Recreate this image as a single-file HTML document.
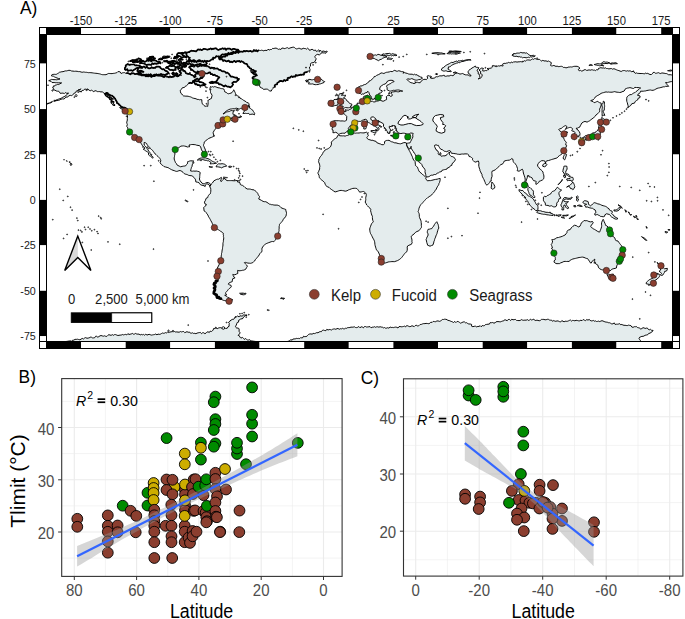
<!DOCTYPE html>
<html><head><meta charset="utf-8"><style>
html,body{margin:0;padding:0;background:#fff;}
body{width:685px;height:619px;overflow:hidden;}
svg{display:block;font-family:"Liberation Sans",sans-serif;}
</style></head><body>
<svg width="685" height="619" viewBox="0 0 685 619">
<rect width="685" height="619" fill="#fff"/>
<defs><clipPath id="mc"><rect x="46.5" y="34.5" width="626.0" height="307.0"/></clipPath>
<clipPath id="pb"><rect x="61.7" y="378.6" width="280.4" height="197.8"/></clipPath>
<clipPath id="pc"><rect x="403.5" y="378.8" width="279.4" height="197.3"/></clipPath></defs>
<text transform="translate(20.0,13.8) scale(1,1.09)" font-size="17.4" fill="#000">A)</text>
<g clip-path="url(#mc)">
<path d="M338.3,134.9L339.9,135.8L341.1,135.8L342.3,135.9L343.4,135.8L345.2,136.1L346.4,135.6L347.7,135.4L348.8,134.9L350.1,134.2L351.5,133.6L352.8,133.4L354.2,133.0L355.3,133.2L356.5,133.0L357.7,133.0L359.1,133.0L360.4,132.7L361.6,132.8L362.8,132.9L364.0,132.9L365.2,132.6L366.3,132.1L367.5,133.0L368.4,132.7L367.5,133.9L368.4,135.4L367.6,136.5L366.8,137.6L367.5,138.8L368.8,139.6L370.0,139.8L371.1,140.3L372.9,140.3L373.9,140.8L375.0,141.1L376.1,141.4L376.8,142.7L378.0,143.1L379.1,143.6L380.5,144.0L381.8,144.7L383.6,144.7L384.5,143.6L384.5,141.6L386.3,140.5L387.6,140.4L389.0,140.3L390.3,141.1L391.6,141.8L392.8,142.0L393.8,142.5L394.8,142.9L396.0,142.8L397.0,143.2L398.2,143.5L399.4,143.7L400.6,143.8L401.9,143.4L403.2,142.8L405.0,142.5L406.5,143.2L406.6,144.4L406.8,145.6L407.3,147.2L408.0,148.2L408.4,149.3L409.1,150.3L409.8,151.5L410.4,152.7L411.0,153.8L411.5,155.1L412.2,156.3L412.6,157.6L413.1,159.0L413.7,160.0L414.4,160.9L415.2,161.7L415.2,163.0L415.4,164.2L415.4,165.4L416.4,166.3L417.5,167.2L417.9,168.4L418.4,169.6L418.8,170.8L419.8,172.1L421.1,173.1L422.3,174.1L423.3,175.1L424.3,175.9L425.3,176.7L426.1,177.6L425.7,178.8L426.6,179.8L427.3,180.8L429.1,180.6L430.5,180.6L431.8,180.3L433.0,180.0L434.1,179.7L435.6,179.4L437.2,179.2L438.6,178.7L440.2,178.5L440.2,179.6L440.0,180.8L439.5,182.6L438.9,183.6L438.7,184.8L438.1,185.7L437.3,186.8L436.8,187.9L436.3,189.0L435.7,190.0L435.0,190.7L434.5,191.7L433.6,192.8L432.6,193.7L431.8,194.8L430.9,195.5L430.1,196.1L429.1,196.6L428.2,197.3L427.4,198.1L426.4,198.6L425.5,199.5L424.7,200.5L423.8,201.4L422.9,202.5L422.0,203.5L421.1,204.5L420.2,205.4L419.6,206.8L419.0,208.3L418.8,209.4L418.5,210.5L418.1,211.5L418.6,212.5L419.1,213.5L419.3,214.9L419.3,216.3L419.6,217.7L420.2,219.0L420.7,220.1L421.1,221.3L421.2,222.7L421.4,224.0L421.3,225.3L421.5,226.4L421.4,227.5L420.7,228.4L420.0,229.4L419.3,230.4L418.1,231.1L416.9,231.5L415.7,232.2L414.8,233.1L414.0,234.1L413.0,234.7L412.1,235.4L411.3,236.2L411.4,237.6L411.8,239.0L412.0,240.2L411.9,241.4L412.2,242.6L411.3,244.4L410.1,244.8L408.9,245.3L407.7,245.9L407.2,247.1L407.3,249.0L407.2,250.3L406.8,251.7L405.6,252.5L404.7,253.5L404.0,254.4L403.4,255.3L402.7,256.2L401.7,257.5L400.6,258.6L399.7,259.3L398.8,259.9L397.5,260.6L396.1,261.1L394.3,261.7L393.1,261.6L391.9,261.6L390.7,261.7L389.4,261.8L388.1,262.0L386.9,262.5L385.7,262.9L384.5,263.1L382.7,262.6L381.6,261.9L381.5,259.9L380.8,258.0L380.3,256.6L379.7,255.3L379.3,254.1L378.8,253.0L378.3,251.9L377.4,250.8L376.5,249.9L376.0,248.5L375.6,247.1L375.2,245.8L374.9,244.4L374.8,242.9L374.5,241.3L374.1,240.2L373.5,239.1L372.9,238.1L372.3,236.8L371.7,235.6L371.1,234.4L370.5,233.5L370.2,232.4L369.9,231.3L369.8,230.2L369.7,229.0L370.1,227.6L370.6,226.2L371.1,224.9L371.6,223.5L372.6,222.7L373.3,221.7L372.8,220.4L372.5,219.0L372.4,217.6L372.4,216.3L371.8,215.1L371.4,213.9L371.1,212.6L370.6,210.8L370.8,209.5L369.9,208.1L368.4,206.8L367.6,205.9L366.7,205.0L366.0,203.5L365.2,202.1L365.6,200.8L365.8,199.5L365.7,198.4L365.8,197.2L366.2,195.8L366.3,194.4L365.6,193.0L364.5,192.1L363.6,191.5L362.4,191.6L361.3,191.9L359.5,192.1L359.0,191.1L358.3,190.3L357.6,189.3L356.8,188.5L355.5,188.3L354.2,188.3L352.8,188.4L351.5,188.8L349.7,189.5L348.3,190.0L347.0,190.8L345.2,191.2L343.9,190.8L342.6,190.6L341.2,190.4L339.9,190.5L338.5,190.9L337.2,191.4L335.2,191.9L333.6,191.2L332.6,190.1L331.3,189.4L330.2,188.6L329.2,187.5L327.8,186.9L326.5,186.3L326.0,185.3L325.2,184.5L324.7,182.6L323.9,181.8L322.9,181.2L321.7,179.9L320.5,178.8L319.3,177.7L319.2,176.5L319.0,175.4L318.1,173.6L317.6,173.0L318.3,172.2L318.8,171.2L319.1,170.1L319.7,169.0L319.6,167.6L319.9,166.3L319.7,165.2L319.5,164.1L319.0,162.9L318.5,161.7L318.8,160.6L318.8,159.4L319.5,158.4L319.9,157.2L320.7,156.3L321.5,155.4L322.6,153.6L323.3,152.1L324.3,151.1L325.2,149.9L326.3,149.4L327.4,149.0L328.5,148.4L329.5,147.6L330.4,146.9L330.9,145.9L331.5,144.1L331.3,142.1L332.7,140.7L333.5,139.7L334.5,139.0L335.6,138.4L336.7,137.8L337.6,135.9ZM54.5,101.1L55.7,100.7L55.2,100.1L53.9,100.5ZM52.8,101.6L53.4,101.2L52.5,101.4ZM52.1,102.0L50.7,102.9L49.3,103.1L50.3,102.5L51.4,101.8ZM49.1,103.2L48.0,103.8L47.0,104.0L47.8,103.2ZM46.1,104.0L44.5,104.3L45.4,103.8ZM43.2,104.7L42.0,104.8L40.9,105.2L41.8,104.7ZM111.4,100.0L112.8,98.9L111.6,98.3L110.5,97.6L109.3,98.1L110.0,99.2ZM108.7,97.2L109.6,96.0L108.0,94.7L106.9,95.6L107.5,96.8ZM106.9,96.0L106.4,94.9L105.1,94.2L106.0,95.6ZM112.3,103.2L113.7,102.0L112.8,101.6L111.2,101.8L111.6,102.9ZM114.4,105.1L113.5,104.3L112.6,103.6L113.4,104.9ZM18.6,342.5L19.7,342.5L20.8,342.4L21.9,342.3L23.0,342.3L24.2,342.2L25.3,342.1L26.4,342.1L27.5,342.0L28.6,342.0L29.7,342.0L30.8,342.0L32.0,342.0L33.1,342.0L34.2,342.1L35.3,342.1L36.4,342.1L37.5,342.1L38.7,342.1L39.8,342.1L40.9,342.1L42.0,342.1L43.1,342.1L44.2,342.2L45.4,342.2L46.5,342.2L47.6,342.1L48.8,342.1L49.9,342.1L51.0,342.1L52.2,342.1L53.3,342.1L54.4,342.0L55.6,342.0L56.7,342.0L57.8,342.0L59.0,341.9L60.1,341.9L61.2,341.8L62.3,341.7L63.4,341.6L64.5,341.6L65.7,341.5L66.8,341.4L68.0,341.2L69.2,341.0L70.3,340.8L71.6,341.3L72.7,340.1L73.9,340.2L75.0,339.3L76.2,339.4L77.4,339.2L78.7,339.5L79.9,339.8L81.1,339.1L82.2,338.4L83.5,339.0L84.5,338.1L85.7,337.6L87.0,338.3L88.2,338.0L89.3,338.0L90.2,337.0L91.4,337.2L92.5,337.9L93.6,337.9L94.7,337.7L95.6,336.3L96.7,336.3L97.9,337.3L98.9,336.5L100.0,335.9L101.0,335.5L102.2,335.9L103.4,336.2L104.5,335.8L105.7,336.3L106.8,336.4L107.8,335.4L108.9,334.6L110.0,335.1L111.2,335.3L112.3,334.6L113.4,335.3L114.5,334.6L115.6,334.6L116.8,335.1L117.9,335.5L119.0,335.3L120.1,335.1L121.2,335.1L122.3,334.5L123.5,334.9L124.6,334.6L125.7,334.4L126.8,334.9L127.9,333.6L129.0,334.5L130.1,334.2L131.2,334.0L132.3,333.4L133.5,334.2L134.6,334.0L135.7,333.4L136.8,334.1L137.9,334.1L139.1,334.1L140.1,335.0L141.3,334.4L142.4,334.8L143.5,334.4L144.6,335.2L145.8,334.0L146.8,335.1L148.0,334.7L149.1,334.3L150.2,334.7L151.3,335.1L152.5,334.9L153.6,334.7L154.7,334.5L155.7,334.0L157.0,334.9L158.0,334.0L159.2,334.4L160.3,334.2L161.4,333.6L162.4,333.0L163.5,333.3L164.6,333.1L165.6,332.6L166.7,332.9L167.7,332.0L168.9,332.5L169.9,332.0L171.0,331.9L172.1,331.6L173.3,331.7L174.5,331.5L175.6,332.0L176.8,331.9L178.0,332.1L179.2,332.2L180.4,331.5L181.5,331.9L182.6,331.6L183.7,331.5L184.8,332.7L185.9,332.2L187.0,331.6L188.2,332.4L189.3,331.9L190.3,333.1L191.4,333.2L192.6,332.8L193.7,333.5L194.8,333.3L195.9,333.7L197.1,333.1L198.2,332.8L199.3,332.6L200.4,332.4L201.5,333.7L202.7,332.7L203.8,332.8L204.9,333.7L206.0,333.1L206.9,332.2L207.9,331.7L209.3,332.5L210.1,331.1L211.4,331.5L212.3,330.9L213.2,330.0L213.5,328.6L214.9,328.5L215.9,327.8L217.2,328.7L218.2,328.1L219.2,327.8L220.3,327.6L221.3,328.0L222.4,328.4L223.5,328.4L224.6,327.9L225.6,328.4L227.2,328.3L228.0,326.8L229.2,326.2L229.0,324.9L229.4,323.6L228.3,322.5L229.4,322.0L230.0,320.8L231.0,320.2L232.2,319.4L233.7,319.3L234.6,318.0L235.3,316.8L236.5,316.7L237.5,316.0L239.1,316.9L239.9,315.8L241.2,316.0L242.5,316.1L243.6,314.7L245.0,315.3L246.2,314.7L247.1,315.5L245.6,315.5L244.6,316.4L243.5,317.1L243.0,318.3L242.0,318.9L240.6,318.8L239.9,319.8L238.6,320.3L238.6,322.1L237.2,322.5L236.7,323.8L236.3,325.1L235.5,326.2L235.9,327.4L236.8,328.1L238.3,328.0L239.0,328.9L239.2,330.0L239.0,331.3L239.9,332.2L239.9,333.6L238.9,334.3L238.1,335.3L239.4,335.8L239.9,337.1L240.9,338.1L242.5,337.4L243.5,338.4L244.3,339.4L245.7,338.5L246.5,339.4L247.5,340.0L248.6,340.0L249.8,339.7L250.6,340.7L251.7,340.9L252.9,341.1L254.0,341.3L255.1,341.4L256.2,341.6L257.3,341.8L258.4,342.0L259.6,342.2L260.7,342.2L261.8,342.3L262.9,342.3L264.0,342.4L265.1,342.4L266.2,342.4L267.4,342.5L268.5,342.5L269.6,342.6L270.7,342.7L271.9,342.8L273.0,342.9L274.2,342.9L275.3,343.0L276.4,343.1L277.6,343.2L278.7,343.3L279.8,343.4L281.0,343.4L282.1,343.1L283.2,342.8L284.3,342.4L285.4,342.1L286.5,341.7L287.7,341.4L288.8,341.1L289.9,340.7L290.7,339.6L292.1,340.2L292.9,339.1L294.1,338.9L295.2,338.9L296.3,338.4L297.4,338.5L298.5,338.4L299.7,338.6L300.6,337.6L301.8,337.9L302.9,337.6L303.5,336.2L304.8,336.7L305.9,336.5L306.9,336.3L307.7,335.3L308.6,334.4L309.7,334.0L310.9,333.9L312.1,334.2L313.1,333.4L314.4,333.6L315.6,333.2L316.7,332.6L318.0,332.8L319.1,332.0L320.2,331.6L321.4,331.7L322.3,330.4L323.4,330.1L324.7,330.5L325.9,330.7L326.8,329.3L328.1,330.0L329.2,329.5L330.3,329.6L331.5,330.0L332.5,329.3L333.6,329.0L334.7,328.9L335.9,329.3L337.0,328.6L338.1,328.5L339.2,329.3L340.3,328.7L341.4,328.9L342.4,328.3L343.5,328.8L344.6,328.8L345.6,328.2L346.7,328.3L347.7,327.6L348.8,327.6L349.9,327.5L351.0,327.1L352.1,327.2L353.2,327.1L354.4,326.8L355.5,327.5L356.6,327.6L357.7,327.3L358.8,326.5L360.0,327.8L361.1,326.8L362.2,326.9L363.3,327.9L364.4,326.6L365.5,326.5L366.7,327.1L367.8,326.9L368.9,326.8L370.0,326.6L371.1,327.8L372.2,327.2L373.3,327.2L374.5,326.7L375.6,327.3L376.7,326.8L377.8,326.8L378.9,327.2L380.1,326.7L381.2,327.1L382.3,327.1L383.4,327.9L384.5,327.5L385.6,328.2L386.7,328.1L387.8,327.7L388.9,328.2L390.1,327.0L391.2,327.5L392.3,327.4L393.4,327.6L394.5,327.3L395.6,327.1L396.8,327.3L398.0,328.0L399.0,326.6L400.1,326.5L401.2,326.8L402.4,326.7L403.4,326.5L404.4,326.1L405.7,326.9L406.6,325.6L407.7,325.8L408.7,326.3L409.8,326.7L410.9,326.4L412.0,325.7L413.1,326.2L414.2,326.6L415.2,325.6L416.2,325.2L417.3,325.9L418.4,325.8L419.4,325.3L420.2,324.5L421.4,324.4L422.5,323.9L423.7,323.6L424.9,323.6L426.1,323.4L427.3,323.5L428.8,323.7L429.9,323.2L430.9,322.2L432.2,322.4L433.2,321.4L434.5,321.6L435.7,321.7L436.8,321.0L438.1,320.9L439.3,321.4L440.4,321.0L441.4,320.4L442.3,319.5L443.4,319.5L444.6,319.2L445.8,319.3L447.0,319.6L447.9,320.4L449.1,320.5L450.2,321.0L451.2,321.4L452.3,321.8L453.5,322.5L454.8,321.4L455.9,322.6L457.1,321.4L458.3,321.6L459.5,322.4L460.6,323.2L461.8,322.6L463.1,322.0L464.3,321.8L465.4,322.8L466.6,322.7L467.7,323.5L468.8,324.0L470.2,324.0L471.6,324.4L471.6,326.2L472.9,326.7L474.2,326.3L475.5,326.2L476.7,326.9L477.9,326.4L479.1,326.5L480.1,325.6L481.3,326.8L482.2,325.5L483.4,325.8L484.5,325.6L485.4,324.6L486.7,324.4L488.0,324.2L489.4,324.1L490.2,322.6L491.6,322.7L492.7,322.5L493.9,323.1L495.0,322.9L495.9,321.9L497.0,321.6L498.0,321.6L499.1,321.7L500.2,321.9L501.3,321.5L502.3,321.1L503.6,321.0L504.5,319.8L505.9,320.0L507.1,320.8L508.2,319.5L509.4,319.4L510.7,320.5L511.8,319.2L513.0,319.8L514.2,319.6L515.5,319.4L516.6,320.5L517.8,320.5L519.0,320.6L520.2,320.5L521.3,319.6L522.5,320.1L523.8,320.3L524.9,320.1L526.2,320.2L527.3,319.6L528.4,320.4L529.4,320.3L530.5,319.1L531.6,320.0L532.7,319.6L533.8,319.1L534.7,320.3L535.8,320.5L536.9,320.2L538.0,320.4L539.2,320.8L540.4,320.4L541.5,319.4L542.7,319.4L543.9,319.4L545.1,319.8L546.2,319.7L547.3,319.3L548.4,319.3L549.4,320.0L550.5,320.2L551.6,320.1L552.5,321.3L553.8,320.5L554.8,321.1L555.9,321.3L557.0,320.9L558.2,321.0L559.4,321.6L560.6,322.0L561.8,320.6L563.0,321.3L564.1,321.8L565.1,321.2L566.2,321.3L567.3,321.3L568.4,320.9L569.4,320.4L570.4,320.0L571.6,321.1L572.6,320.4L573.7,320.5L574.9,320.8L576.1,320.3L577.3,320.5L578.5,320.8L579.7,320.8L580.9,320.2L582.0,320.7L583.2,319.5L584.4,320.2L585.6,320.6L586.8,319.5L588.0,320.2L589.1,319.4L590.1,320.3L591.2,320.9L592.3,320.8L593.3,320.4L594.3,321.2L595.5,320.9L596.5,321.5L597.6,321.4L598.7,321.1L599.7,321.6L600.8,321.1L602.0,320.7L603.0,321.0L604.1,321.5L605.1,321.9L606.2,322.1L607.3,322.2L608.3,322.7L609.4,322.7L610.5,323.2L611.7,323.9L612.9,323.8L614.3,322.9L615.2,324.5L616.5,324.2L617.6,324.2L618.7,324.0L619.8,323.7L620.8,324.8L621.9,324.4L622.9,325.0L624.0,325.3L625.1,325.3L626.2,325.5L627.3,325.6L628.6,325.1L629.7,325.4L630.9,325.6L631.9,327.1L633.1,327.3L634.4,326.7L635.6,326.7L636.7,326.7L637.6,327.6L638.7,327.8L639.8,328.2L640.8,329.1L641.9,328.5L643.0,327.7L644.1,327.9L645.1,328.5L646.3,328.1L647.4,328.1L648.3,329.4L649.3,329.8L650.5,329.3L651.6,330.3L653.1,330.4L652.2,331.8L651.1,332.4L650.0,333.2L648.7,333.4L647.8,334.7L646.5,335.0L645.1,335.3L644.1,335.9L643.1,336.4L641.9,336.3L640.9,336.8L639.8,337.1L639.0,338.4L639.8,339.8L640.6,340.7L641.5,341.6L642.7,341.7L643.9,341.8L645.1,341.9L646.3,342.0L647.5,342.1L648.7,342.2L649.8,342.2L651.0,342.3L652.1,342.3L653.2,342.4L654.4,342.4L655.5,342.5L656.6,342.5L657.8,342.6L658.9,342.6L660.0,342.7L661.2,342.7L662.3,342.7L663.4,342.6L664.5,342.6L665.6,342.5L666.8,342.5L667.9,342.4L669.0,342.4L670.1,342.4L671.2,342.4L672.3,342.4L673.4,342.4L674.6,342.4L675.7,342.5L676.8,342.5L677.9,342.5L679.0,342.5L679.0,343.6L679.0,344.7L679.0,345.8L679.0,346.9L679.0,348.0L679.0,349.1L679.0,350.2L679.0,351.3L679.0,352.4L679.0,353.5L679.0,354.6L679.0,355.7L679.0,356.8L679.0,357.9L679.0,359.0L679.0,360.1L679.0,361.2L679.0,362.3L679.0,363.4L678.0,363.4L676.9,363.4L675.8,363.4L674.7,363.4L673.7,363.4L672.6,363.4L671.5,363.4L670.4,363.4L669.4,363.4L668.3,363.4L667.2,363.4L666.2,363.4L665.1,363.4L664.0,363.4L662.9,363.4L661.9,363.4L660.8,363.4L659.7,363.4L658.7,363.4L657.6,363.4L656.5,363.4L655.4,363.4L654.4,363.4L653.3,363.4L652.2,363.4L651.1,363.4L650.1,363.4L649.0,363.4L647.9,363.4L646.9,363.4L645.8,363.4L644.7,363.4L643.6,363.4L642.6,363.4L641.5,363.4L640.4,363.4L639.4,363.4L638.3,363.4L637.2,363.4L636.1,363.4L635.1,363.4L634.0,363.4L632.9,363.4L631.9,363.4L630.8,363.4L629.7,363.4L628.6,363.4L627.6,363.4L626.5,363.4L625.4,363.4L624.3,363.4L623.3,363.4L622.2,363.4L621.1,363.4L620.1,363.4L619.0,363.4L617.9,363.4L616.8,363.4L615.8,363.4L614.7,363.4L613.6,363.4L612.6,363.4L611.5,363.4L610.4,363.4L609.3,363.4L608.3,363.4L607.2,363.4L606.1,363.4L605.0,363.4L604.0,363.4L602.9,363.4L601.8,363.4L600.8,363.4L599.7,363.4L598.6,363.4L597.5,363.4L596.5,363.4L595.4,363.4L594.3,363.4L593.3,363.4L592.2,363.4L591.1,363.4L590.0,363.4L589.0,363.4L587.9,363.4L586.8,363.4L585.7,363.4L584.7,363.4L583.6,363.4L582.5,363.4L581.5,363.4L580.4,363.4L579.3,363.4L578.2,363.4L577.2,363.4L576.1,363.4L575.0,363.4L574.0,363.4L572.9,363.4L571.8,363.4L570.7,363.4L569.7,363.4L568.6,363.4L567.5,363.4L566.4,363.4L565.4,363.4L564.3,363.4L563.2,363.4L562.2,363.4L561.1,363.4L560.0,363.4L558.9,363.4L557.9,363.4L556.8,363.4L555.7,363.4L554.7,363.4L553.6,363.4L552.5,363.4L551.4,363.4L550.4,363.4L549.3,363.4L548.2,363.4L547.1,363.4L546.1,363.4L545.0,363.4L543.9,363.4L542.9,363.4L541.8,363.4L540.7,363.4L539.6,363.4L538.6,363.4L537.5,363.4L536.4,363.4L535.4,363.4L534.3,363.4L533.2,363.4L532.1,363.4L531.1,363.4L530.0,363.4L528.9,363.4L527.9,363.4L526.8,363.4L525.7,363.4L524.6,363.4L523.6,363.4L522.5,363.4L521.4,363.4L520.3,363.4L519.3,363.4L518.2,363.4L517.1,363.4L516.1,363.4L515.0,363.4L513.9,363.4L512.8,363.4L511.8,363.4L510.7,363.4L509.6,363.4L508.6,363.4L507.5,363.4L506.4,363.4L505.3,363.4L504.3,363.4L503.2,363.4L502.1,363.4L501.0,363.4L500.0,363.4L498.9,363.4L497.8,363.4L496.8,363.4L495.7,363.4L494.6,363.4L493.5,363.4L492.5,363.4L491.4,363.4L490.3,363.4L489.3,363.4L488.2,363.4L487.1,363.4L486.0,363.4L485.0,363.4L483.9,363.4L482.8,363.4L481.7,363.4L480.7,363.4L479.6,363.4L478.5,363.4L477.5,363.4L476.4,363.4L475.3,363.4L474.2,363.4L473.2,363.4L472.1,363.4L471.0,363.4L470.0,363.4L468.9,363.4L467.8,363.4L466.7,363.4L465.7,363.4L464.6,363.4L463.5,363.4L462.4,363.4L461.4,363.4L460.3,363.4L459.2,363.4L458.2,363.4L457.1,363.4L456.0,363.4L454.9,363.4L453.9,363.4L452.8,363.4L451.7,363.4L450.7,363.4L449.6,363.4L448.5,363.4L447.4,363.4L446.4,363.4L445.3,363.4L444.2,363.4L443.2,363.4L442.1,363.4L441.0,363.4L439.9,363.4L438.9,363.4L437.8,363.4L436.7,363.4L435.6,363.4L434.6,363.4L433.5,363.4L432.4,363.4L431.4,363.4L430.3,363.4L429.2,363.4L428.1,363.4L427.1,363.4L426.0,363.4L424.9,363.4L423.9,363.4L422.8,363.4L421.7,363.4L420.6,363.4L419.6,363.4L418.5,363.4L417.4,363.4L416.3,363.4L415.3,363.4L414.2,363.4L413.1,363.4L412.1,363.4L411.0,363.4L409.9,363.4L408.8,363.4L407.8,363.4L406.7,363.4L405.6,363.4L404.6,363.4L403.5,363.4L402.4,363.4L401.3,363.4L400.3,363.4L399.2,363.4L398.1,363.4L397.0,363.4L396.0,363.4L394.9,363.4L393.8,363.4L392.8,363.4L391.7,363.4L390.6,363.4L389.5,363.4L388.5,363.4L387.4,363.4L386.3,363.4L385.3,363.4L384.2,363.4L383.1,363.4L382.0,363.4L381.0,363.4L379.9,363.4L378.8,363.4L377.7,363.4L376.7,363.4L375.6,363.4L374.5,363.4L373.5,363.4L372.4,363.4L371.3,363.4L370.2,363.4L369.2,363.4L368.1,363.4L367.0,363.4L366.0,363.4L364.9,363.4L363.8,363.4L362.7,363.4L361.7,363.4L360.6,363.4L359.5,363.4L358.4,363.4L357.4,363.4L356.3,363.4L355.2,363.4L354.2,363.4L353.1,363.4L352.0,363.4L350.9,363.4L349.9,363.4L348.8,363.4L347.7,363.4L346.7,363.4L345.6,363.4L344.5,363.4L343.4,363.4L342.4,363.4L341.3,363.4L340.2,363.4L339.2,363.4L338.1,363.4L337.0,363.4L335.9,363.4L334.9,363.4L333.8,363.4L332.7,363.4L331.6,363.4L330.6,363.4L329.5,363.4L328.4,363.4L327.4,363.4L326.3,363.4L325.2,363.4L324.1,363.4L323.1,363.4L322.0,363.4L320.9,363.4L319.9,363.4L318.8,363.4L317.7,363.4L316.6,363.4L315.6,363.4L314.5,363.4L313.4,363.4L312.3,363.4L311.3,363.4L310.2,363.4L309.1,363.4L308.1,363.4L307.0,363.4L305.9,363.4L304.8,363.4L303.8,363.4L302.7,363.4L301.6,363.4L300.6,363.4L299.5,363.4L298.4,363.4L297.3,363.4L296.3,363.4L295.2,363.4L294.1,363.4L293.0,363.4L292.0,363.4L290.9,363.4L289.8,363.4L288.8,363.4L287.7,363.4L286.6,363.4L285.5,363.4L284.5,363.4L283.4,363.4L282.3,363.4L281.3,363.4L280.2,363.4L279.1,363.4L278.0,363.4L277.0,363.4L275.9,363.4L274.8,363.4L273.7,363.4L272.7,363.4L271.6,363.4L270.5,363.4L269.5,363.4L268.4,363.4L267.3,363.4L266.2,363.4L265.2,363.4L264.1,363.4L263.0,363.4L262.0,363.4L260.9,363.4L259.8,363.4L258.7,363.4L257.7,363.4L256.6,363.4L255.5,363.4L254.4,363.4L253.4,363.4L252.3,363.4L251.2,363.4L250.2,363.4L249.1,363.4L248.0,363.4L246.9,363.4L245.9,363.4L244.8,363.4L243.7,363.4L242.7,363.4L241.6,363.4L240.5,363.4L239.4,363.4L238.4,363.4L237.3,363.4L236.2,363.4L235.2,363.4L234.1,363.4L233.0,363.4L231.9,363.4L230.9,363.4L229.8,363.4L228.7,363.4L227.6,363.4L226.6,363.4L225.5,363.4L224.4,363.4L223.4,363.4L222.3,363.4L221.2,363.4L220.1,363.4L219.1,363.4L218.0,363.4L216.9,363.4L215.9,363.4L214.8,363.4L213.7,363.4L212.6,363.4L211.6,363.4L210.5,363.4L209.4,363.4L208.3,363.4L207.3,363.4L206.2,363.4L205.1,363.4L204.1,363.4L203.0,363.4L201.9,363.4L200.8,363.4L199.8,363.4L198.7,363.4L197.6,363.4L196.6,363.4L195.5,363.4L194.4,363.4L193.3,363.4L192.3,363.4L191.2,363.4L190.1,363.4L189.0,363.4L188.0,363.4L186.9,363.4L185.8,363.4L184.8,363.4L183.7,363.4L182.6,363.4L181.5,363.4L180.5,363.4L179.4,363.4L178.3,363.4L177.3,363.4L176.2,363.4L175.1,363.4L174.0,363.4L173.0,363.4L171.9,363.4L170.8,363.4L169.7,363.4L168.7,363.4L167.6,363.4L166.5,363.4L165.5,363.4L164.4,363.4L163.3,363.4L162.2,363.4L161.2,363.4L160.1,363.4L159.0,363.4L158.0,363.4L156.9,363.4L155.8,363.4L154.7,363.4L153.7,363.4L152.6,363.4L151.5,363.4L150.5,363.4L149.4,363.4L148.3,363.4L147.2,363.4L146.2,363.4L145.1,363.4L144.0,363.4L142.9,363.4L141.9,363.4L140.8,363.4L139.7,363.4L138.7,363.4L137.6,363.4L136.5,363.4L135.4,363.4L134.4,363.4L133.3,363.4L132.2,363.4L131.2,363.4L130.1,363.4L129.0,363.4L127.9,363.4L126.9,363.4L125.8,363.4L124.7,363.4L123.6,363.4L122.6,363.4L121.5,363.4L120.4,363.4L119.4,363.4L118.3,363.4L117.2,363.4L116.1,363.4L115.1,363.4L114.0,363.4L112.9,363.4L111.9,363.4L110.8,363.4L109.7,363.4L108.6,363.4L107.6,363.4L106.5,363.4L105.4,363.4L104.3,363.4L103.3,363.4L102.2,363.4L101.1,363.4L100.1,363.4L99.0,363.4L97.9,363.4L96.8,363.4L95.8,363.4L94.7,363.4L93.6,363.4L92.6,363.4L91.5,363.4L90.4,363.4L89.3,363.4L88.3,363.4L87.2,363.4L86.1,363.4L85.0,363.4L84.0,363.4L82.9,363.4L81.8,363.4L80.8,363.4L79.7,363.4L78.6,363.4L77.5,363.4L76.5,363.4L75.4,363.4L74.3,363.4L73.3,363.4L72.2,363.4L71.1,363.4L70.0,363.4L69.0,363.4L67.9,363.4L66.8,363.4L65.8,363.4L64.7,363.4L63.6,363.4L62.5,363.4L61.5,363.4L60.4,363.4L59.3,363.4L58.2,363.4L57.2,363.4L56.1,363.4L55.0,363.4L54.0,363.4L52.9,363.4L51.8,363.4L50.7,363.4L49.7,363.4L48.6,363.4L47.5,363.4L46.5,363.4L45.4,363.4L44.3,363.4L43.2,363.4L42.2,363.4L41.1,363.4L40.0,363.4L38.9,363.4L37.9,363.4L36.8,363.4L35.7,363.4L34.7,363.4L33.6,363.4L32.5,363.4L31.4,363.4L30.4,363.4L29.3,363.4L28.2,363.4L27.2,363.4L26.1,363.4L25.0,363.4L23.9,363.4L22.9,363.4L21.8,363.4L20.7,363.4L19.6,363.4L18.6,363.4L18.6,362.3L18.6,361.2L18.6,360.1L18.6,359.0L18.6,357.9L18.6,356.8L18.6,355.7L18.6,354.6L18.6,353.5L18.6,352.4L18.6,351.3L18.6,350.2L18.6,349.1L18.6,348.0L18.6,346.9L18.6,345.8L18.6,344.7L18.6,343.6ZM551.6,239.9L552.6,240.8L552.4,242.2L551.9,243.5L551.2,244.4L551.7,245.6L552.1,246.8L552.6,247.7L551.4,248.1L552.3,249.3L553.0,250.8L553.5,251.9L553.9,253.1L554.0,254.2L554.1,255.3L554.7,256.4L555.3,257.5L555.3,258.7L555.3,259.9L554.1,260.8L554.1,262.2L555.0,262.8L555.9,263.5L557.0,263.7L558.1,263.6L559.3,263.7L560.6,262.9L562.1,262.4L563.9,261.5L565.2,261.4L566.6,261.5L567.9,261.4L569.2,261.5L570.5,259.9L571.7,259.5L572.8,259.0L574.2,258.7L575.5,258.4L576.7,258.1L577.9,257.8L579.1,257.5L580.3,257.4L581.4,257.2L582.6,257.1L584.0,257.4L585.3,258.0L586.4,258.4L587.6,258.6L588.5,259.9L589.4,261.2L590.1,262.6L591.2,263.1L592.1,261.3L593.3,260.4L594.8,259.1L594.7,260.2L594.4,261.3L594.1,263.3L595.3,262.2L595.8,264.0L596.4,264.4L598.0,265.3L598.3,267.1L599.0,268.1L599.8,268.9L601.6,269.7L602.6,269.9L603.7,270.0L605.1,270.4L606.1,269.8L607.3,269.5L608.5,270.0L609.9,270.9L610.9,270.3L611.7,269.3L612.8,268.9L613.9,268.6L615.1,268.4L616.4,268.0L616.7,266.0L617.2,264.8L617.8,263.7L618.1,262.6L618.7,261.7L619.4,259.9L620.2,259.1L621.0,258.4L621.7,257.0L622.1,255.0L622.7,253.5L623.0,251.9L622.6,250.7L622.3,249.5L622.2,248.3L622.1,247.1L621.5,245.7L620.6,244.7L619.8,243.7L619.2,242.8L618.5,241.9L618.0,241.0L616.8,240.8L615.7,240.4L615.2,239.2L614.8,238.1L613.5,236.6L612.6,236.0L611.6,235.5L610.8,234.8L610.3,233.6L609.6,232.6L609.2,230.6L608.3,229.3L608.2,228.3L608.2,227.2L606.9,225.9L605.5,225.3L605.3,224.2L604.9,223.2L604.2,221.8L603.7,220.4L603.2,219.3L602.3,220.8L601.6,222.8L601.5,224.1L601.7,225.3L601.6,226.7L601.2,228.1L600.8,229.2L600.3,230.3L600.1,231.5L599.1,232.1L597.3,231.2L595.7,230.1L594.5,229.4L593.3,228.8L592.4,228.1L591.4,227.5L590.7,226.6L591.4,225.0L592.5,223.9L593.2,222.2L592.5,221.5L590.7,221.9L588.9,221.5L587.6,220.9L586.2,220.6L585.1,220.8L584.1,220.4L583.3,221.2L582.6,222.1L581.4,222.8L580.7,224.6L580.0,226.2L578.2,227.0L577.3,226.3L576.4,225.7L574.6,225.2L573.0,226.2L572.1,227.2L571.0,228.1L570.1,229.7L568.4,229.9L567.1,231.3L566.9,232.8L566.0,233.8L565.1,235.0L563.9,235.5L562.6,236.2L560.9,236.8L559.7,237.1L558.5,237.5L556.8,237.7L555.9,238.4L555.0,239.0L553.4,239.5ZM187.3,56.4L186.3,57.4L185.0,56.9L183.8,56.7L182.8,57.4L181.6,57.8L180.7,56.8L179.7,56.3L178.6,55.9L177.4,56.4L176.9,55.1L177.4,53.8L178.5,53.0L179.8,53.1L181.0,53.1L182.2,52.7L183.5,53.1L184.6,52.4L186.0,52.6L186.4,54.0L186.6,55.3ZM239.0,78.9L238.3,80.1L237.2,80.9L236.2,81.8L235.0,82.0L233.7,81.8L232.2,83.1L233.1,84.5L232.5,85.4L231.9,86.3L230.1,87.4L229.0,86.7L227.7,86.7L226.5,86.2L225.4,85.4L224.1,86.5L223.0,85.8L221.7,84.8L220.3,84.3L219.0,84.4L218.3,83.0L217.1,82.9L215.9,82.7L214.6,82.5L213.4,82.9L212.2,83.1L211.0,82.2L209.6,82.5L210.9,83.2L211.9,81.6L213.2,82.2L214.4,82.0L215.6,81.7L216.7,81.1L217.2,80.1L217.6,79.1L218.6,78.3L219.4,77.3L217.9,76.7L216.7,75.8L215.5,75.6L214.6,74.7L213.1,75.2L212.2,74.0L210.8,74.2L210.1,72.4L208.7,72.7L207.6,73.4L206.5,73.5L205.4,73.4L204.2,72.9L203.2,72.1L202.0,73.3L201.0,72.8L200.0,71.6L198.9,72.3L197.8,71.3L196.5,72.9L195.5,72.2L194.4,71.8L193.4,70.8L192.3,69.9L190.8,70.0L190.8,68.7L190.0,67.9L189.0,67.3L190.2,66.2L191.7,66.0L192.9,66.3L194.1,66.7L195.3,65.3L196.5,65.6L197.7,66.7L198.9,66.2L200.1,65.4L201.4,65.9L202.6,65.5L203.8,65.7L205.1,66.0L206.5,65.7L207.5,66.3L208.7,66.6L209.6,67.6L210.6,68.3L211.8,67.6L212.8,68.0L213.9,67.8L214.9,68.3L216.0,68.7L217.2,68.3L218.2,69.1L219.1,69.9L220.3,69.8L221.3,70.7L222.4,71.4L223.9,71.3L225.0,71.7L226.0,72.9L227.4,72.5L228.3,73.4L229.2,74.2L230.1,75.6L231.0,76.7L232.3,76.5L233.4,77.0L234.6,77.4L235.7,77.7L237.0,77.5L237.6,79.4ZM554.1,214.6L555.3,215.2L554.4,215.9ZM555.9,215.2L557.1,214.8L556.8,216.1ZM557.6,215.2L558.8,214.9L560.0,214.9L561.2,214.8L560.3,215.9L559.2,216.1L558.0,216.3ZM562.6,215.3L564.2,215.3L565.7,215.3L567.0,215.0L568.4,215.0L566.6,215.9L565.4,215.8L564.2,215.9L563.0,215.9ZM561.2,217.2L562.6,217.0L563.9,217.2L564.4,218.4L563.3,217.9L562.1,217.7ZM569.2,218.6L570.1,217.6L571.0,216.6L572.1,216.2L573.3,216.0L574.4,215.4L575.5,215.0L574.3,215.8L573.2,216.6L571.9,217.2L571.0,217.7L570.1,218.4ZM133.7,70.0L132.7,71.0L131.5,70.3L130.4,70.4L129.2,70.5L127.9,70.9L127.2,69.1L125.8,70.0L124.8,69.3L124.9,67.9L125.7,66.8L125.7,65.4L126.6,64.7L127.8,64.0L129.1,64.9L130.3,64.7L131.6,64.5L132.8,64.5L134.1,64.3L135.2,65.5L136.5,65.3L137.8,65.5L139.1,65.6L140.4,66.2L141.7,66.9L140.8,67.8L139.5,67.1L138.7,68.3L137.4,67.9L136.4,68.3L135.0,69.2ZM174.8,64.0L173.7,63.5L172.6,63.9L171.5,64.6L170.5,64.0L169.4,63.6L168.1,62.9L167.6,61.4L168.9,61.6L170.1,61.6L171.4,61.5L172.6,60.9L173.9,60.9L175.3,61.3L176.5,62.2L176.0,63.4ZM543.4,197.2L544.4,196.3L546.0,196.8L547.3,195.5L548.4,195.2L549.4,194.5L550.5,194.1L551.3,192.7L552.3,191.5L553.5,191.1L554.8,190.6L555.9,189.0L556.7,188.2L557.3,187.2L558.2,187.9L559.4,189.0L560.5,189.6L561.6,190.1L560.1,191.2L559.1,192.3L558.9,193.9L559.4,195.5L560.1,196.9L561.0,198.1L559.3,198.4L558.5,200.4L558.5,201.4L556.9,202.6L556.7,203.8L556.8,205.0L555.9,206.6L554.6,206.9L553.4,206.8L552.4,206.3L551.4,205.7L550.3,206.0L549.3,206.1L548.0,205.4L546.7,205.4L545.5,205.2L545.3,204.1L545.3,203.0L544.4,201.9L543.5,200.8L543.4,199.2ZM573.7,205.7L575.5,205.5L575.9,206.8L574.1,206.8ZM182.8,63.8L181.7,64.0L180.7,64.0L179.6,64.2L178.5,64.0L177.4,63.8L176.5,62.5L177.6,62.0L178.9,62.7L179.8,61.7L181.0,61.8L181.8,62.9ZM364.2,122.5L365.6,121.8L365.8,123.6L365.2,124.7L364.3,124.1ZM390.7,135.2L392.5,135.6L393.6,135.5L394.7,135.8L395.7,135.8L395.4,136.3L394.1,136.3L392.9,136.5L391.9,136.1L390.7,135.9ZM197.3,160.1L198.4,159.1L199.8,158.3L201.3,158.0L202.8,157.9L204.1,157.9L205.5,157.9L206.7,158.4L208.0,158.7L209.2,159.2L210.3,159.8L211.2,160.5L212.2,161.2L213.3,161.7L214.4,162.1L215.4,162.7L216.5,163.2L215.1,163.4L213.7,163.7L212.5,163.7L211.3,163.8L210.1,163.9L211.0,162.5L209.8,161.7L208.7,160.8L207.5,160.8L206.3,160.3L205.1,160.3L203.9,159.9L202.8,159.6L201.5,159.6L200.3,159.9L198.8,159.9ZM406.5,136.3L407.7,135.6L409.1,135.2L410.6,135.0L409.3,136.5L407.7,137.0L406.6,136.9ZM205.1,64.5L203.9,64.7L202.6,65.3L201.4,64.4L200.1,63.7L198.9,64.5L197.7,64.3L196.5,64.6L195.3,65.2L194.1,65.3L192.9,64.3L191.7,64.4L190.5,64.1L189.3,63.5L188.0,64.4L186.8,63.5L185.5,64.0L184.9,62.8L183.7,62.7L185.1,63.1L186.2,62.7L186.9,61.2L188.2,61.1L189.3,61.8L190.6,60.3L191.7,61.9L192.9,60.5L194.1,61.9L195.3,61.3L196.5,62.1L197.7,60.7L198.9,61.5L200.0,60.6L201.3,61.5L202.4,60.9L203.5,61.9L204.9,60.9L206.0,61.6L206.9,63.3L206.2,64.2ZM387.2,59.3L388.3,59.2L389.4,59.3L390.5,59.6L391.6,59.4L392.5,58.5L391.4,58.4L390.3,58.2L389.2,58.0L388.1,57.8ZM206.9,60.9L205.8,61.8L204.6,60.6L203.6,62.0L202.4,61.3L201.2,61.6L200.1,60.3L198.9,60.2L197.7,61.3L196.5,61.5L195.3,60.9L194.1,60.1L192.8,60.4L191.5,61.1L190.3,60.0L189.0,60.5L188.9,59.0L189.9,57.8L188.9,57.5L188.0,56.5L186.8,56.7L185.6,56.8L184.6,56.4L183.8,55.6L182.6,55.3L182.3,53.8L181.0,53.6L182.1,52.9L183.4,53.4L184.5,52.6L185.7,52.4L187.0,52.6L188.2,52.2L189.3,52.2L190.3,51.2L191.3,50.7L192.5,50.8L193.7,50.9L194.9,51.2L196.1,51.4L197.1,50.4L198.1,49.4L199.3,49.8L200.4,49.4L201.6,50.2L202.7,49.6L203.8,48.8L205.0,49.0L206.1,49.3L207.3,49.7L208.4,49.3L209.6,49.1L210.7,48.4L211.8,49.3L212.9,48.7L214.0,48.8L215.1,48.3L216.2,48.4L217.3,49.4L218.4,49.9L219.5,49.4L220.6,49.1L221.7,48.8L222.7,48.3L223.9,48.9L225.0,48.3L226.1,49.9L227.3,48.5L228.4,48.6L229.6,48.6L230.7,49.2L231.8,49.8L233.0,48.8L234.1,48.9L235.2,49.2L236.3,49.6L238.0,49.6L239.0,50.9L237.8,50.9L236.6,50.7L235.6,51.8L234.5,52.5L233.2,51.7L232.2,52.9L231.0,52.7L230.0,53.8L228.5,52.9L227.5,53.8L226.3,54.2L225.0,54.2L223.9,54.5L222.6,54.4L221.6,54.8L220.8,56.1L219.7,56.5L218.5,56.4L217.4,56.5L216.2,56.1L215.4,57.7L214.3,57.9L213.1,57.6L213.1,59.4L211.8,59.3L210.7,60.2L209.5,61.0L208.3,61.3ZM406.8,145.6L406.6,144.4L406.5,143.2L407.6,143.2L408.7,143.0L409.8,143.0L410.6,141.6L411.5,139.8L412.3,138.4L412.9,136.9L412.7,134.9L413.2,133.4L412.3,133.2L410.7,133.0L409.1,134.1L407.3,134.3L405.9,133.6L404.7,133.3L403.4,133.2L402.2,133.3L400.9,133.6L399.1,133.2L397.5,132.3L397.0,131.0L395.9,130.3L396.6,128.7L395.6,128.1L395.7,127.0L395.4,126.1L395.2,125.8L393.4,125.6L391.6,125.9L391.1,126.9L389.7,126.1L389.1,126.9L389.7,128.3L390.2,129.4L391.6,130.5L389.9,130.9L390.0,131.9L389.7,133.4L389.0,133.6L387.5,132.9L387.2,131.2L386.5,130.3L385.7,128.9L384.7,127.8L383.4,126.5L383.6,124.9L383.4,123.8L382.0,122.9L381.0,122.4L380.0,121.8L378.9,121.3L377.7,120.9L376.7,120.2L375.8,119.6L375.2,118.1L374.3,117.6L373.3,116.9L371.8,117.0L370.8,117.6L370.8,118.9L371.3,120.0L373.1,120.9L374.0,122.5L375.6,123.6L376.6,123.7L377.7,123.8L377.2,124.5L379.1,125.2L380.9,126.1L381.8,127.0L380.9,127.2L379.5,126.5L378.3,127.8L379.3,128.9L378.4,130.1L377.5,131.0L376.8,130.9L377.0,129.6L377.4,128.3L376.6,127.2L375.6,126.7L374.7,126.1L373.6,125.0L371.8,124.7L370.6,123.9L369.5,123.0L368.4,122.5L367.5,121.8L367.0,120.1L365.2,119.2L363.8,119.8L362.4,120.3L360.8,121.4L359.7,121.4L358.6,121.4L357.6,121.1L356.5,121.0L355.0,121.2L354.3,122.0L354.5,123.0L354.5,123.8L352.7,124.9L351.5,124.9L350.4,125.4L349.8,126.5L348.8,127.4L348.3,128.5L349.2,129.4L347.9,130.3L347.4,131.6L346.3,131.8L345.1,133.2L343.8,133.2L342.6,133.2L340.8,133.4L339.9,133.8L338.8,134.5L337.7,133.6L337.2,132.9L335.6,132.3L334.2,132.7L332.9,132.7L333.1,131.0L332.9,129.9L332.0,129.6L332.2,128.3L332.9,126.9L333.3,125.4L332.9,123.8L332.9,122.7L332.4,121.8L334.0,120.9L335.4,120.5L336.9,120.8L338.4,120.7L339.6,120.8L340.8,121.0L342.1,120.9L343.4,121.0L344.5,121.2L345.6,121.0L346.5,120.0L346.7,118.1L346.7,116.3L345.9,115.5L345.2,114.7L344.3,114.0L342.6,113.2L340.8,112.9L340.4,112.0L341.1,111.4L342.3,111.4L343.4,111.2L345.2,111.6L346.1,111.4L345.4,109.6L346.7,110.1L347.7,110.1L348.8,110.1L349.7,109.4L351.5,108.7L351.7,107.4L353.3,107.1L355.0,106.5L356.3,105.6L357.2,104.0L358.6,103.1L359.8,103.2L360.9,102.9L362.2,102.5L364.0,102.5L364.9,101.8L364.2,100.1L363.6,99.1L363.3,97.1L364.2,96.1L365.5,96.0L366.7,95.4L367.7,95.1L367.5,96.0L367.2,97.1L368.3,97.4L367.2,98.1L366.3,99.2L366.7,100.3L368.3,101.1L368.6,101.8L370.6,101.4L372.4,101.2L373.8,102.0L375.2,101.8L376.7,101.1L378.3,100.9L379.6,100.4L380.9,100.3L382.0,101.1L383.8,101.1L385.4,100.1L386.6,99.6L386.5,98.1L386.3,96.7L387.4,95.6L389.0,95.1L390.4,96.3L391.8,96.1L392.4,94.9L391.6,94.0L390.7,92.9L392.5,92.0L393.9,91.8L395.2,91.6L396.4,91.6L397.6,91.8L398.8,91.8L400.7,91.1L402.7,91.1L401.6,90.9L400.6,90.5L398.8,90.0L397.4,90.0L396.1,90.2L394.8,90.4L393.4,90.3L392.1,90.8L390.7,91.1L389.7,91.1L388.1,90.3L387.0,89.6L387.2,87.8L386.5,86.2L387.2,85.1L388.8,84.5L389.7,83.9L390.7,83.6L391.5,82.7L392.5,82.2L394.1,81.6L393.4,80.7L392.0,80.3L389.9,80.3L388.1,80.9L386.8,81.8L386.6,82.9L385.0,84.0L383.4,84.5L381.8,85.6L380.4,86.5L379.9,88.0L379.5,89.4L380.8,90.2L382.4,90.9L382.0,91.8L380.8,92.9L378.8,93.4L378.3,94.7L378.3,96.3L377.4,97.8L376.2,97.7L375.0,97.8L374.1,99.2L372.0,99.2L371.3,97.8L371.5,97.1L370.9,96.1L370.0,95.4L369.3,94.0L368.8,92.3L367.7,91.2L367.2,92.5L365.9,92.7L364.6,93.1L363.8,94.2L362.5,93.9L361.3,94.5L360.4,93.4L359.0,93.4L358.6,92.2L358.1,90.9L357.7,89.4L357.7,87.6L359.2,86.7L360.9,85.8L362.2,86.0L363.1,85.1L364.4,84.6L365.8,84.3L367.2,83.1L368.8,82.0L369.4,80.8L370.6,80.5L372.0,79.3L372.8,78.6L373.6,77.8L374.2,76.5L375.6,76.3L376.6,75.4L378.3,74.7L380.0,73.8L381.0,72.9L382.4,73.1L383.9,73.5L385.4,72.7L386.5,72.3L387.7,72.2L389.3,71.9L390.7,71.4L392.2,71.7L393.4,70.9L394.8,70.3L396.1,71.1L397.5,71.2L398.8,70.7L400.1,71.1L401.5,71.6L402.8,71.7L404.1,72.2L402.9,73.1L404.4,72.6L405.9,73.1L407.3,73.4L408.6,74.0L409.8,74.2L411.0,74.2L412.2,74.2L413.3,74.8L414.6,74.2L415.7,74.9L417.1,74.7L418.0,75.9L419.3,76.0L420.4,77.1L422.0,77.3L422.3,78.5L421.2,78.8L420.2,79.6L418.8,79.6L417.5,80.0L416.3,80.2L415.2,80.0L414.1,79.7L413.1,79.1L411.7,78.6L410.4,79.1L409.0,79.2L407.7,78.7L406.8,79.6L407.8,80.3L408.6,81.0L409.5,81.8L410.9,82.7L412.5,83.0L414.0,83.6L415.7,82.9L414.8,81.8L416.1,82.3L417.5,82.3L418.8,82.7L420.2,82.7L421.1,81.2L421.9,80.6L422.8,79.9L423.8,79.4L425.1,79.3L426.4,79.6L427.7,78.2L427.0,76.3L428.2,75.6L429.5,76.1L430.9,76.2L431.8,77.1L430.0,77.6L431.8,78.5L433.1,78.2L434.5,78.2L435.2,77.2L436.3,76.7L437.6,76.8L438.7,76.3L439.8,75.8L441.0,75.9L442.1,75.9L443.2,75.4L444.3,75.3L444.3,76.0L445.5,76.3L446.7,76.1L447.9,75.8L449.1,76.1L450.2,75.4L451.4,75.4L452.9,75.7L454.1,74.9L455.2,73.4L456.4,73.0L457.7,73.1L458.8,73.6L460.0,74.1L461.3,73.8L462.7,73.5L463.9,74.2L465.2,74.8L466.6,74.9L468.1,74.9L469.3,75.8L471.1,76.0L470.2,74.5L468.4,73.4L468.0,71.8L468.9,70.5L469.6,69.5L470.7,69.1L472.0,68.0L473.4,67.3L474.4,66.6L475.5,66.7L476.5,67.4L477.7,67.4L478.7,67.6L478.2,69.1L477.0,70.2L477.4,71.3L478.4,71.8L478.0,73.6L479.1,74.1L479.5,75.3L480.0,77.3L479.4,78.3L478.2,78.9L479.3,78.5L480.5,78.3L481.2,77.5L481.8,76.5L482.3,74.7L481.3,74.0L480.2,73.6L480.9,71.6L479.8,71.0L479.1,69.8L480.0,69.2L480.8,68.5L481.8,68.0L483.6,68.5L482.8,69.6L482.7,70.9L484.1,71.0L485.4,70.5L486.7,70.7L487.7,69.7L488.9,69.6L487.1,68.5L488.5,68.4L489.8,68.3L491.3,68.0L492.5,66.9L492.5,66.0L493.7,65.5L495.0,66.2L496.2,66.0L497.5,66.2L498.7,65.8L499.9,66.1L501.0,65.4L502.1,66.0L503.2,65.8L502.3,64.4L504.1,63.3L505.2,63.5L506.2,63.1L507.3,63.1L508.3,62.4L509.5,62.7L510.6,63.0L511.5,61.9L512.7,62.8L513.7,61.7L514.8,62.0L515.9,61.7L517.0,62.2L518.0,61.8L519.1,61.9L520.2,61.6L521.3,61.8L522.3,61.7L523.4,61.4L524.4,60.7L525.5,61.1L526.6,60.2L527.8,59.9L529.1,60.0L530.3,60.2L531.3,59.7L532.2,58.8L533.5,59.4L534.4,58.7L535.7,58.7L536.8,59.3L538.0,59.3L539.6,59.4L540.7,60.5L541.7,61.1L542.8,60.3L543.9,60.8L545.0,61.1L546.0,60.7L547.1,61.5L548.5,61.0L549.6,61.6L551.4,62.7L551.0,64.1L550.5,65.4L551.6,65.9L552.7,65.8L553.9,65.4L555.0,66.0L556.0,66.4L557.1,66.1L558.2,66.6L559.2,66.6L560.3,66.4L561.5,66.3L562.6,66.7L563.6,67.5L564.8,67.4L565.9,67.8L567.1,67.7L568.1,67.1L569.2,67.1L570.4,66.9L571.5,67.0L572.6,66.8L573.7,66.4L574.8,66.3L576.0,66.3L577.1,66.3L578.2,66.7L579.1,67.4L580.0,68.2L578.9,68.7L578.2,69.8L579.2,70.7L580.6,70.4L581.7,71.1L583.0,70.7L584.0,69.9L585.3,69.6L586.6,70.4L588.0,70.2L589.1,69.8L590.1,70.3L591.2,69.8L592.3,69.8L593.3,70.2L594.5,70.1L595.6,70.6L596.7,69.6L597.8,70.0L598.7,68.2L599.8,68.1L600.9,67.6L602.1,68.1L603.2,67.8L604.2,68.3L605.4,67.8L606.5,68.5L607.6,68.5L608.9,68.9L610.1,68.7L611.4,68.5L612.6,69.2L613.9,68.7L615.2,69.2L616.5,69.8L617.7,70.3L618.9,70.6L620.1,71.1L621.2,71.5L622.3,70.8L623.3,70.6L624.4,70.5L625.5,70.9L626.5,71.1L627.6,70.7L628.7,71.1L629.8,70.8L630.8,71.1L631.8,71.8L633.1,71.2L634.0,71.8L635.3,73.4L636.5,72.9L637.7,73.4L638.9,73.4L640.0,73.5L641.1,73.5L642.2,73.5L643.3,73.6L644.5,74.0L645.5,72.9L646.7,73.6L647.8,73.3L648.9,74.0L650.0,74.5L651.4,74.5L652.4,73.7L653.1,72.5L654.3,72.3L655.3,73.2L656.5,73.2L657.6,72.9L658.7,72.7L659.7,73.3L660.8,73.5L661.9,72.9L663.0,73.1L664.1,73.2L665.2,73.5L666.3,73.5L667.4,74.0L668.7,74.8L670.1,74.7L671.5,74.9L672.6,75.6L673.7,76.3L673.2,77.4L673.3,78.5L673.7,79.6L673.7,80.7L673.7,81.8L672.5,81.7L671.3,81.6L670.1,81.8L668.7,82.2L667.4,82.7L665.6,82.5L666.4,83.8L667.4,84.9L668.7,86.3L667.2,86.4L665.6,86.3L664.5,86.8L663.2,86.8L662.1,87.2L660.9,87.5L659.7,87.8L658.5,88.0L657.1,88.4L655.8,89.1L654.5,89.8L653.1,90.3L651.8,90.3L650.5,90.0L649.3,90.1L648.1,90.3L646.9,90.5L645.7,90.9L644.5,91.0L643.3,91.2L642.0,91.2L640.6,91.2L640.1,92.7L639.1,93.6L638.0,94.2L637.6,95.4L638.9,95.6L640.1,96.0L639.8,97.8L638.3,98.1L637.6,100.0L636.4,100.6L635.3,101.4L634.4,103.2L633.0,103.4L631.7,103.8L630.8,105.4L629.6,106.3L628.5,107.2L628.0,105.4L627.6,104.0L627.3,102.7L626.8,101.4L626.7,100.0L626.7,98.6L626.9,97.2L627.7,96.2L628.7,95.4L629.9,94.7L631.7,94.5L632.5,93.8L633.4,93.2L634.4,92.7L635.4,92.3L636.2,91.5L637.1,90.9L637.8,90.0L638.9,89.4L639.6,88.6L640.6,88.0L639.3,87.7L638.0,87.6L636.5,87.5L634.9,87.4L633.5,88.5L632.3,88.3L631.1,87.9L629.9,87.6L628.8,87.9L627.7,88.0L626.6,88.4L625.5,88.7L624.8,90.0L624.0,91.2L623.0,91.4L622.0,91.8L621.0,92.3L619.7,92.5L618.3,92.3L617.1,92.2L615.9,92.0L614.8,91.6L613.4,91.9L612.1,92.2L610.9,92.2L609.7,92.2L608.5,92.0L607.3,92.2L606.1,91.9L604.9,92.2L603.6,92.6L602.3,92.9L601.1,93.4L599.9,94.2L598.9,94.9L597.8,95.4L596.9,95.9L596.0,96.6L595.1,97.2L594.6,98.3L593.7,99.1L593.0,100.0L591.8,100.2L590.7,100.7L592.0,101.2L593.3,101.8L594.2,102.7L595.4,102.3L596.6,101.7L597.8,101.4L598.6,102.1L599.6,102.7L601.2,103.1L601.2,105.1L600.8,106.1L600.5,107.2L599.6,109.1L599.7,110.4L599.6,111.8L598.6,112.6L597.8,113.6L596.9,114.3L596.0,114.9L595.3,116.2L594.2,117.2L593.1,118.1L591.9,119.0L590.8,119.8L589.8,120.7L588.4,121.4L587.1,122.1L586.0,121.8L585.0,121.4L583.2,122.1L581.9,123.0L581.2,124.1L580.7,125.4L580.1,125.8L580.0,126.9L578.8,127.4L577.8,128.1L576.4,128.1L576.4,129.0L578.0,129.9L578.6,131.0L579.4,131.8L580.0,133.6L579.8,135.4L579.2,136.1L577.3,136.3L575.5,137.0L574.4,137.4L574.6,136.1L574.2,134.5L575.0,132.7L574.1,131.4L572.8,131.2L571.7,130.7L572.3,129.7L572.6,128.7L571.6,127.9L570.5,127.4L569.4,127.5L568.4,127.8L567.2,128.2L566.2,128.9L565.1,129.4L566.0,128.3L566.9,126.5L565.7,125.6L564.4,126.1L563.4,126.7L562.5,127.4L561.2,128.5L559.4,128.9L558.7,129.8L559.8,130.9L560.9,131.6L561.8,132.5L563.0,131.8L564.2,131.2L566.0,131.8L567.6,132.1L567.1,133.0L565.9,133.1L564.8,133.6L563.9,134.3L562.3,135.6L561.6,136.7L562.6,137.1L563.5,137.6L564.2,139.4L564.8,140.8L565.7,141.5L566.4,142.3L565.7,143.4L566.4,143.9L565.5,144.8L566.7,145.6L566.0,147.2L565.5,148.3L564.2,149.4L563.4,150.8L562.3,152.3L562.1,153.6L560.7,155.0L559.4,155.6L558.0,156.8L556.8,158.1L555.0,158.5L553.9,158.9L552.8,159.2L551.4,159.6L550.5,159.9L548.7,160.5L546.9,160.8L545.9,161.7L545.5,163.0L544.8,161.0L543.4,160.7L541.6,160.7L540.5,161.4L539.4,162.1L538.4,163.4L537.5,165.0L537.8,166.3L539.1,167.9L540.3,169.4L541.3,170.1L542.1,170.8L543.0,172.1L543.2,173.5L543.7,174.8L543.9,176.0L543.9,177.2L543.7,178.8L542.5,179.9L540.7,180.8L539.3,181.2L538.7,182.5L537.7,183.3L536.8,184.1L535.9,184.3L535.9,182.5L536.4,181.7L535.2,181.0L533.5,180.6L532.7,179.4L531.9,177.7L530.3,177.0L528.9,176.8L528.9,175.6L527.5,175.6L527.3,177.6L526.9,178.7L526.4,179.9L525.9,181.4L525.9,183.2L527.1,183.2L527.8,184.8L528.2,186.6L529.1,187.4L530.2,187.7L531.0,188.6L532.5,189.9L533.4,191.2L533.4,192.8L533.4,194.8L534.1,195.7L534.8,196.6L534.8,197.5L533.5,197.5L532.3,196.4L531.1,195.6L529.8,194.8L529.1,193.5L528.8,192.4L528.4,191.4L527.8,189.9L528.0,188.6L527.5,188.1L526.8,187.4L526.2,186.4L525.5,185.5L524.3,185.2L524.4,183.5L524.8,181.7L525.1,180.5L525.2,179.2L524.8,177.2L524.1,175.2L523.7,174.1L523.4,173.0L523.2,171.8L523.0,170.6L522.3,169.2L521.1,169.9L520.1,170.6L519.1,171.2L518.0,171.0L517.1,170.6L517.5,169.6L517.5,168.5L516.9,166.8L516.5,165.6L515.9,164.5L515.0,163.7L513.7,162.3L513.2,161.4L513.0,160.1L512.7,159.0L511.9,158.5L510.3,159.7L509.5,160.1L507.7,160.3L506.2,160.5L504.3,161.0L503.7,162.3L503.2,163.4L502.0,164.2L500.7,164.7L499.7,165.6L498.9,166.6L497.3,167.9L496.4,168.8L495.5,169.7L493.9,170.5L492.1,171.2L491.8,172.5L491.9,173.6L492.0,174.8L492.1,176.3L491.4,178.1L491.2,179.5L491.2,181.0L490.2,181.2L489.6,182.6L488.6,183.7L487.1,185.2L486.2,184.6L485.5,183.7L485.2,182.4L484.6,181.2L483.9,179.4L483.4,178.5L482.5,176.8L482.1,175.7L482.0,174.5L481.1,173.0L480.7,171.9L480.0,170.8L479.8,169.4L479.3,168.1L478.9,166.6L478.7,165.0L478.9,163.9L478.9,162.8L478.4,161.0L477.1,161.4L475.9,162.1L474.6,161.9L473.5,160.8L472.3,159.7L473.0,159.0L472.7,158.5L471.6,157.6L470.5,156.8L469.1,156.5L468.6,155.0L467.3,153.7L466.2,154.0L465.0,153.8L463.9,154.1L462.6,154.0L461.3,154.1L459.9,154.4L458.6,154.3L457.4,154.2L456.3,153.8L455.2,153.7L453.2,153.4L451.3,153.2L450.9,152.1L450.4,151.0L449.5,150.5L448.2,151.0L446.4,151.7L445.4,151.4L444.3,151.2L443.4,150.5L442.5,149.8L440.7,149.2L439.5,147.6L438.8,146.4L438.2,145.2L437.3,145.4L436.1,144.8L434.5,145.4L434.5,146.3L435.2,147.9L435.9,149.6L436.8,149.9L437.2,151.0L438.2,151.4L438.4,152.3L438.2,153.6L438.9,154.8L439.5,154.8L439.8,153.6L440.4,152.5L440.9,153.0L440.9,154.1L440.5,155.2L441.3,156.3L442.7,155.9L443.9,155.8L445.0,155.9L446.0,155.3L447.0,154.7L447.9,153.7L448.9,152.5L449.5,151.9L449.5,153.4L449.5,154.7L450.4,155.5L451.3,156.5L452.4,156.6L453.6,157.0L454.4,157.9L455.0,158.8L455.5,159.4L454.7,161.0L453.9,161.9L453.2,162.8L452.0,163.7L451.8,165.4L450.5,165.7L449.3,167.4L447.5,167.9L447.0,169.0L445.8,169.4L444.5,169.6L443.4,169.9L442.3,170.1L442.0,171.0L440.9,171.7L439.6,172.0L438.6,172.8L437.3,173.2L435.7,174.5L434.3,174.5L432.7,175.2L431.4,175.2L430.2,175.7L429.1,176.6L428.2,176.8L426.4,177.0L425.9,175.9L425.7,174.3L425.2,173.0L425.0,171.4L425.2,170.3L424.8,169.4L424.1,168.1L423.2,167.4L422.3,165.9L421.8,164.5L420.6,163.2L419.8,163.0L419.1,162.2L418.6,161.2L418.5,160.0L418.4,158.8L418.0,157.8L417.5,156.8L415.7,155.7L415.2,154.3L414.7,153.4L414.1,153.0L413.4,151.6L412.3,150.1L411.5,148.8L411.1,147.6L411.1,146.3L410.6,148.1L410.0,149.2L408.8,148.5L408.1,147.5L407.5,146.5ZM239.6,293.3L241.1,293.2L242.6,293.1L244.1,293.3L245.6,293.7L244.4,294.7L243.2,294.8L242.0,294.5L240.8,294.4ZM431.8,53.3L433.0,53.5L434.2,53.6L435.4,53.7L436.6,53.8L437.7,54.1L438.9,54.2L440.2,54.1L441.4,54.0L442.7,54.0L443.9,54.0L445.2,53.8L444.0,53.6L442.8,53.3L441.6,52.9L440.4,52.9L439.2,52.8L438.1,52.7L436.9,52.7L435.7,52.6L434.5,52.7L433.1,53.0ZM447.0,53.6L448.1,53.7L449.2,53.9L450.3,53.7L451.4,54.0L452.6,53.8L453.7,53.9L454.8,53.9L455.9,54.2L457.0,54.0L458.1,53.7L459.2,53.2L460.4,53.1L459.2,52.8L458.1,52.7L456.9,52.7L455.8,52.6L454.6,52.6L453.5,52.4L452.3,52.2L451.2,52.3L450.1,52.6L449.0,52.6L447.9,52.7ZM448.8,51.3L450.0,51.3L451.1,51.3L452.3,51.4L453.5,51.4L454.7,51.4L455.9,51.5L457.0,51.5L458.0,51.4L459.1,51.5L460.2,51.6L461.3,51.6L460.2,51.3L459.1,51.3L458.0,51.2L457.0,51.1L455.9,50.9L454.7,51.0L453.5,51.2L452.3,51.3L451.1,51.1L449.9,51.2ZM338.6,108.9L339.7,108.6L340.8,108.5L342.6,108.5L344.3,108.0L345.7,107.5L347.0,107.8L348.4,107.8L349.7,107.6L351.3,106.9L350.2,106.3L351.8,105.4L351.8,104.1L350.6,103.7L349.3,103.2L348.8,102.5L348.3,101.6L346.7,100.7L345.9,99.1L345.1,98.3L343.4,98.1L344.2,97.6L345.2,96.3L345.6,95.2L344.3,95.4L343.1,95.1L341.3,95.2L342.4,94.5L343.1,93.4L342.0,93.3L340.9,93.8L339.9,93.4L339.3,94.3L338.8,95.4L338.6,96.5L338.8,97.6L337.9,98.1L339.0,99.2L340.2,100.0L339.7,100.3L341.1,100.0L342.6,100.1L342.7,101.1L343.4,101.8L343.6,103.1L342.2,103.0L340.8,102.9L340.4,104.0L341.5,104.7L340.4,105.0L339.5,105.8L341.3,106.1L342.4,106.0L343.4,106.5L342.7,106.9L341.3,106.9L339.5,107.8ZM289.9,48.0L291.0,47.7L292.1,47.4L293.2,47.1L294.3,47.4L295.4,48.4L296.5,48.9L297.6,48.7L298.7,48.3L299.8,48.4L300.9,49.0L302.0,49.1L303.1,48.2L304.2,48.5L305.3,48.5L306.4,49.2L307.7,48.1L308.7,49.0L309.6,50.4L310.8,49.8L312.1,49.2L313.1,50.0L314.2,50.5L315.3,49.9L316.3,51.4L317.5,50.9L318.7,49.9L319.7,50.6L320.8,50.5L321.8,51.6L323.0,51.1L324.1,51.1L325.1,51.8L326.3,51.2L327.4,51.6L326.4,52.1L325.7,53.3L324.4,52.9L323.2,52.9L322.0,52.7L321.0,53.2L320.2,54.2L319.4,55.1L317.8,54.3L316.7,54.7L315.7,55.3L314.9,56.4L315.2,57.6L316.1,58.6L315.8,60.0L315.0,61.1L314.4,62.2L313.1,62.7L311.7,62.8L310.7,63.4L310.4,64.9L310.6,66.1L309.5,67.0L309.5,68.2L310.1,69.5L309.9,70.9L308.8,71.0L307.6,71.1L306.9,72.2L305.5,72.3L304.3,72.6L303.9,74.7L302.4,74.5L301.4,74.9L300.2,74.7L299.2,75.2L298.1,75.3L297.0,75.8L295.9,75.0L295.0,76.8L293.8,76.3L292.8,77.1L291.7,76.3L290.7,76.8L290.0,77.8L288.7,77.7L287.6,78.0L287.7,80.1L286.3,80.0L285.4,80.9L284.1,80.0L283.2,81.3L282.1,81.3L281.0,80.9L279.6,81.1L278.7,82.3L277.4,82.7L277.1,84.3L275.6,84.5L274.7,85.4L274.9,87.0L273.1,87.4L272.9,88.7L271.9,89.7L271.2,91.1L269.7,90.9L268.5,90.0L267.4,89.2L266.2,89.1L264.9,89.2L263.6,89.5L262.8,88.4L261.7,88.0L260.2,87.3L259.6,85.8L259.0,84.4L257.8,83.6L257.1,82.1L255.6,81.4L255.0,80.4L254.5,79.4L253.3,79.1L252.4,77.9L253.3,76.7L254.6,76.7L255.6,75.7L256.9,75.4L255.9,74.1L254.2,74.2L253.3,73.6L252.5,72.6L251.5,72.2L252.7,72.1L253.9,72.5L255.0,72.1L256.0,71.1L254.7,71.4L253.8,70.2L252.8,69.8L251.5,70.0L251.1,68.6L249.7,68.2L249.1,67.0L247.9,66.4L247.4,65.1L246.8,63.9L245.3,63.6L244.2,63.2L243.5,62.2L242.5,61.7L241.4,61.2L240.2,62.1L239.3,60.8L238.1,61.4L236.9,61.0L235.8,62.2L234.5,60.8L233.4,61.5L232.2,62.3L231.0,61.6L229.8,62.1L228.9,60.7L227.8,60.9L226.6,61.5L225.6,60.9L224.6,60.3L223.1,61.0L222.5,59.3L221.2,59.4L219.5,59.4L218.9,57.8L220.1,57.4L221.5,57.6L222.6,56.8L223.9,56.4L225.2,56.7L225.9,55.2L227.2,55.7L227.9,54.1L229.2,54.5L230.2,54.0L231.4,54.1L232.6,53.9L233.4,52.9L234.6,52.7L235.8,53.1L236.8,51.6L238.3,52.8L239.3,51.8L240.5,51.6L241.7,51.5L242.8,51.8L243.9,50.8L245.1,51.5L246.1,50.9L247.3,51.0L248.4,51.4L249.5,51.2L250.6,50.9L251.8,51.7L252.9,51.4L253.9,50.0L255.1,51.0L256.2,50.2L257.4,51.3L258.4,50.3L259.6,50.4L260.6,50.5L261.7,50.2L262.8,50.5L263.9,50.9L264.9,50.3L266.0,50.4L267.1,50.5L268.1,49.2L269.2,50.0L270.3,49.5L271.5,49.5L272.6,48.4L273.8,48.5L274.9,48.2L276.1,48.1L277.4,48.7L278.6,49.4L279.7,49.0L280.9,49.5L281.9,48.1L283.1,48.1L284.2,48.6L285.4,48.4L286.5,47.9L287.6,47.7L288.8,48.6ZM542.7,164.8L544.3,163.6L546.0,163.4L546.9,164.3L546.0,165.9L544.4,166.8L542.8,166.3ZM576.4,196.6L577.3,195.9L578.5,197.0L577.3,198.1L578.5,199.0L578.2,200.2L577.6,201.4L576.6,200.4L576.7,198.4ZM70.5,163.2L72.1,164.1L70.9,165.6L70.3,164.5ZM69.3,161.7L70.3,162.1L69.4,162.5ZM66.4,160.7L67.3,161.2L66.6,161.2ZM63.7,159.6L64.4,159.7L63.9,160.1ZM216.0,166.3L216.9,165.5L217.6,164.6L218.5,163.7L219.7,163.9L220.9,163.9L222.1,163.7L223.4,163.9L224.7,164.3L225.8,165.1L226.7,166.1L225.5,166.5L224.2,166.6L222.9,167.1L221.7,167.9L220.3,167.3L218.9,167.0L217.4,166.8L216.0,166.8ZM598.7,124.5L599.8,124.3L600.8,123.9L601.4,122.5L602.4,122.9L603.5,123.3L604.6,123.6L605.7,123.1L606.6,122.5L607.5,121.8L608.5,121.2L607.6,119.6L606.3,119.5L604.9,119.6L603.8,119.0L602.8,118.2L601.7,117.4L601.7,118.7L601.6,120.0L601.0,121.4L599.2,121.4L598.7,122.9ZM582.5,138.1L583.5,137.0L584.6,136.4L585.5,135.6L586.6,135.5L587.6,135.4L588.7,135.1L589.8,135.0L591.6,134.5L592.2,133.6L592.8,132.7L593.9,133.0L595.0,132.6L596.0,131.8L596.8,130.9L597.8,130.3L598.5,128.5L598.7,126.7L599.2,125.0L601.0,124.7L601.4,126.3L601.9,127.3L602.3,128.3L601.8,129.3L601.4,130.3L600.5,131.2L600.3,133.0L600.1,135.0L598.7,136.3L597.3,135.9L596.6,137.0L595.4,136.8L594.2,136.9L593.2,137.6L592.3,138.4L591.2,139.0L589.8,137.6L588.4,137.5L587.1,137.4L585.3,137.8L584.1,137.9L583.0,138.3ZM308.3,83.8L309.5,82.7L308.4,82.2L307.2,81.8L306.0,81.8L307.2,81.1L308.6,80.9L307.6,80.6L306.5,81.1L305.4,80.7L306.4,80.1L307.7,80.2L308.6,79.4L310.0,79.4L311.2,79.8L312.6,79.8L313.6,79.5L314.7,79.4L315.8,79.6L317.0,79.6L318.2,79.6L319.3,79.1L320.8,79.0L322.0,79.6L322.7,80.7L323.7,81.2L324.7,81.6L324.0,82.5L322.9,82.9L321.8,83.4L320.6,83.8L319.3,84.0L318.0,84.5L316.6,84.6L315.2,84.7L313.9,84.4L312.7,83.9L311.3,84.0L309.8,84.0ZM337.7,105.1L338.1,103.6L337.7,102.0L338.8,100.9L338.1,99.8L337.0,99.5L335.9,99.4L334.0,99.6L333.4,100.7L332.2,101.1L330.9,101.4L331.1,102.9L332.4,104.0L331.6,104.9L330.4,105.2L331.3,106.1L332.5,106.4L333.6,106.1L334.7,105.6L335.9,105.4ZM209.0,166.5L210.2,166.8L211.4,166.8L212.6,167.0L211.7,167.4L210.4,167.2L209.0,166.8ZM536.6,212.3L537.4,211.5L538.0,210.6L539.3,210.7L540.7,210.8L542.5,211.5L543.7,211.6L544.9,212.0L546.0,212.3L547.2,212.3L548.4,212.5L549.6,212.4L550.9,213.2L552.3,213.7L553.2,214.1L553.0,215.5L551.9,215.4L550.7,215.3L549.6,215.2L548.3,214.9L546.9,214.8L545.8,214.5L544.7,214.3L543.6,214.3L542.5,214.1L541.3,213.9L540.1,213.5L538.9,213.3L537.1,212.6ZM177.4,75.4L176.4,74.8L175.2,75.1L174.1,74.8L173.0,74.7L172.1,73.3L173.2,72.4L174.3,73.4L175.4,73.5L176.5,73.1L177.6,74.0ZM435.4,74.2L437.2,74.7L437.5,73.8L435.9,73.6ZM580.5,139.0L582.5,138.3L584.1,139.6L583.8,141.0L583.7,142.5L582.3,143.4L581.2,143.0L581.2,141.2L580.3,140.7ZM563.0,170.3L563.3,168.9L563.7,167.6L563.9,166.3L564.8,166.1L565.9,166.1L566.9,166.3L567.0,167.6L567.1,169.0L566.6,170.1L565.9,171.0L565.7,172.5L565.9,173.9L567.5,173.9L568.9,174.6L569.6,175.4L570.3,176.3L570.0,177.0L568.7,176.3L567.8,175.6L566.9,174.8L565.3,175.0L564.1,174.1L564.1,173.0L562.8,171.9ZM436.8,221.7L437.4,223.1L438.1,224.4L438.4,225.6L438.6,226.8L438.8,228.1L438.1,229.4L437.7,230.8L437.3,232.1L437.0,233.5L436.5,234.7L435.9,235.9L435.6,237.1L435.0,238.3L434.6,239.5L434.3,240.8L433.8,241.8L433.7,243.0L433.2,244.0L432.9,245.1L431.4,245.6L430.0,246.2L428.9,245.7L427.7,245.3L427.3,244.0L426.8,242.6L426.5,241.0L426.1,239.5L426.6,238.4L427.0,237.1L427.7,236.1L428.1,235.0L428.0,233.8L427.4,232.8L427.3,231.7L427.6,230.5L428.1,229.3L429.3,229.2L430.5,228.8L431.8,228.6L432.6,227.3L433.6,226.2L434.5,224.4L435.2,223.5L435.9,222.6ZM160.5,63.3L159.3,62.7L158.2,63.5L157.1,63.6L156.0,63.8L154.8,63.4L153.6,64.1L152.4,63.3L151.3,65.0L150.1,64.7L148.9,64.5L147.7,64.7L146.6,65.1L145.5,64.5L144.5,63.6L143.3,63.5L142.3,63.2L141.2,62.9L140.0,63.6L140.5,62.2L141.7,61.4L142.9,60.7L144.1,61.6L145.4,61.7L146.5,60.8L147.6,60.4L148.9,60.9L150.1,60.1L151.3,61.4L152.4,60.3L153.6,60.2L154.8,60.3L156.0,60.7L157.2,61.4L158.5,62.0L159.9,61.8ZM566.6,187.2L568.0,186.1L569.4,185.7L570.3,184.8L571.9,183.5L572.8,182.1L573.6,183.2L574.2,184.5L574.5,185.6L574.8,186.6L574.1,188.5L572.8,189.7L572.3,188.8L570.5,188.6L570.0,187.2L568.4,186.3ZM563.5,175.4L565.1,175.4L565.7,177.2L564.8,177.7L563.9,177.2ZM48.7,80.7L50.2,80.1L51.6,79.4L52.8,79.5L54.0,79.7L55.2,79.6L56.4,79.8L57.6,79.6L58.8,79.4L60.0,78.9L58.5,78.5L57.0,78.0L55.8,77.5L54.6,77.0L53.6,76.3L52.3,76.1L51.1,75.6L52.1,74.7L53.2,74.4L54.3,74.3L55.3,74.4L56.4,74.3L57.5,73.6L58.6,73.0L59.6,72.2L60.8,72.0L61.9,71.7L63.0,71.7L64.1,71.3L65.3,70.9L66.5,70.9L67.7,70.6L68.9,70.3L70.3,70.4L71.6,71.0L73.0,71.1L74.4,71.3L75.8,71.2L77.1,71.3L78.4,71.6L79.8,71.6L81.1,72.0L82.1,72.3L83.3,72.0L84.4,72.1L85.5,72.3L86.6,72.3L87.7,72.5L88.7,72.7L89.8,72.6L90.9,72.7L92.1,72.8L93.4,73.0L94.6,73.2L95.9,73.3L97.1,73.4L98.2,73.6L99.4,73.8L100.5,74.1L101.6,74.5L102.7,74.7L103.8,74.7L104.9,74.7L106.0,74.7L107.4,74.0L108.7,73.4L109.8,73.5L110.9,73.6L112.1,73.6L113.2,73.4L114.4,73.3L115.6,73.0L116.8,72.7L117.8,71.7L119.0,71.6L120.3,72.0L121.2,73.6L122.3,72.9L123.4,72.7L124.5,72.6L125.7,73.3L126.9,73.2L128.1,73.1L129.2,73.8L130.5,74.3L131.6,73.2L132.8,73.3L133.9,73.3L134.9,74.1L136.1,73.9L137.3,73.6L138.2,74.5L139.2,74.7L140.4,74.7L141.3,75.4L142.4,75.5L143.5,75.4L144.8,74.9L145.8,76.4L147.1,75.8L148.1,76.4L149.3,75.7L150.3,76.2L151.3,76.9L152.5,76.3L153.5,75.9L154.7,76.1L155.8,75.5L156.9,75.4L158.0,75.7L159.1,75.7L160.3,75.7L161.4,76.0L162.4,76.3L163.4,76.9L164.5,76.9L165.7,75.9L166.7,76.7L167.8,76.7L168.9,77.4L170.0,76.2L171.0,77.3L172.1,76.9L173.7,76.7L174.8,75.4L176.0,75.6L177.1,76.3L178.3,76.2L179.2,75.3L180.1,74.4L181.0,73.6L180.8,72.5L179.7,71.9L179.2,70.9L180.5,70.8L181.0,69.7L181.9,69.1L182.9,69.6L183.3,70.9L184.6,70.9L185.4,71.9L185.9,73.2L187.3,73.6L188.3,74.0L189.6,73.7L190.6,74.5L191.7,74.9L192.8,75.4L193.8,76.1L194.4,77.3L195.6,76.6L195.1,74.7L196.1,73.9L197.1,73.1L198.0,73.9L199.3,72.9L200.3,73.8L201.3,74.3L202.4,74.0L203.7,74.8L203.7,76.3L202.8,77.1L202.0,78.1L200.4,77.9L199.8,79.1L198.7,79.7L197.4,78.6L196.4,79.1L195.3,79.6L194.2,80.5L192.9,81.1L192.6,82.7L191.5,83.1L190.3,82.7L189.2,83.1L188.2,83.6L187.5,84.9L186.4,85.8L185.2,86.3L184.4,87.5L183.0,87.6L181.9,88.2L181.4,89.2L180.7,90.0L180.1,90.9L180.6,91.9L180.7,93.1L181.8,93.9L182.6,95.1L183.7,96.0L184.8,96.0L185.9,96.2L187.0,96.1L188.2,96.3L189.4,96.6L190.6,96.9L191.7,97.4L192.7,98.0L193.8,98.3L195.0,98.5L196.1,98.8L197.1,99.4L198.3,99.4L199.5,99.8L200.7,99.6L201.9,99.8L201.8,101.1L202.0,102.3L202.1,103.6L203.2,104.4L204.0,105.5L205.1,106.3L206.4,106.1L207.8,106.3L207.8,105.1L208.1,103.9L208.1,102.7L208.1,101.6L207.8,100.5L209.0,99.9L210.1,99.0L211.4,98.5L211.7,97.0L212.1,95.4L211.4,94.0L210.5,92.7L210.5,91.6L210.3,90.5L209.9,89.4L210.1,87.9L210.5,86.5L211.5,87.1L212.6,86.6L213.7,87.1L214.8,86.5L215.8,86.9L216.9,87.3L218.0,87.8L219.2,87.8L220.3,88.3L221.5,88.6L222.7,88.7L223.9,89.1L224.4,90.4L224.7,91.8L226.2,92.4L227.4,93.4L228.7,93.8L229.8,93.4L231.0,93.1L232.1,92.5L232.8,91.4L233.7,90.5L234.6,91.3L235.1,92.4L235.5,93.6L236.1,94.9L237.3,95.7L238.5,96.3L239.5,97.0L239.9,98.1L241.3,98.7L242.6,99.6L243.7,100.4L245.0,101.1L246.2,101.8L246.9,102.7L248.2,102.7L248.8,103.6L249.2,105.4L248.1,105.7L247.3,106.5L246.2,106.5L245.1,107.2L243.7,107.2L242.7,108.0L241.7,108.7L240.5,108.4L239.3,109.1L238.1,108.8L236.9,108.2L235.8,108.3L234.6,108.7L233.4,108.6L232.3,108.8L231.2,109.0L230.1,109.1L228.9,109.6L227.7,110.2L226.5,110.9L225.5,111.5L224.8,112.4L223.8,113.1L223.0,114.0L224.2,113.6L225.2,112.9L226.2,112.1L227.4,111.8L228.6,111.6L229.7,111.3L230.7,110.7L231.9,110.5L232.9,111.0L234.0,111.2L233.3,112.1L232.8,113.0L233.2,114.2L233.7,115.4L234.8,116.0L236.1,116.4L237.2,116.9L238.6,117.1L239.9,117.4L240.8,116.0L241.7,116.7L240.7,117.2L239.7,117.6L238.5,117.6L237.5,118.2L236.5,118.6L235.5,118.9L234.5,119.5L233.4,119.9L232.4,120.3L231.3,120.7L230.6,118.9L231.6,118.4L232.7,118.1L233.7,117.6L232.5,117.7L231.5,118.1L230.3,118.3L229.2,118.3L228.1,119.0L226.9,119.5L225.6,120.0L224.3,120.6L223.0,121.4L222.9,122.5L222.6,123.6L223.9,123.9L222.5,124.4L221.2,124.7L220.0,125.0L218.8,125.3L217.6,125.6L216.7,126.5L216.4,128.1L214.9,129.4L214.0,130.9L213.1,132.7L213.4,134.0L213.9,135.2L213.7,136.3L212.5,136.9L211.4,137.4L210.0,137.9L208.7,138.5L207.7,139.1L206.9,139.9L206.0,140.6L205.1,141.3L204.2,142.1L204.2,143.3L203.7,144.3L203.5,145.4L204.0,146.6L204.5,147.9L205.1,149.0L205.4,150.2L206.0,151.2L205.6,152.6L205.3,154.1L203.9,154.1L202.8,152.3L202.3,151.0L201.5,149.9L201.0,148.1L200.6,146.8L199.8,145.8L198.0,145.4L196.6,145.2L195.3,144.7L194.1,144.6L192.9,144.5L191.7,144.5L190.4,144.8L189.0,145.0L189.6,146.8L188.4,146.8L187.3,147.0L186.0,146.4L184.6,146.1L183.4,145.9L182.2,146.0L181.0,146.1L180.1,146.7L179.2,147.4L178.2,148.0L177.1,148.5L176.0,149.0L175.7,150.5L174.9,151.7L174.8,153.0L174.9,154.2L174.6,155.4L174.5,156.6L174.2,157.8L174.2,159.0L174.5,160.2L175.0,161.2L175.3,162.3L176.3,163.4L176.9,164.8L178.0,165.5L179.2,166.1L180.7,166.8L182.1,166.4L183.7,166.1L184.8,166.0L185.8,165.7L186.4,164.7L187.3,163.9L187.6,162.9L187.6,161.7L188.7,161.4L189.7,161.0L190.8,160.8L192.2,160.9L193.5,160.8L193.0,162.2L192.8,163.6L192.2,164.9L192.1,166.3L191.5,167.3L191.2,168.5L190.8,169.7L190.6,171.0L192.6,171.2L193.8,171.0L195.0,171.2L196.2,171.0L197.5,171.3L198.9,171.6L200.3,172.6L199.9,174.0L199.8,175.4L199.7,176.6L199.7,177.8L199.4,179.0L200.1,180.8L201.1,182.0L202.1,183.2L203.1,183.7L204.2,183.9L205.5,183.1L206.9,182.5L208.3,182.6L209.6,183.2L210.8,184.8L209.9,186.3L208.9,184.6L207.9,184.2L206.9,183.7L205.3,185.0L205.1,186.6L204.1,185.8L203.0,185.4L201.8,185.2L200.6,184.8L199.6,183.8L198.9,182.6L197.4,182.2L195.8,181.9L195.6,179.9L195.1,178.9L194.3,178.0L193.5,177.2L192.4,175.9L191.2,175.7L189.9,175.6L188.5,175.3L187.3,174.6L186.2,174.3L185.2,174.1L184.2,173.6L183.1,172.4L181.9,171.4L180.1,170.5L178.9,170.7L177.8,171.2L176.5,171.4L175.3,171.1L174.2,170.6L173.0,170.3L171.6,169.7L170.3,169.0L169.3,168.4L168.2,167.7L167.1,167.4L165.6,167.0L164.1,166.6L163.3,165.8L162.2,165.2L161.4,164.5L160.1,162.8L160.8,160.8L160.5,159.6L159.9,158.5L158.9,157.4L157.8,156.3L156.9,155.5L156.1,154.6L155.1,153.9L154.3,152.8L153.5,151.7L152.6,150.4L151.4,149.4L150.4,148.6L149.8,147.6L148.9,146.7L148.0,145.8L147.2,144.8L146.7,143.6L145.5,142.8L144.1,142.5L144.2,143.8L144.2,145.0L145.3,146.1L146.2,147.2L147.0,148.5L148.0,149.8L148.7,151.1L149.8,152.3L150.1,153.4L150.6,154.4L151.2,155.4L152.3,156.2L153.2,157.2L152.6,158.3L151.8,157.2L150.7,156.3L149.5,155.7L148.5,154.8L148.5,152.7L147.4,151.9L146.2,151.2L145.3,150.6L144.4,149.9L143.2,149.2L145.0,148.1L144.2,147.4L143.4,146.6L142.6,145.8L142.0,144.9L141.4,143.9L140.8,143.0L140.3,141.9L139.6,140.5L138.5,138.8L137.3,138.1L135.5,137.4L133.5,137.0L132.8,135.4L132.1,134.4L131.2,133.6L131.0,132.7L130.1,131.2L129.2,130.5L128.0,129.0L127.5,127.2L126.7,126.5L127.3,124.5L126.9,123.3L126.7,122.1L127.1,121.1L127.3,120.0L127.3,118.6L127.5,117.2L127.5,115.4L126.6,113.6L126.2,112.0L127.4,111.7L128.4,112.3L129.8,112.7L130.1,114.0L129.4,112.7L129.6,111.2L128.9,110.3L127.1,109.2L125.7,108.1L124.4,107.5L123.0,107.4L121.2,106.9L120.3,105.4L119.1,104.8L118.5,103.6L117.1,103.2L116.8,101.8L115.9,100.3L115.0,98.5L114.1,97.5L113.2,96.7L112.0,95.7L110.5,95.4L109.6,94.7L108.3,94.5L107.8,93.2L106.4,92.9L105.1,93.8L103.4,92.9L102.4,91.7L101.0,92.0L99.8,91.6L98.6,91.6L97.3,91.6L96.2,90.9L95.0,90.7L93.8,91.7L92.7,90.9L91.5,90.2L90.2,90.8L89.1,90.2L87.9,89.1L86.4,89.4L84.9,89.0L83.7,90.2L82.1,90.5L81.1,91.8L79.9,91.3L78.9,92.2L77.8,92.3L78.0,91.1L78.4,90.0L79.8,89.8L80.7,88.7L80.0,89.9L78.4,89.7L77.5,90.5L76.2,91.2L75.7,92.7L74.3,93.0L73.6,94.2L72.6,94.9L71.7,95.6L70.3,95.4L68.7,95.8L67.7,97.1L66.0,97.0L65.0,98.3L63.7,99.0L62.3,98.9L60.9,99.3L59.6,100.0L58.3,100.4L57.0,100.5L55.7,100.8L54.5,101.1L56.1,100.1L57.4,99.5L58.7,99.1L60.1,98.7L61.4,98.1L62.7,97.3L64.1,96.7L65.0,96.1L66.0,95.7L66.8,94.9L67.2,93.6L68.6,93.2L66.4,93.2L65.3,92.6L64.3,93.6L63.2,93.2L62.1,93.1L61.1,93.3L60.0,93.2L59.4,92.2L58.7,91.2L57.4,91.2L56.1,90.9L55.0,90.2L53.7,89.8L53.4,88.3L52.5,87.6L53.4,86.9L54.3,86.2L55.2,85.1L56.4,84.9L57.5,84.5L58.7,84.5L60.0,83.7L61.4,83.2L61.4,82.7L60.3,82.8L59.3,82.7L58.2,82.9L56.7,82.7L55.2,82.7L54.1,82.5L53.0,82.6L52.0,82.5L51.1,81.4L49.9,81.0L48.7,80.7ZM613.9,209.9L615.2,210.0L616.5,209.9L617.4,209.0L618.3,208.3L619.2,207.5L620.7,207.7L619.9,208.8L619.2,209.9L618.0,210.7L616.5,211.2L615.3,211.0L614.1,211.0ZM254.2,115.0L253.1,114.0L252.0,114.2L250.8,114.3L249.7,114.7L248.8,113.4L247.7,113.5L246.5,113.5L245.3,113.3L244.1,113.5L242.9,113.4L243.7,112.1L244.6,110.9L245.4,109.5L246.2,108.1L247.3,107.5L248.4,106.8L249.6,106.1L249.6,108.1L250.6,108.6L251.4,109.3L252.4,109.8L253.5,111.6L254.2,112.6L254.7,113.6ZM582.6,202.1L583.7,201.3L584.8,200.6L585.9,200.9L587.1,201.2L588.2,201.7L588.4,203.1L588.5,204.4L589.7,205.1L590.7,205.9L591.6,205.1L592.5,204.1L593.5,203.2L594.8,202.6L595.8,203.1L596.8,203.4L597.8,203.9L599.2,204.1L600.5,204.6L601.8,205.3L603.2,205.7L604.4,206.0L605.6,206.4L606.7,207.0L607.8,208.0L609.1,208.8L609.4,209.9L610.7,210.7L612.1,211.2L612.4,212.3L611.6,213.5L612.4,214.3L613.3,214.8L614.4,216.6L616.2,217.5L618.0,218.6L616.5,219.2L615.2,219.0L613.9,218.4L612.8,217.6L611.6,217.0L610.7,216.2L610.2,215.2L609.4,214.4L608.0,214.2L606.7,213.7L604.9,214.8L604.6,216.3L603.2,216.8L601.8,216.5L600.5,216.4L599.7,215.7L598.7,215.3L597.8,214.6L596.4,214.7L595.1,215.2L594.6,213.7L596.0,212.6L595.6,211.2L595.1,209.9L593.7,209.2L592.5,208.3L591.3,208.2L590.1,207.9L589.1,207.7L588.1,207.3L587.1,206.8L585.8,207.3L585.3,206.2L584.4,205.2L585.6,204.8L586.7,204.3L584.8,203.9L583.8,203.3L583.0,202.6ZM618.0,204.8L619.0,205.2L619.9,205.9L621.0,206.3L621.6,207.3L622.3,208.3L621.5,207.7L620.4,206.6L619.2,205.7ZM381.8,54.7L383.1,55.0L384.3,55.5L385.5,55.8L386.9,54.9L388.1,55.6L389.2,55.8L390.3,55.1L391.4,55.9L392.5,55.5L393.7,55.8L394.8,55.4L395.9,55.7L397.0,55.3L395.2,54.2L394.0,54.3L392.9,53.6L391.6,54.2L390.4,53.8L389.3,53.3L388.1,53.6L386.9,53.5L385.8,53.7L384.7,54.2L383.6,53.8ZM441.3,70.0L442.2,70.5L443.2,71.0L444.3,71.1L445.6,70.8L446.7,71.0L447.9,71.6L449.0,71.3L450.3,71.7L451.4,71.4L449.7,70.3L449.0,69.4L447.9,69.1L448.4,68.0L448.4,66.9L449.6,66.8L450.6,66.4L451.4,65.4L452.8,64.7L454.1,64.0L455.3,63.7L456.3,63.2L457.5,63.0L458.6,62.5L459.8,62.8L460.8,61.8L461.9,61.6L463.0,61.4L464.1,61.1L465.3,60.8L466.3,60.4L467.5,60.4L468.7,59.8L469.9,59.8L471.1,60.2L470.2,59.6L469.1,60.0L468.0,59.7L466.9,59.8L465.9,60.0L464.8,60.2L463.8,60.8L462.7,60.3L461.6,60.5L460.5,60.7L459.5,60.9L458.3,60.7L457.4,61.8L456.2,60.9L455.2,61.7L454.1,61.8L453.1,62.6L451.7,62.3L450.5,62.9L449.3,63.7L447.9,64.4L446.5,65.1L445.2,66.0L443.8,67.3L442.0,68.3ZM594.2,64.5L595.3,64.9L596.4,65.1L597.4,65.4L598.5,65.4L599.6,65.8L600.8,65.6L602.0,65.4L603.2,65.4L601.9,64.5L600.5,63.8L599.3,63.9L598.1,63.7L596.9,63.8L595.6,64.2ZM601.4,63.3L602.6,63.4L603.8,63.6L604.9,63.6L606.0,63.4L607.1,63.7L608.2,63.3L609.2,63.2L610.3,63.3L609.0,62.7L607.6,62.2L606.5,62.1L605.4,62.2L604.3,61.8L603.2,61.8L602.3,62.6ZM610.3,64.0L611.5,63.8L612.7,63.9L613.9,63.7L615.1,63.8L616.3,63.7L617.4,63.6L615.7,62.7L614.5,62.8L613.4,63.0L612.3,62.9L611.2,63.1ZM588.9,65.4L590.1,65.3L591.3,65.3L592.5,65.3L590.7,64.5ZM657.1,262.4L658.5,263.5L659.9,264.9L660.8,266.8L662.8,267.1L663.6,268.0L664.6,268.8L666.0,268.5L667.4,268.4L667.1,270.0L666.4,271.1L664.7,271.3L664.4,272.6L663.6,273.7L663.0,274.9L661.5,275.5L660.5,274.9L661.5,273.5L660.5,272.2L659.0,271.3L660.5,270.2L660.6,268.2L659.9,266.2L658.8,265.2L658.0,264.0ZM657.1,273.5L658.1,273.9L659.2,274.2L659.9,275.7L659.3,276.7L658.5,277.7L657.1,279.1L655.7,279.9L654.4,280.6L653.9,281.9L653.5,283.3L652.4,283.8L651.4,284.6L649.2,284.6L648.2,284.1L647.0,284.0L646.0,283.5L646.5,282.2L647.4,281.4L648.3,280.6L649.2,279.8L650.2,279.4L651.1,278.8L652.2,278.6L653.1,278.0L654.1,277.0L654.9,275.9L656.0,274.2ZM558.0,184.6L559.1,183.5L560.3,182.6L561.2,181.5L562.1,180.3L562.3,179.4L561.6,180.8L560.9,181.8L560.2,182.8L559.4,183.7ZM228.8,166.3L230.3,166.2L231.7,166.5L231.3,167.2L230.1,167.3L228.8,167.2ZM141.7,60.9L140.4,60.2L139.3,61.0L138.2,62.0L137.1,62.1L135.7,61.0L134.6,61.8L133.6,61.0L132.4,61.0L131.4,60.6L130.1,61.1L131.2,61.1L132.1,60.0L133.3,60.2L134.3,60.1L135.5,60.4L136.4,59.4L137.5,59.5L138.5,58.4L139.7,58.8L140.8,59.1ZM175.7,69.8L174.3,70.0L173.0,70.3L171.9,69.9L170.6,70.0L169.5,69.6L168.5,68.7L167.4,67.7L165.8,67.8L166.9,66.9L168.3,66.7L169.4,65.8L170.5,65.7L171.7,66.2L172.8,65.9L173.9,65.6L174.6,66.5L175.5,67.1L176.5,67.6L175.3,68.4ZM162.3,58.2L163.4,58.1L164.5,57.9L165.6,57.9L166.7,57.6L168.1,57.3L169.4,56.7L167.6,56.4L166.5,56.5L165.4,56.5L164.3,56.6L163.2,56.7ZM173.9,58.4L175.1,58.3L176.2,57.9L177.4,57.8L178.3,56.7L177.1,56.6L176.0,56.8L174.8,56.7ZM149.8,58.2L151.1,57.8L152.5,57.6L153.3,56.7L152.1,56.7L151.0,56.8L149.8,56.9ZM147.1,59.3L148.2,59.1L149.2,59.1L150.3,59.2L151.4,59.3L152.5,59.1L153.8,58.7L155.1,58.4L153.9,58.2L152.6,58.3L151.4,58.1L150.1,58.0L148.9,58.0L148.0,58.7ZM158.7,59.6L159.9,59.4L161.1,59.4L162.3,59.3L160.5,58.5ZM178.3,60.0L179.5,59.9L180.6,59.8L181.7,59.6L182.8,59.6L181.5,59.2L180.1,58.9ZM168.5,62.5L169.6,62.3L170.7,62.4L171.7,62.5L172.8,62.3L173.9,62.4L173.0,61.7L172.1,61.1L170.8,61.4L169.7,62.1ZM164.1,61.3L165.4,61.5L166.7,61.6L167.1,60.7L165.6,61.0ZM132.8,62.2L134.1,62.1L135.3,61.8L136.6,61.8L137.8,61.9L139.1,61.6L137.7,61.2L136.4,60.7L135.2,61.2L134.0,61.7ZM210.8,184.8L211.4,183.9L212.2,183.2L213.1,182.0L213.9,180.8L215.1,180.2L216.4,179.5L217.4,179.2L218.5,179.2L219.9,178.3L221.4,177.4L221.9,178.8L220.5,179.9L221.2,181.7L222.1,180.6L223.5,179.2L223.9,177.7L224.7,179.0L225.9,179.8L227.1,180.6L228.3,180.6L229.4,180.6L230.6,180.6L231.8,180.6L233.0,180.7L234.2,180.8L235.7,180.6L237.2,180.5L238.5,180.8L237.2,181.7L238.6,182.2L239.9,182.6L240.3,184.5L241.4,185.1L242.6,185.4L243.8,186.3L244.9,187.4L246.0,188.2L247.1,189.0L248.2,189.0L249.4,189.0L250.6,189.2L251.8,189.6L253.0,189.8L254.2,189.9L255.2,190.9L256.3,191.7L257.1,192.6L257.8,193.5L258.2,194.6L258.8,195.7L259.6,196.6L259.2,197.8L258.7,199.0L260.0,199.6L261.3,200.3L263.1,201.4L264.4,201.7L265.8,201.7L267.0,202.4L268.2,203.2L269.4,204.1L270.5,204.3L271.6,204.7L272.7,204.7L273.8,205.0L274.9,205.1L276.1,205.1L277.2,205.1L278.3,205.4L279.3,205.9L280.2,206.6L280.9,207.5L281.9,208.1L283.2,208.6L284.5,209.0L285.8,209.5L285.9,210.9L286.4,212.2L286.5,213.5L286.2,214.9L286.0,216.3L285.1,217.1L284.4,218.0L283.6,219.0L283.0,219.8L282.6,220.9L281.9,221.7L281.1,222.6L280.3,223.5L279.5,224.4L279.4,225.6L279.1,226.8L279.2,228.1L279.0,229.3L279.1,230.5L278.8,231.7L278.6,232.9L278.2,234.2L277.8,235.3L277.1,236.7L276.5,238.1L275.6,239.9L274.6,240.7L273.8,241.7L272.5,241.5L271.2,241.7L270.0,242.2L268.8,242.6L267.8,243.0L266.8,243.4L265.8,243.9L264.6,244.8L263.5,245.7L262.8,246.9L262.0,248.1L261.9,249.3L262.0,250.5L261.9,251.7L260.8,252.5L259.9,253.5L259.2,254.9L258.3,256.2L257.3,257.4L256.3,258.6L255.3,259.7L254.6,261.0L253.6,261.7L252.8,262.6L251.7,263.0L250.6,263.3L249.3,263.2L247.9,263.1L246.8,262.8L245.6,262.4L244.4,262.6L245.4,263.8L246.5,264.9L247.4,266.2L246.6,267.5L246.0,268.9L244.8,269.7L243.5,270.2L242.4,270.3L241.3,270.6L240.2,270.7L239.0,270.8L237.6,270.4L237.7,271.9L237.8,273.5L236.3,274.1L234.9,274.8L233.8,274.7L232.8,274.4L233.2,275.6L233.7,276.8L235.1,277.7L234.0,278.3L232.8,278.6L232.4,280.1L232.2,281.7L231.2,282.0L230.2,282.4L229.2,282.8L228.3,284.2L229.6,284.9L231.0,285.3L231.3,286.8L230.4,287.8L229.2,288.6L228.2,289.6L227.4,290.8L226.6,291.7L225.6,292.6L225.8,293.9L226.7,294.9L224.7,295.3L226.5,296.2L228.0,297.7L229.2,297.8L230.0,298.8L231.0,299.5L232.8,299.8L231.5,300.4L230.1,300.2L228.8,300.5L227.4,300.7L226.1,300.9L224.7,300.6L223.3,300.3L222.1,299.7L220.9,298.6L219.4,298.4L218.9,297.2L217.1,297.5L216.7,296.2L216.6,294.8L215.3,294.4L213.8,293.4L214.0,291.7L214.7,290.4L214.9,289.2L214.0,288.0L215.3,286.9L214.9,285.3L213.9,284.4L214.4,283.0L215.8,282.6L215.9,281.0L217.4,280.8L218.5,278.9L216.7,278.4L217.0,277.1L216.9,275.9L216.9,274.6L217.6,273.5L218.0,272.3L218.1,271.1L217.6,269.6L217.4,268.0L217.8,267.0L218.5,266.0L218.9,264.9L219.7,263.9L220.3,262.6L220.6,261.2L221.0,259.9L221.2,258.5L221.2,257.1L221.2,255.9L221.5,254.7L221.5,253.5L221.9,252.3L222.0,251.1L222.2,249.9L222.5,248.7L222.6,247.4L222.8,246.2L223.0,245.0L222.9,243.8L223.1,242.6L223.4,241.4L223.4,240.2L223.7,239.0L223.7,237.7L223.4,236.5L223.5,235.3L223.2,234.3L223.3,233.2L222.4,232.5L221.4,231.9L220.5,231.0L219.4,230.4L218.5,229.8L217.6,229.3L216.7,228.6L215.9,227.9L214.9,227.4L214.0,226.8L213.4,225.5L212.6,224.4L212.2,223.2L211.7,222.1L210.9,220.8L210.3,219.5L209.6,218.3L208.9,217.2L208.3,216.2L207.9,215.0L207.2,214.1L206.5,213.2L206.0,212.3L205.1,211.4L204.0,210.8L203.9,209.0L203.7,207.5L204.5,206.7L205.5,206.1L206.4,204.4L205.1,204.1L204.4,202.1L205.5,200.3L206.0,198.4L207.8,197.5L208.0,196.4L208.5,195.4L209.4,194.3L210.5,193.5L210.6,192.4L210.8,191.2L210.8,189.6L210.6,188.1L209.7,186.8L210.3,185.8ZM602.3,116.3L603.5,115.0L604.9,115.4L604.1,113.6L603.6,112.5L603.3,111.4L604.2,110.0L604.4,108.9L604.3,107.8L604.6,106.7L604.6,105.6L604.4,104.5L604.4,103.1L604.4,101.8L603.3,101.2L603.2,102.4L602.8,103.6L601.7,104.5L602.0,105.9L602.3,107.2L602.2,108.4L602.0,109.6L602.1,110.9L602.0,112.2L602.1,113.6L602.1,115.0ZM363.8,125.4L365.4,125.0L366.3,126.1L366.3,127.4L365.9,128.7L364.9,129.0L363.8,129.0L363.8,127.2ZM577.3,205.7L578.6,205.2L580.0,205.0L581.1,205.7L582.3,206.3L581.1,206.4L580.0,206.3L578.7,205.8ZM514.8,56.4L515.9,56.4L517.0,56.1L518.0,57.0L519.2,56.5L520.2,57.1L521.4,57.0L522.5,57.8L523.7,57.5L524.9,57.5L526.1,57.8L527.3,57.6L528.3,57.2L529.5,57.6L530.5,56.8L531.6,57.1L532.7,56.7L534.1,56.7L535.3,55.8L534.3,55.8L533.2,55.2L532.1,55.6L531.0,55.8L530.0,55.4L529.0,54.9L528.2,54.1L527.3,53.4L526.3,52.8L525.2,53.2L524.1,52.6L523.0,53.0L521.9,52.7L520.7,52.4L519.6,53.0L518.4,53.1L517.3,53.1L516.2,53.3L515.2,53.8L514.0,53.5L513.0,54.0L512.1,55.3L513.3,56.1ZM281.0,298.0L282.2,298.0L283.3,298.3L284.5,298.4L283.6,299.1L282.3,298.7ZM585.3,139.9L586.0,138.1L587.5,137.8L589.1,137.8L589.2,138.5L588.3,139.4L587.3,139.8L586.2,140.3ZM370.9,130.7L372.9,130.5L374.2,130.6L375.4,130.5L376.6,130.3L375.9,131.8L375.8,133.2L374.3,132.7L373.2,132.4L372.2,131.8L371.1,131.6ZM624.8,209.7L625.8,210.5L626.9,211.3L626.0,212.3L625.4,211.0ZM628.2,211.9L629.0,212.6L629.9,213.2L629.2,213.5ZM629.6,214.4L630.7,214.5L631.7,214.6L630.8,215.3ZM633.5,216.1L634.6,216.7L635.8,217.2L634.4,217.7ZM636.0,215.2L636.6,216.2L637.1,217.2L636.5,217.3L636.3,216.3ZM636.7,218.4L638.5,219.3L637.3,219.5ZM181.9,67.8L180.6,68.0L179.3,68.1L178.3,69.1L178.0,67.7L177.4,66.4L179.0,66.3L180.1,65.3L181.3,66.0L182.6,65.8L183.9,64.7L185.1,65.4L186.4,65.4L185.9,66.7L184.6,66.9L183.0,66.5ZM205.6,84.3L204.5,85.5L202.9,85.0L201.5,85.4L200.2,85.7L199.0,85.1L197.7,85.1L196.6,84.1L195.3,84.3L194.4,82.7L194.4,81.4L195.3,80.5L196.4,81.3L197.6,81.2L198.9,80.9L199.7,82.2L201.2,82.2L202.4,82.5L203.5,83.1L204.4,84.1ZM491.2,188.3L491.2,187.1L491.5,186.0L491.4,184.8L491.6,183.5L491.8,182.1L492.7,182.6L493.2,183.6L493.9,184.5L494.8,186.3L494.6,188.1L493.7,188.6L492.5,189.2ZM561.9,209.9L562.1,208.5L562.3,207.2L561.2,206.3L560.9,204.8L561.8,203.2L562.1,202.0L562.6,200.8L563.2,199.0L564.4,197.5L566.0,197.7L567.5,198.1L568.8,198.3L570.1,198.3L571.1,197.7L571.9,197.0L572.3,197.4L571.6,198.3L570.9,199.2L569.2,199.2L567.9,199.3L566.6,199.0L564.8,199.2L563.5,200.8L565.1,201.7L566.2,201.8L567.3,201.6L568.4,201.5L567.5,202.8L565.7,203.4L566.4,204.5L566.9,205.7L567.9,206.8L568.7,208.1L567.8,208.6L566.6,208.1L565.9,207.3L565.4,206.1L564.8,205.0L564.1,205.0L563.7,206.3L563.8,207.5L563.7,208.7L563.7,209.9ZM518.9,189.7L520.0,189.9L521.1,190.5L522.8,190.5L523.7,191.7L524.8,192.8L525.9,193.3L526.8,194.1L527.5,195.1L528.4,196.1L529.6,196.3L530.7,197.0L531.8,197.7L533.4,199.0L534.1,200.4L534.6,201.4L535.3,202.3L535.7,203.3L536.2,204.3L537.7,205.4L537.9,206.5L538.0,207.7L537.9,209.1L537.7,210.4L535.7,210.6L535.0,209.7L534.1,209.0L533.0,208.2L531.9,207.5L531.3,206.6L530.6,205.8L529.8,205.0L529.2,203.8L528.4,202.8L528.0,201.8L527.5,200.8L526.1,199.5L525.5,198.3L525.3,197.0L524.2,196.3L523.2,195.4L522.0,194.2L521.1,193.0L520.2,192.2L519.3,191.4ZM368.4,57.1L369.5,57.4L370.7,57.3L371.9,57.5L372.9,58.2L374.3,58.5L375.6,59.3L377.1,59.9L378.4,60.7L380.0,59.6L381.5,59.2L382.7,58.2L383.8,57.8L384.9,57.3L386.0,57.1L387.2,57.1L386.0,56.0L384.5,55.8L383.3,55.9L382.1,55.3L380.9,55.3L379.1,54.5L377.9,54.3L376.8,55.3L375.6,54.9L374.5,55.1L373.3,55.2L372.2,54.5L371.1,54.9L369.8,55.5L368.4,55.4L367.9,56.4ZM563.2,157.9L563.5,156.6L564.1,155.4L564.8,154.5L565.7,153.9L566.6,154.5L566.2,155.9L565.7,157.2L565.3,158.6L564.6,159.9L563.5,159.0ZM607.1,273.9L608.2,274.0L609.2,274.3L610.3,274.6L611.4,274.5L612.4,274.2L613.5,274.2L613.6,275.4L613.5,276.6L612.8,278.4L611.0,279.1L609.4,278.9L608.6,277.8L608.0,276.6L607.1,274.8ZM453.2,72.7L454.4,72.9L455.6,72.8L456.8,73.1L455.5,71.8L454.4,72.3ZM128.7,112.0L127.6,111.9L126.6,111.6L125.5,111.0L124.4,110.7L123.0,110.0L121.7,109.1L120.6,108.4L119.6,107.6L120.8,107.9L122.1,108.0L123.7,108.3L125.1,108.9L126.3,109.6L127.5,110.1L128.0,111.1ZM646.2,226.4L647.3,228.1L646.5,228.2ZM665.1,231.5L666.3,231.7L667.6,231.9L666.9,233.0L665.3,232.6ZM668.0,229.5L669.0,229.7L670.1,229.7L668.7,230.4ZM641.5,236.6L642.6,237.2L643.8,237.7L644.8,238.4L645.9,239.4L646.9,240.4L645.1,239.9L644.2,239.1L643.4,238.2L642.4,237.5ZM168.5,73.1L167.6,73.9L166.5,74.0L165.5,74.8L164.4,74.9L163.2,74.7L162.1,74.5L161.0,73.9L159.8,74.8L158.7,74.5L157.6,75.2L156.5,74.3L155.4,74.8L154.2,74.7L153.1,75.4L151.9,75.5L150.6,74.2L149.5,75.2L148.2,74.4L147.1,75.4L146.2,74.5L144.8,75.5L143.9,74.5L142.8,74.6L141.7,74.2L140.6,73.6L139.5,72.9L138.2,72.7L139.3,73.0L140.4,72.6L141.3,71.5L142.4,71.8L143.5,71.8L142.3,71.2L141.1,70.7L139.8,70.8L138.5,71.4L137.3,70.9L137.8,69.6L138.2,68.2L139.4,67.6L140.5,67.0L142.1,68.0L143.1,66.7L144.4,66.7L145.5,67.8L147.0,66.7L148.0,68.1L149.3,68.3L150.7,68.2L151.7,67.2L153.1,68.1L154.2,67.6L155.4,67.9L156.3,66.5L157.5,66.7L158.7,66.7L160.0,66.8L160.4,68.1L161.4,68.6L162.3,69.3L163.8,69.0L164.7,70.3L165.8,70.9L167.6,71.6ZM570.0,178.5L571.2,177.2L572.8,177.4L573.2,178.6L573.2,179.9L572.5,180.8L571.9,181.7L571.2,180.3L570.0,180.4L568.7,180.3L567.5,180.8L566.6,179.0L568.2,178.6ZM667.6,70.7L668.8,70.6L669.9,70.2L671.0,70.0L672.8,70.9L671.4,70.8L670.1,71.1L668.9,70.8Z" fill="#E4ECED" stroke="#000" stroke-width="0.95" stroke-linejoin="round"/>
<path d="M397.9,123.6L398.8,121.2L399.9,120.3L401.8,117.8L403.2,116.0L405.0,115.2L406.8,116.1L408.6,117.2L407.0,117.6L408.6,119.0L410.4,118.9L412.2,118.0L414.1,117.6L415.9,117.8L417.5,114.7L418.8,114.3L415.7,114.9L414.0,115.6L412.2,117.0L415.4,117.6L417.0,119.0L419.3,120.3L421.1,121.6L423.1,123.6L422.9,124.5L420.2,125.4L416.6,125.6L414.0,124.9L411.3,123.6L408.6,123.6L405.9,124.3L403.2,125.0L400.9,125.0L399.1,124.3ZM432.7,120.0L433.6,117.2L435.4,115.6L437.2,115.2L440.2,114.5L443.4,114.9L443.8,116.7L440.4,117.6L440.7,119.6L443.0,122.7L442.7,124.5L444.3,124.5L445.7,125.9L443.6,128.5L445.0,129.2L444.7,132.1L441.6,133.2L438.8,132.5L436.3,131.2L436.1,129.8L436.8,127.6L437.3,126.3L435.6,123.9L433.6,122.0Z" fill="#fff" stroke="#000" stroke-width="0.95" stroke-linejoin="round"/>
<path d="M111.4,100.0L112.8,98.9L111.6,98.3L110.5,97.6L109.3,98.1L110.0,99.2L111.4,100.0M108.7,97.2L109.6,96.0L108.0,94.7L106.9,95.6L107.5,96.8L108.7,97.2M106.9,96.0L106.4,94.9L105.1,94.2L106.0,95.6L106.9,96.0M112.3,103.2L113.7,102.0L112.8,101.6L111.2,101.8L111.6,102.9L112.3,103.2M114.4,105.1L113.5,104.3L112.6,103.6L113.4,104.9L114.4,105.1M187.3,56.4L186.3,57.4L185.0,56.9L183.8,56.7L182.8,57.4L181.6,57.8L180.7,56.8L179.7,56.3L178.6,55.9L177.4,56.4L176.9,55.1L177.4,53.8L178.5,53.0L179.8,53.1L181.0,53.1L182.2,52.7L183.5,53.1L184.6,52.4L186.0,52.6L186.4,54.0L186.6,55.3L187.3,56.4M239.0,78.9L238.3,80.1L237.2,80.9L236.2,81.8L235.0,82.0L233.7,81.8L232.2,83.1L233.1,84.5L232.5,85.4L231.9,86.3L230.1,87.4L229.0,86.7L227.7,86.7L226.5,86.2L225.4,85.4L224.1,86.5L223.0,85.8L221.7,84.8L220.3,84.3L219.0,84.4L218.3,83.0L217.1,82.9L215.9,82.7L214.6,82.5L213.4,82.9L212.2,83.1L211.0,82.2L209.6,82.5L210.9,83.2L211.9,81.6L213.2,82.2L214.4,82.0L215.6,81.7L216.7,81.1L217.2,80.1L217.6,79.1L218.6,78.3L219.4,77.3L217.9,76.7L216.7,75.8L215.5,75.6L214.6,74.7L213.1,75.2L212.2,74.0L210.8,74.2L210.1,72.4L208.7,72.7L207.6,73.4L206.5,73.5L205.4,73.4L204.2,72.9L203.2,72.1L202.0,73.3L201.0,72.8L200.0,71.6L198.9,72.3L197.8,71.3L196.5,72.9L195.5,72.2L194.4,71.8L193.4,70.8L192.3,69.9L190.8,70.0L190.8,68.7L190.0,67.9L189.0,67.3L190.2,66.2L191.7,66.0L192.9,66.3L194.1,66.7L195.3,65.3L196.5,65.6L197.7,66.7L198.9,66.2L200.1,65.4L201.4,65.9L202.6,65.5L203.8,65.7L205.1,66.0L206.5,65.7L207.5,66.3L208.7,66.6L209.6,67.6L210.6,68.3L211.8,67.6L212.8,68.0L213.9,67.8L214.9,68.3L216.0,68.7L217.2,68.3L218.2,69.1L219.1,69.9L220.3,69.8L221.3,70.7L222.4,71.4L223.9,71.3L225.0,71.7L226.0,72.9L227.4,72.5L228.3,73.4L229.2,74.2L230.1,75.6L231.0,76.7L232.3,76.5L233.4,77.0L234.6,77.4L235.7,77.7L237.0,77.5L237.6,79.4L239.0,78.9M133.7,70.0L132.7,71.0L131.5,70.3L130.4,70.4L129.2,70.5L127.9,70.9L127.2,69.1L125.8,70.0L124.8,69.3L124.9,67.9L125.7,66.8L125.7,65.4L126.6,64.7L127.8,64.0L129.1,64.9L130.3,64.7L131.6,64.5L132.8,64.5L134.1,64.3L135.2,65.5L136.5,65.3L137.8,65.5L139.1,65.6L140.4,66.2L141.7,66.9L140.8,67.8L139.5,67.1L138.7,68.3L137.4,67.9L136.4,68.3L135.0,69.2L133.7,70.0M174.8,64.0L173.7,63.5L172.6,63.9L171.5,64.6L170.5,64.0L169.4,63.6L168.1,62.9L167.6,61.4L168.9,61.6L170.1,61.6L171.4,61.5L172.6,60.9L173.9,60.9L175.3,61.3L176.5,62.2L176.0,63.4L174.8,64.0M182.8,63.8L181.7,64.0L180.7,64.0L179.6,64.2L178.5,64.0L177.4,63.8L176.5,62.5L177.6,62.0L178.9,62.7L179.8,61.7L181.0,61.8L181.8,62.9L182.8,63.8M205.1,64.5L203.9,64.7L202.6,65.3L201.4,64.4L200.1,63.7L198.9,64.5L197.7,64.3L196.5,64.6L195.3,65.2L194.1,65.3L192.9,64.3L191.7,64.4L190.5,64.1L189.3,63.5L188.0,64.4L186.8,63.5L185.5,64.0L184.9,62.8L183.7,62.7L185.1,63.1L186.2,62.7L186.9,61.2L188.2,61.1L189.3,61.8L190.6,60.3L191.7,61.9L192.9,60.5L194.1,61.9L195.3,61.3L196.5,62.1L197.7,60.7L198.9,61.5L200.0,60.6L201.3,61.5L202.4,60.9L203.5,61.9L204.9,60.9L206.0,61.6L206.9,63.3L206.2,64.2L205.1,64.5M206.9,60.9L205.8,61.8L204.6,60.6L203.6,62.0L202.4,61.3L201.2,61.6L200.1,60.3L198.9,60.2L197.7,61.3L196.5,61.5L195.3,60.9L194.1,60.1L192.8,60.4L191.5,61.1L190.3,60.0L189.0,60.5L188.9,59.0L189.9,57.8L188.9,57.5L188.0,56.5L186.8,56.7L185.6,56.8L184.6,56.4L183.8,55.6L182.6,55.3L182.3,53.8L181.0,53.6L182.1,52.9L183.4,53.4L184.5,52.6L185.7,52.4L187.0,52.6L188.2,52.2L189.3,52.2L190.3,51.2L191.3,50.7L192.5,50.8L193.7,50.9L194.9,51.2L196.1,51.4L197.1,50.4L198.1,49.4L199.3,49.8L200.4,49.4L201.6,50.2L202.7,49.6L203.8,48.8L205.0,49.0L206.1,49.3L207.3,49.7L208.4,49.3L209.6,49.1L210.7,48.4L211.8,49.3L212.9,48.7L214.0,48.8L215.1,48.3L216.2,48.4L217.3,49.4L218.4,49.9L219.5,49.4L220.6,49.1L221.7,48.8L222.7,48.3L223.9,48.9L225.0,48.3L226.1,49.9L227.3,48.5L228.4,48.6L229.6,48.6L230.7,49.2L231.8,49.8L233.0,48.8L234.1,48.9L235.2,49.2L236.3,49.6L238.0,49.6L239.0,50.9L237.8,50.9L236.6,50.7L235.6,51.8L234.5,52.5L233.2,51.7L232.2,52.9L231.0,52.7L230.0,53.8L228.5,52.9L227.5,53.8L226.3,54.2L225.0,54.2L223.9,54.5L222.6,54.4L221.6,54.8L220.8,56.1L219.7,56.5L218.5,56.4L217.4,56.5L216.2,56.1L215.4,57.7L214.3,57.9L213.1,57.6L213.1,59.4L211.8,59.3L210.7,60.2L209.5,61.0L208.3,61.3L206.9,60.9M306.9,72.2L305.5,72.3L304.3,72.6L303.9,74.7L302.4,74.5L301.4,74.9L300.2,74.7L299.2,75.2L298.1,75.3L297.0,75.8L295.9,75.0L295.0,76.8L293.8,76.3L292.8,77.1L291.7,76.3L290.7,76.8L290.0,77.8L288.7,77.7L287.6,78.0L287.7,80.1L286.3,80.0L285.4,80.9L284.1,80.0L283.2,81.3L282.1,81.3L281.0,80.9L279.6,81.1L278.7,82.3L277.4,82.7L277.1,84.3L275.6,84.5L274.7,85.4L274.9,87.0M259.0,84.4L257.8,83.6L257.1,82.1L255.6,81.4L255.0,80.4L254.5,79.4L253.3,79.1L252.4,77.9L253.3,76.7L254.6,76.7L255.6,75.7L256.9,75.4L255.9,74.1L254.2,74.2L253.3,73.6L252.5,72.6L251.5,72.2L252.7,72.1L253.9,72.5L255.0,72.1L256.0,71.1L254.7,71.4L253.8,70.2L252.8,69.8L251.5,70.0L251.1,68.6L249.7,68.2L249.1,67.0L247.9,66.4L247.4,65.1L246.8,63.9L245.3,63.6L244.2,63.2L243.5,62.2L242.5,61.7L241.4,61.2L240.2,62.1L239.3,60.8L238.1,61.4L236.9,61.0L235.8,62.2L234.5,60.8L233.4,61.5L232.2,62.3L231.0,61.6L229.8,62.1L228.9,60.7L227.8,60.9L226.6,61.5L225.6,60.9L224.6,60.3L223.1,61.0L222.5,59.3L221.2,59.4L219.5,59.4L218.9,57.8L220.1,57.4L221.5,57.6L222.6,56.8L223.9,56.4L225.2,56.7L225.9,55.2L227.2,55.7L227.9,54.1L229.2,54.5L230.2,54.0L231.4,54.1L232.6,53.9L233.4,52.9L234.6,52.7L235.8,53.1L236.8,51.6L238.3,52.8L239.3,51.8L240.5,51.6L241.7,51.5L242.8,51.8L243.9,50.8L245.1,51.5L246.1,50.9L247.3,51.0L248.4,51.4L249.5,51.2L250.6,50.9L251.8,51.7L252.9,51.4L253.9,50.0L255.1,51.0L256.2,50.2L257.4,51.3L258.4,50.3M177.4,75.4L176.4,74.8L175.2,75.1L174.1,74.8L173.0,74.7L172.1,73.3L173.2,72.4L174.3,73.4L175.4,73.5L176.5,73.1L177.6,74.0L177.4,75.4M160.5,63.3L159.3,62.7L158.2,63.5L157.1,63.6L156.0,63.8L154.8,63.4L153.6,64.1L152.4,63.3L151.3,65.0L150.1,64.7L148.9,64.5L147.7,64.7L146.6,65.1L145.5,64.5L144.5,63.6L143.3,63.5L142.3,63.2L141.2,62.9L140.0,63.6L140.5,62.2L141.7,61.4L142.9,60.7L144.1,61.6L145.4,61.7L146.5,60.8L147.6,60.4L148.9,60.9L150.1,60.1L151.3,61.4L152.4,60.3L153.6,60.2L154.8,60.3L156.0,60.7L157.2,61.4L158.5,62.0L159.9,61.8L160.5,63.3M126.9,73.2L128.1,73.1L129.2,73.8L130.5,74.3L131.6,73.2L132.8,73.3L133.9,73.3L134.9,74.1L136.1,73.9L137.3,73.6L138.2,74.5L139.2,74.7L140.4,74.7L141.3,75.4L142.4,75.5L143.5,75.4L144.8,74.9L145.8,76.4L147.1,75.8L148.1,76.4L149.3,75.7L150.3,76.2L151.3,76.9L152.5,76.3L153.5,75.9L154.7,76.1L155.8,75.5L156.9,75.4L158.0,75.7L159.1,75.7L160.3,75.7L161.4,76.0L162.4,76.3L163.4,76.9L164.5,76.9L165.7,75.9L166.7,76.7L167.8,76.7L168.9,77.4L170.0,76.2L171.0,77.3L172.1,76.9L173.7,76.7L174.8,75.4L176.0,75.6L177.1,76.3L178.3,76.2L179.2,75.3L180.1,74.4L181.0,73.6L180.8,72.5L179.7,71.9L179.2,70.9L180.5,70.8L181.0,69.7L181.9,69.1L182.9,69.6L183.3,70.9L184.6,70.9L185.4,71.9L185.9,73.2L187.3,73.6L188.3,74.0L189.6,73.7L190.6,74.5L191.7,74.9L192.8,75.4L193.8,76.1L194.4,77.3L195.6,76.6L195.1,74.7L196.1,73.9L197.1,73.1L198.0,73.9L199.3,72.9L200.3,73.8L201.3,74.3L202.4,74.0L203.7,74.8L203.7,76.3L202.8,77.1L202.0,78.1L200.4,77.9L199.8,79.1L198.7,79.7L197.4,78.6L196.4,79.1L195.3,79.6L194.2,80.5L192.9,81.1L192.6,82.7L191.5,83.1L190.3,82.7L189.2,83.1M126.2,112.0L127.4,111.7L128.4,112.3M129.4,112.7L129.6,111.2L128.9,110.3L127.1,109.2L125.7,108.1L124.4,107.5L123.0,107.4L121.2,106.9L120.3,105.4L119.1,104.8L118.5,103.6L117.1,103.2L116.8,101.8L115.9,100.3L115.0,98.5L114.1,97.5L113.2,96.7L112.0,95.7L110.5,95.4L109.6,94.7L108.3,94.5L107.8,93.2L106.4,92.9L105.1,93.8M141.7,60.9L140.4,60.2L139.3,61.0L138.2,62.0L137.1,62.1L135.7,61.0L134.6,61.8L133.6,61.0L132.4,61.0L131.4,60.6L130.1,61.1L131.2,61.1L132.1,60.0L133.3,60.2L134.3,60.1L135.5,60.4L136.4,59.4L137.5,59.5L138.5,58.4L139.7,58.8L140.8,59.1L141.7,60.9M175.7,69.8L174.3,70.0L173.0,70.3L171.9,69.9L170.6,70.0L169.5,69.6L168.5,68.7L167.4,67.7L165.8,67.8L166.9,66.9L168.3,66.7L169.4,65.8L170.5,65.7L171.7,66.2L172.8,65.9L173.9,65.6L174.6,66.5L175.5,67.1L176.5,67.6L175.3,68.4L175.7,69.8M162.3,58.2L163.4,58.1L164.5,57.9L165.6,57.9L166.7,57.6L168.1,57.3L169.4,56.7L167.6,56.4L166.5,56.5L165.4,56.5L164.3,56.6L163.2,56.7L162.3,58.2M173.9,58.4L175.1,58.3L176.2,57.9L177.4,57.8L178.3,56.7L177.1,56.6L176.0,56.8L174.8,56.7L173.9,58.4M149.8,58.2L151.1,57.8L152.5,57.6L153.3,56.7L152.1,56.7L151.0,56.8L149.8,56.9L149.8,58.2M147.1,59.3L148.2,59.1L149.2,59.1L150.3,59.2L151.4,59.3L152.5,59.1L153.8,58.7L155.1,58.4L153.9,58.2L152.6,58.3L151.4,58.1L150.1,58.0L148.9,58.0L148.0,58.7L147.1,59.3M158.7,59.6L159.9,59.4L161.1,59.4L162.3,59.3L160.5,58.5L158.7,59.6M178.3,60.0L179.5,59.9L180.6,59.8L181.7,59.6L182.8,59.6L181.5,59.2L180.1,58.9L178.3,60.0M168.5,62.5L169.6,62.3L170.7,62.4L171.7,62.5L172.8,62.3L173.9,62.4L173.0,61.7L172.1,61.1L170.8,61.4L169.7,62.1L168.5,62.5M164.1,61.3L165.4,61.5L166.7,61.6L167.1,60.7L165.6,61.0L164.1,61.3M132.8,62.2L134.1,62.1L135.3,61.8L136.6,61.8L137.8,61.9L139.1,61.6L137.7,61.2L136.4,60.7L135.2,61.2L134.0,61.7L132.8,62.2M181.9,67.8L180.6,68.0L179.3,68.1L178.3,69.1L178.0,67.7L177.4,66.4L179.0,66.3L180.1,65.3L181.3,66.0L182.6,65.8L183.9,64.7L185.1,65.4L186.4,65.4L185.9,66.7L184.6,66.9L183.0,66.5L181.9,67.8M205.6,84.3L204.5,85.5L202.9,85.0L201.5,85.4L200.2,85.7L199.0,85.1L197.7,85.1L196.6,84.1L195.3,84.3L194.4,82.7L194.4,81.4L195.3,80.5L196.4,81.3L197.6,81.2L198.9,80.9L199.7,82.2L201.2,82.2L202.4,82.5L203.5,83.1L204.4,84.1L205.6,84.3M168.5,73.1L167.6,73.9L166.5,74.0L165.5,74.8L164.4,74.9L163.2,74.7L162.1,74.5L161.0,73.9L159.8,74.8L158.7,74.5L157.6,75.2L156.5,74.3L155.4,74.8L154.2,74.7L153.1,75.4L151.9,75.5L150.6,74.2L149.5,75.2L148.2,74.4L147.1,75.4L146.2,74.5L144.8,75.5L143.9,74.5L142.8,74.6L141.7,74.2L140.6,73.6L139.5,72.9L138.2,72.7L139.3,73.0L140.4,72.6L141.3,71.5L142.4,71.8L143.5,71.8L142.3,71.2L141.1,70.7L139.8,70.8L138.5,71.4L137.3,70.9L137.8,69.6L138.2,68.2L139.4,67.6L140.5,67.0L142.1,68.0L143.1,66.7L144.4,66.7L145.5,67.8L147.0,66.7L148.0,68.1L149.3,68.3L150.7,68.2L151.7,67.2L153.1,68.1L154.2,67.6L155.4,67.9L156.3,66.5L157.5,66.7L158.7,66.7L160.0,66.8L160.4,68.1L161.4,68.6L162.3,69.3L163.8,69.0L164.7,70.3L165.8,70.9L167.6,71.6L168.5,73.1" fill="none" stroke="#000" stroke-width="1.7" stroke-linejoin="round" stroke-linecap="round"/>
<path d="M220.9,298.6L219.4,298.4L218.9,297.2L217.1,297.5L216.7,296.2L216.6,294.8L215.3,294.4L213.8,293.4L214.0,291.7L214.7,290.4L214.9,289.2L214.0,288.0L215.3,286.9L214.9,285.3L213.9,284.4L214.4,283.0L215.8,282.6L215.9,281.0L217.4,280.8" fill="none" stroke="#000" stroke-width="2.8" stroke-linejoin="round" stroke-linecap="round"/>
<g fill="#E4ECED" stroke="#000" stroke-width="0.8"><circle cx="59.8" cy="189.2" r="0.45"/><circle cx="67.8" cy="196.4" r="0.45"/><circle cx="63.2" cy="200.4" r="0.45"/><circle cx="70.5" cy="207.2" r="0.45"/><circle cx="72.1" cy="210.1" r="0.45"/><circle cx="76.9" cy="218.1" r="0.45"/><circle cx="77.8" cy="220.6" r="0.45"/><circle cx="98.7" cy="216.1" r="0.45"/><circle cx="100.7" cy="217.7" r="0.45"/><circle cx="101.2" cy="218.8" r="0.45"/><circle cx="78.4" cy="230.1" r="0.45"/><circle cx="81.9" cy="231.9" r="0.51"/><circle cx="80.7" cy="230.4" r="0.45"/><circle cx="88.2" cy="227.2" r="0.45"/><circle cx="90.0" cy="229.0" r="0.45"/><circle cx="91.8" cy="230.8" r="0.45"/><circle cx="94.4" cy="229.7" r="0.45"/><circle cx="97.1" cy="231.7" r="0.45"/><circle cx="98.0" cy="233.5" r="0.45"/><circle cx="84.6" cy="227.2" r="0.45"/><circle cx="85.5" cy="229.5" r="0.45"/><circle cx="63.6" cy="238.4" r="0.45"/><circle cx="67.1" cy="234.4" r="0.45"/><circle cx="119.8" cy="244.2" r="0.45"/><circle cx="153.5" cy="249.1" r="0.45"/><circle cx="82.3" cy="242.4" r="0.45"/><circle cx="91.2" cy="250.0" r="0.45"/><circle cx="108.0" cy="241.9" r="0.45"/><circle cx="41.8" cy="225.0" r="0.45"/><circle cx="42.7" cy="225.3" r="0.45"/><circle cx="44.1" cy="225.9" r="0.45"/><circle cx="36.1" cy="238.2" r="0.45"/><circle cx="37.5" cy="233.9" r="0.45"/><circle cx="38.4" cy="228.8" r="0.45"/><circle cx="30.9" cy="225.9" r="0.45"/><circle cx="27.7" cy="229.9" r="0.45"/><circle cx="45.5" cy="234.6" r="0.45"/><circle cx="42.1" cy="216.6" r="0.45"/><circle cx="33.7" cy="224.1" r="0.45"/><circle cx="52.8" cy="219.7" r="0.45"/><circle cx="186.4" cy="201.0" r="0.45"/><circle cx="187.6" cy="201.5" r="0.45"/><circle cx="185.5" cy="200.3" r="0.45"/><circle cx="193.5" cy="189.9" r="0.45"/><circle cx="153.9" cy="181.2" r="0.45"/><circle cx="208.0" cy="261.0" r="0.45"/><circle cx="233.1" cy="141.2" r="0.45"/><circle cx="298.8" cy="129.9" r="0.45"/><circle cx="303.3" cy="131.2" r="0.45"/><circle cx="293.3" cy="128.3" r="0.45"/><circle cx="318.6" cy="140.5" r="0.45"/><circle cx="321.1" cy="149.0" r="0.51"/><circle cx="324.2" cy="147.9" r="0.45"/><circle cx="317.0" cy="147.9" r="0.45"/><circle cx="319.2" cy="148.5" r="0.45"/><circle cx="306.0" cy="170.8" r="0.45"/><circle cx="306.7" cy="172.5" r="0.45"/><circle cx="307.9" cy="170.6" r="0.45"/><circle cx="304.2" cy="169.0" r="0.45"/><circle cx="323.1" cy="214.3" r="0.45"/><circle cx="338.6" cy="228.8" r="0.45"/><circle cx="336.3" cy="87.2" r="0.45"/><circle cx="364.3" cy="193.5" r="0.45"/><circle cx="360.6" cy="199.4" r="0.45"/><circle cx="358.8" cy="202.4" r="0.45"/><circle cx="362.0" cy="197.0" r="0.45"/><circle cx="239.9" cy="173.4" r="0.45"/><circle cx="239.4" cy="171.9" r="0.45"/><circle cx="238.8" cy="170.5" r="0.45"/><circle cx="238.5" cy="168.8" r="0.45"/><circle cx="236.7" cy="168.5" r="0.45"/><circle cx="239.6" cy="175.9" r="0.45"/><circle cx="238.7" cy="177.9" r="0.45"/><circle cx="242.6" cy="176.1" r="0.45"/><circle cx="239.4" cy="180.8" r="0.45"/><circle cx="240.5" cy="179.5" r="0.45"/><circle cx="233.7" cy="166.5" r="0.45"/><circle cx="224.0" cy="177.2" r="0.45"/><circle cx="225.6" cy="177.7" r="0.45"/><circle cx="226.9" cy="177.7" r="0.45"/><circle cx="234.7" cy="179.9" r="0.45"/><circle cx="210.5" cy="155.4" r="0.45"/><circle cx="209.6" cy="154.5" r="0.45"/><circle cx="210.8" cy="151.7" r="0.45"/><circle cx="208.5" cy="151.6" r="0.45"/><circle cx="212.6" cy="154.5" r="0.45"/><circle cx="213.9" cy="157.2" r="0.45"/><circle cx="215.8" cy="159.4" r="0.45"/><circle cx="217.4" cy="161.7" r="0.45"/><circle cx="220.3" cy="160.3" r="0.45"/><circle cx="201.0" cy="160.5" r="0.45"/><circle cx="193.7" cy="162.8" r="0.45"/><circle cx="204.4" cy="154.5" r="0.45"/><circle cx="202.8" cy="155.2" r="0.45"/><circle cx="451.4" cy="236.6" r="0.45"/><circle cx="447.9" cy="238.2" r="0.45"/><circle cx="462.0" cy="235.7" r="0.45"/><circle cx="447.9" cy="208.3" r="0.45"/><circle cx="426.1" cy="221.2" r="0.45"/><circle cx="428.1" cy="222.1" r="0.45"/><circle cx="445.0" cy="177.2" r="0.45"/><circle cx="480.0" cy="192.3" r="0.45"/><circle cx="479.5" cy="198.1" r="0.45"/><circle cx="478.0" cy="213.2" r="0.45"/><circle cx="472.9" cy="289.5" r="0.68"/><circle cx="441.3" cy="284.2" r="0.45"/><circle cx="416.3" cy="285.1" r="0.45"/><circle cx="480.0" cy="296.4" r="0.45"/><circle cx="514.3" cy="178.1" r="0.51"/><circle cx="514.4" cy="179.9" r="0.45"/><circle cx="515.7" cy="185.4" r="0.45"/><circle cx="516.2" cy="187.2" r="0.45"/><circle cx="537.5" cy="219.0" r="0.45"/><circle cx="521.6" cy="222.1" r="0.45"/><circle cx="522.5" cy="195.4" r="0.45"/><circle cx="524.6" cy="197.5" r="0.45"/><circle cx="525.9" cy="201.5" r="0.45"/><circle cx="527.8" cy="204.4" r="0.45"/><circle cx="531.4" cy="209.5" r="0.45"/><circle cx="538.4" cy="203.9" r="0.77"/><circle cx="541.2" cy="205.2" r="0.45"/><circle cx="535.3" cy="200.3" r="0.45"/><circle cx="541.9" cy="192.8" r="0.45"/><circle cx="550.1" cy="212.6" r="0.45"/><circle cx="608.9" cy="172.3" r="0.45"/><circle cx="607.3" cy="175.6" r="0.45"/><circle cx="609.1" cy="167.0" r="0.45"/><circle cx="608.9" cy="163.6" r="0.45"/><circle cx="588.9" cy="186.5" r="0.45"/><circle cx="595.3" cy="182.6" r="0.45"/><circle cx="619.8" cy="186.5" r="0.45"/><circle cx="631.2" cy="187.4" r="0.45"/><circle cx="639.8" cy="190.3" r="0.45"/><circle cx="654.4" cy="187.0" r="0.45"/><circle cx="649.9" cy="186.6" r="0.45"/><circle cx="648.1" cy="183.5" r="0.45"/><circle cx="657.4" cy="197.4" r="0.45"/><circle cx="657.6" cy="200.8" r="0.45"/><circle cx="663.0" cy="209.9" r="0.45"/><circle cx="668.7" cy="215.3" r="0.45"/><circle cx="646.7" cy="200.8" r="0.45"/><circle cx="651.4" cy="201.5" r="0.45"/><circle cx="602.6" cy="150.7" r="0.45"/><circle cx="601.0" cy="154.8" r="0.45"/><circle cx="598.3" cy="139.8" r="0.45"/><circle cx="597.6" cy="137.9" r="0.45"/><circle cx="577.3" cy="151.7" r="0.51"/><circle cx="570.5" cy="155.6" r="0.45"/><circle cx="572.5" cy="155.0" r="0.45"/><circle cx="580.0" cy="148.5" r="0.45"/><circle cx="581.7" cy="144.7" r="0.45"/><circle cx="580.5" cy="137.6" r="0.45"/><circle cx="574.6" cy="139.2" r="0.45"/><circle cx="578.4" cy="136.5" r="0.45"/><circle cx="610.3" cy="120.3" r="0.45"/><circle cx="613.0" cy="117.8" r="0.45"/><circle cx="616.5" cy="116.0" r="0.45"/><circle cx="619.8" cy="114.5" r="0.45"/><circle cx="621.9" cy="112.9" r="0.45"/><circle cx="624.6" cy="111.2" r="0.45"/><circle cx="626.4" cy="109.1" r="0.45"/><circle cx="627.8" cy="107.6" r="0.45"/><circle cx="646.0" cy="99.6" r="0.51"/><circle cx="648.7" cy="100.9" r="0.45"/><circle cx="340.8" cy="101.4" r="0.45"/><circle cx="337.6" cy="95.4" r="0.51"/><circle cx="335.8" cy="95.6" r="0.45"/><circle cx="336.7" cy="94.3" r="0.45"/><circle cx="343.4" cy="92.7" r="0.45"/><circle cx="346.5" cy="90.3" r="0.45"/><circle cx="337.7" cy="98.5" r="0.45"/><circle cx="339.3" cy="98.9" r="0.45"/><circle cx="367.5" cy="96.0" r="0.45"/><circle cx="368.4" cy="99.4" r="0.51"/><circle cx="370.6" cy="99.2" r="0.59"/><circle cx="375.4" cy="99.8" r="0.45"/><circle cx="382.0" cy="95.6" r="0.45"/><circle cx="378.4" cy="96.9" r="0.45"/><circle cx="389.0" cy="93.8" r="0.51"/><circle cx="389.3" cy="92.9" r="0.45"/><circle cx="369.3" cy="100.5" r="0.45"/><circle cx="384.5" cy="90.5" r="0.45"/><circle cx="357.5" cy="103.4" r="0.45"/><circle cx="363.8" cy="99.2" r="0.45"/><circle cx="374.5" cy="134.7" r="0.45"/><circle cx="393.6" cy="132.7" r="0.45"/><circle cx="394.1" cy="131.9" r="0.45"/><circle cx="392.7" cy="129.8" r="0.51"/><circle cx="395.2" cy="128.5" r="0.45"/><circle cx="396.3" cy="130.3" r="0.45"/><circle cx="397.4" cy="133.9" r="0.45"/><circle cx="398.8" cy="133.9" r="0.45"/><circle cx="389.3" cy="132.7" r="0.45"/><circle cx="384.5" cy="128.1" r="0.45"/><circle cx="385.6" cy="130.1" r="0.45"/><circle cx="392.4" cy="125.9" r="0.45"/><circle cx="395.0" cy="126.9" r="0.45"/><circle cx="351.5" cy="129.0" r="0.45"/><circle cx="354.0" cy="127.9" r="0.68"/><circle cx="356.1" cy="127.4" r="0.45"/><circle cx="374.1" cy="125.9" r="0.45"/><circle cx="375.9" cy="129.8" r="0.45"/><circle cx="367.2" cy="122.1" r="0.45"/><circle cx="378.4" cy="121.0" r="0.45"/><circle cx="378.8" cy="122.0" r="0.45"/><circle cx="44.8" cy="96.0" r="0.45"/><circle cx="76.1" cy="95.6" r="1.02"/><circle cx="74.3" cy="97.1" r="0.45"/><circle cx="108.7" cy="96.3" r="0.77"/><circle cx="106.9" cy="95.4" r="0.68"/><circle cx="110.5" cy="98.1" r="0.68"/><circle cx="112.3" cy="99.4" r="0.59"/><circle cx="112.6" cy="103.2" r="1.02"/><circle cx="113.5" cy="104.7" r="0.68"/><circle cx="86.4" cy="90.2" r="0.45"/><circle cx="87.3" cy="89.6" r="0.45"/><circle cx="81.1" cy="91.6" r="0.45"/><circle cx="126.6" cy="116.3" r="0.45"/><circle cx="134.6" cy="138.1" r="0.45"/><circle cx="137.3" cy="139.4" r="0.45"/><circle cx="137.5" cy="140.1" r="0.45"/><circle cx="143.0" cy="147.0" r="0.45"/><circle cx="147.5" cy="147.2" r="0.45"/><circle cx="148.9" cy="148.3" r="0.45"/><circle cx="151.4" cy="154.7" r="0.45"/><circle cx="144.1" cy="165.7" r="0.45"/><circle cx="150.8" cy="165.7" r="0.45"/><circle cx="158.7" cy="160.8" r="0.45"/><circle cx="40.9" cy="90.2" r="0.45"/><circle cx="48.0" cy="85.2" r="0.45"/><circle cx="44.3" cy="84.7" r="0.45"/><circle cx="52.5" cy="90.5" r="0.68"/><circle cx="53.6" cy="86.3" r="0.45"/><circle cx="239.0" cy="113.8" r="0.45"/><circle cx="235.8" cy="115.8" r="0.51"/><circle cx="234.6" cy="115.0" r="0.45"/><circle cx="237.6" cy="110.1" r="0.77"/><circle cx="236.3" cy="110.0" r="0.51"/><circle cx="240.3" cy="116.3" r="0.51"/><circle cx="229.6" cy="118.7" r="0.45"/><circle cx="223.0" cy="124.7" r="0.45"/><circle cx="223.9" cy="124.9" r="0.45"/><circle cx="218.9" cy="125.6" r="0.51"/><circle cx="217.6" cy="125.9" r="0.45"/><circle cx="214.0" cy="135.9" r="0.45"/><circle cx="245.6" cy="293.7" r="0.51"/><circle cx="242.1" cy="294.0" r="0.51"/><circle cx="281.0" cy="298.4" r="0.45"/><circle cx="283.5" cy="298.6" r="0.45"/><circle cx="301.5" cy="304.9" r="0.45"/><circle cx="267.6" cy="310.0" r="0.45"/><circle cx="268.8" cy="310.2" r="0.45"/><circle cx="244.2" cy="312.7" r="0.45"/><circle cx="242.1" cy="313.5" r="0.45"/><circle cx="239.9" cy="313.8" r="0.45"/><circle cx="248.8" cy="314.7" r="0.45"/><circle cx="246.2" cy="317.1" r="0.45"/><circle cx="235.5" cy="317.1" r="0.45"/><circle cx="226.5" cy="322.5" r="0.45"/><circle cx="223.3" cy="328.0" r="1.36"/><circle cx="215.8" cy="327.6" r="0.45"/><circle cx="188.2" cy="325.1" r="0.45"/><circle cx="168.5" cy="330.7" r="0.68"/><circle cx="173.0" cy="330.7" r="0.45"/><circle cx="639.8" cy="318.9" r="0.45"/><circle cx="650.5" cy="295.3" r="0.45"/><circle cx="645.5" cy="292.0" r="0.45"/><circle cx="632.4" cy="299.1" r="0.45"/><circle cx="648.7" cy="252.6" r="0.45"/><circle cx="632.8" cy="257.1" r="0.45"/><circle cx="253.3" cy="80.0" r="0.45"/><circle cx="255.1" cy="73.1" r="0.68"/><circle cx="250.6" cy="70.9" r="0.45"/><circle cx="306.0" cy="67.6" r="0.51"/><circle cx="309.5" cy="71.8" r="0.45"/><circle cx="315.8" cy="62.7" r="0.45"/><circle cx="313.1" cy="64.9" r="0.45"/><circle cx="319.3" cy="51.3" r="0.45"/><circle cx="231.0" cy="118.3" r="0.45"/><circle cx="234.0" cy="110.3" r="0.45"/><circle cx="603.2" cy="65.8" r="0.45"/><circle cx="611.2" cy="63.8" r="0.45"/><circle cx="633.5" cy="71.3" r="0.45"/><circle cx="522.8" cy="61.6" r="0.45"/><circle cx="537.1" cy="58.2" r="0.45"/><circle cx="492.5" cy="66.2" r="0.51"/><circle cx="496.1" cy="66.4" r="0.45"/><circle cx="475.2" cy="66.4" r="0.45"/><circle cx="485.4" cy="67.8" r="0.45"/><circle cx="455.9" cy="53.4" r="0.45"/><circle cx="470.2" cy="51.8" r="0.45"/><circle cx="513.0" cy="54.9" r="0.45"/><circle cx="484.5" cy="53.6" r="0.45"/><circle cx="463.9" cy="52.5" r="0.45"/><circle cx="438.1" cy="54.7" r="0.45"/><circle cx="426.8" cy="54.4" r="0.45"/><circle cx="403.2" cy="56.5" r="0.45"/><circle cx="406.8" cy="54.4" r="0.45"/><circle cx="399.1" cy="57.1" r="0.45"/><circle cx="393.4" cy="60.9" r="0.45"/><circle cx="382.9" cy="64.7" r="0.45"/><circle cx="179.6" cy="59.1" r="0.45"/><circle cx="186.4" cy="59.3" r="0.45"/><circle cx="160.5" cy="58.7" r="0.45"/><circle cx="164.1" cy="56.4" r="0.51"/><circle cx="169.4" cy="56.7" r="0.45"/><circle cx="172.1" cy="54.4" r="0.45"/><circle cx="171.2" cy="58.2" r="0.45"/><circle cx="147.1" cy="58.2" r="0.45"/><circle cx="152.5" cy="58.5" r="0.45"/><circle cx="128.4" cy="61.4" r="0.45"/><circle cx="135.5" cy="62.4" r="0.45"/><circle cx="162.3" cy="62.7" r="0.45"/><circle cx="181.0" cy="61.3" r="0.45"/><circle cx="176.5" cy="60.0" r="0.45"/><circle cx="171.2" cy="65.6" r="0.45"/><circle cx="164.1" cy="60.5" r="0.45"/><circle cx="193.5" cy="66.4" r="0.45"/><circle cx="188.2" cy="62.7" r="0.45"/><circle cx="210.5" cy="67.6" r="0.45"/><circle cx="206.9" cy="66.5" r="0.45"/><circle cx="226.5" cy="76.7" r="0.45"/><circle cx="202.4" cy="85.6" r="0.45"/><circle cx="205.6" cy="86.9" r="0.45"/><circle cx="206.9" cy="87.6" r="0.45"/><circle cx="200.3" cy="86.9" r="0.51"/><circle cx="210.6" cy="89.6" r="0.45"/><circle cx="207.4" cy="97.6" r="0.45"/><circle cx="206.0" cy="91.1" r="0.45"/><circle cx="206.4" cy="103.8" r="0.45"/><circle cx="189.9" cy="72.7" r="0.45"/><circle cx="182.8" cy="65.4" r="0.45"/><circle cx="169.4" cy="73.8" r="0.45"/><circle cx="174.8" cy="74.0" r="0.45"/><circle cx="181.0" cy="75.3" r="0.45"/><circle cx="166.0" cy="76.5" r="0.45"/><circle cx="209.6" cy="64.2" r="0.45"/><circle cx="214.0" cy="69.1" r="0.45"/><circle cx="233.8" cy="90.3" r="0.45"/><circle cx="235.5" cy="95.2" r="0.45"/><circle cx="239.0" cy="97.4" r="0.45"/><circle cx="248.7" cy="106.1" r="0.45"/><circle cx="36.4" cy="274.4" r="0.45"/><circle cx="33.7" cy="279.8" r="0.45"/><circle cx="654.9" cy="261.9" r="0.45"/><circle cx="660.3" cy="265.9" r="0.45"/><circle cx="662.1" cy="265.7" r="0.45"/><circle cx="648.9" cy="285.1" r="0.45"/><circle cx="657.6" cy="273.9" r="0.45"/></g>
<circle cx="129.5" cy="111.6" r="3.2" fill="#CDAD00" stroke="#222" stroke-width="0.6"/><circle cx="125.1" cy="111.1" r="3.2" fill="#8B3E2F" stroke="#222" stroke-width="0.6"/><circle cx="129.6" cy="132" r="3.2" fill="#008B00" stroke="#222" stroke-width="0.6"/><circle cx="134.6" cy="137.5" r="3.2" fill="#8B3E2F" stroke="#222" stroke-width="0.6"/><circle cx="139.1" cy="139.6" r="3.2" fill="#8B3E2F" stroke="#222" stroke-width="0.6"/><circle cx="175.2" cy="149.6" r="3.2" fill="#008B00" stroke="#222" stroke-width="0.6"/><circle cx="204.4" cy="154.3" r="3.2" fill="#008B00" stroke="#222" stroke-width="0.6"/><circle cx="218" cy="125.5" r="3.2" fill="#8B3E2F" stroke="#222" stroke-width="0.6"/><circle cx="222.7" cy="123.9" r="3.2" fill="#8B3E2F" stroke="#222" stroke-width="0.6"/><circle cx="223.1" cy="119.9" r="3.2" fill="#8B3E2F" stroke="#222" stroke-width="0.6"/><circle cx="227.3" cy="119.2" r="3.2" fill="#CDAD00" stroke="#222" stroke-width="0.6"/><circle cx="235" cy="119.2" r="3.2" fill="#8B3E2F" stroke="#222" stroke-width="0.6"/><circle cx="244.9" cy="107.5" r="3.2" fill="#8B3E2F" stroke="#222" stroke-width="0.6"/><circle cx="202" cy="73.6" r="3.2" fill="#8B3E2F" stroke="#222" stroke-width="0.6"/><circle cx="370.1" cy="56.4" r="3.2" fill="#8B3E2F" stroke="#222" stroke-width="0.6"/><circle cx="257.2" cy="82.6" r="3.2" fill="#008B00" stroke="#222" stroke-width="0.6"/><circle cx="255.5" cy="82.0" r="3.2" fill="#008B00" stroke="#222" stroke-width="0.6"/><circle cx="317.6" cy="79.4" r="3.2" fill="#8B3E2F" stroke="#222" stroke-width="0.6"/><circle cx="337.1" cy="87.2" r="3.2" fill="#8B3E2F" stroke="#222" stroke-width="0.6"/><circle cx="358.5" cy="90.4" r="3.2" fill="#8B3E2F" stroke="#222" stroke-width="0.6"/><circle cx="331" cy="103.3" r="3.2" fill="#8B3E2F" stroke="#222" stroke-width="0.6"/><circle cx="340.7" cy="101.5" r="3.2" fill="#8B3E2F" stroke="#222" stroke-width="0.6"/><circle cx="339.9" cy="108.6" r="3.2" fill="#8B3E2F" stroke="#222" stroke-width="0.6"/><circle cx="341.1" cy="111.5" r="3.2" fill="#8B3E2F" stroke="#222" stroke-width="0.6"/><circle cx="362.4" cy="101.5" r="3.2" fill="#8B3E2F" stroke="#222" stroke-width="0.6"/><circle cx="367.5" cy="98.4" r="3.2" fill="#008B00" stroke="#222" stroke-width="0.6"/><circle cx="367.2" cy="100.9" r="3.2" fill="#CDAD00" stroke="#222" stroke-width="0.6"/><circle cx="378.2" cy="97.4" r="3.2" fill="#008B00" stroke="#222" stroke-width="0.6"/><circle cx="355.8" cy="111.7" r="3.2" fill="#8B3E2F" stroke="#222" stroke-width="0.6"/><circle cx="356.3" cy="108.1" r="3.2" fill="#008B00" stroke="#222" stroke-width="0.6"/><circle cx="333.1" cy="124.1" r="3.2" fill="#8B3E2F" stroke="#222" stroke-width="0.6"/><circle cx="354.9" cy="128" r="3.2" fill="#008B00" stroke="#222" stroke-width="0.6"/><circle cx="354.7" cy="122.9" r="3.2" fill="#CDAD00" stroke="#222" stroke-width="0.6"/><circle cx="353.2" cy="128" r="3.2" fill="#CDAD00" stroke="#222" stroke-width="0.6"/><circle cx="350.8" cy="131.9" r="3.2" fill="#008B00" stroke="#222" stroke-width="0.6"/><circle cx="364.4" cy="123.9" r="3.2" fill="#8B3E2F" stroke="#222" stroke-width="0.6"/><circle cx="375.2" cy="122.9" r="3.2" fill="#8B3E2F" stroke="#222" stroke-width="0.6"/><circle cx="395.8" cy="135.9" r="3.2" fill="#008B00" stroke="#222" stroke-width="0.6"/><circle cx="407.8" cy="136.9" r="3.2" fill="#008B00" stroke="#222" stroke-width="0.6"/><circle cx="418.3" cy="158.1" r="3.2" fill="#008B00" stroke="#222" stroke-width="0.6"/><circle cx="381.3" cy="258.5" r="3.2" fill="#8B3E2F" stroke="#222" stroke-width="0.6"/><circle cx="381.3" cy="262.1" r="3.2" fill="#8B3E2F" stroke="#222" stroke-width="0.6"/><circle cx="214.4" cy="227.6" r="3.2" fill="#8B3E2F" stroke="#222" stroke-width="0.6"/><circle cx="277.7" cy="236.1" r="3.2" fill="#8B3E2F" stroke="#222" stroke-width="0.6"/><circle cx="220.8" cy="260.7" r="3.2" fill="#8B3E2F" stroke="#222" stroke-width="0.6"/><circle cx="218.3" cy="271.5" r="3.2" fill="#8B3E2F" stroke="#222" stroke-width="0.6"/><circle cx="217" cy="276.2" r="3.2" fill="#8B3E2F" stroke="#222" stroke-width="0.6"/><circle cx="229.1" cy="301.2" r="3.2" fill="#8B3E2F" stroke="#222" stroke-width="0.6"/><circle cx="564" cy="133.9" r="3.2" fill="#8B3E2F" stroke="#222" stroke-width="0.6"/><circle cx="574.2" cy="136.6" r="3.2" fill="#8B3E2F" stroke="#222" stroke-width="0.6"/><circle cx="581.6" cy="141.4" r="3.2" fill="#CDAD00" stroke="#222" stroke-width="0.6"/><circle cx="581.7" cy="142.7" r="3.2" fill="#8B3E2F" stroke="#222" stroke-width="0.6"/><circle cx="588.9" cy="137.6" r="3.2" fill="#8B3E2F" stroke="#222" stroke-width="0.6"/><circle cx="592.6" cy="136.6" r="3.2" fill="#008B00" stroke="#222" stroke-width="0.6"/><circle cx="597.7" cy="136.6" r="3.2" fill="#8B3E2F" stroke="#222" stroke-width="0.6"/><circle cx="601.6" cy="129.4" r="3.2" fill="#8B3E2F" stroke="#222" stroke-width="0.6"/><circle cx="600.5" cy="122.3" r="3.2" fill="#8B3E2F" stroke="#222" stroke-width="0.6"/><circle cx="606.3" cy="122.1" r="3.2" fill="#8B3E2F" stroke="#222" stroke-width="0.6"/><circle cx="563.8" cy="150.7" r="3.2" fill="#8B3E2F" stroke="#222" stroke-width="0.6"/><circle cx="524.5" cy="185" r="3.2" fill="#008B00" stroke="#222" stroke-width="0.6"/><circle cx="553.9" cy="253.1" r="3.2" fill="#008B00" stroke="#222" stroke-width="0.6"/><circle cx="609.5" cy="230" r="3.2" fill="#008B00" stroke="#222" stroke-width="0.6"/><circle cx="610.5" cy="233.7" r="3.2" fill="#008B00" stroke="#222" stroke-width="0.6"/><circle cx="622.8" cy="249.7" r="3.2" fill="#008B00" stroke="#222" stroke-width="0.6"/><circle cx="622.2" cy="255.2" r="3.2" fill="#8B3E2F" stroke="#222" stroke-width="0.6"/><circle cx="619.3" cy="261.3" r="3.2" fill="#008B00" stroke="#222" stroke-width="0.6"/><circle cx="620.5" cy="259" r="3.2" fill="#008B00" stroke="#222" stroke-width="0.6"/><circle cx="606.4" cy="270.5" r="3.2" fill="#8B3E2F" stroke="#222" stroke-width="0.6"/><circle cx="611.5" cy="277.3" r="3.2" fill="#8B3E2F" stroke="#222" stroke-width="0.6"/><circle cx="613" cy="278.3" r="3.2" fill="#8B3E2F" stroke="#222" stroke-width="0.6"/><circle cx="661" cy="265.8" r="3.2" fill="#8B3E2F" stroke="#222" stroke-width="0.6"/><circle cx="653.8" cy="275" r="3.2" fill="#8B3E2F" stroke="#222" stroke-width="0.6"/><circle cx="653.4" cy="283.2" r="3.2" fill="#8B3E2F" stroke="#222" stroke-width="0.6"/>
</g>
<rect x="46.5" y="27.5" width="34.6" height="7.0" fill="#000"/><rect x="46.5" y="341.5" width="34.6" height="7.0" fill="#000"/><rect x="81.1" y="27.5" width="44.6" height="7.0" fill="#fff"/><rect x="81.1" y="341.5" width="44.6" height="7.0" fill="#fff"/><rect x="125.7" y="27.5" width="44.6" height="7.0" fill="#000"/><rect x="125.7" y="341.5" width="44.6" height="7.0" fill="#000"/><rect x="170.3" y="27.5" width="44.6" height="7.0" fill="#fff"/><rect x="170.3" y="341.5" width="44.6" height="7.0" fill="#fff"/><rect x="214.9" y="27.5" width="44.6" height="7.0" fill="#000"/><rect x="214.9" y="341.5" width="44.6" height="7.0" fill="#000"/><rect x="259.6" y="27.5" width="44.6" height="7.0" fill="#fff"/><rect x="259.6" y="341.5" width="44.6" height="7.0" fill="#fff"/><rect x="304.2" y="27.5" width="44.6" height="7.0" fill="#000"/><rect x="304.2" y="341.5" width="44.6" height="7.0" fill="#000"/><rect x="348.8" y="27.5" width="44.6" height="7.0" fill="#fff"/><rect x="348.8" y="341.5" width="44.6" height="7.0" fill="#fff"/><rect x="393.4" y="27.5" width="44.6" height="7.0" fill="#000"/><rect x="393.4" y="341.5" width="44.6" height="7.0" fill="#000"/><rect x="438.1" y="27.5" width="44.6" height="7.0" fill="#fff"/><rect x="438.1" y="341.5" width="44.6" height="7.0" fill="#fff"/><rect x="482.7" y="27.5" width="44.6" height="7.0" fill="#000"/><rect x="482.7" y="341.5" width="44.6" height="7.0" fill="#000"/><rect x="527.3" y="27.5" width="44.6" height="7.0" fill="#fff"/><rect x="527.3" y="341.5" width="44.6" height="7.0" fill="#fff"/><rect x="571.9" y="27.5" width="44.6" height="7.0" fill="#000"/><rect x="571.9" y="341.5" width="44.6" height="7.0" fill="#000"/><rect x="616.5" y="27.5" width="44.6" height="7.0" fill="#fff"/><rect x="616.5" y="341.5" width="44.6" height="7.0" fill="#fff"/><rect x="661.2" y="27.5" width="11.3" height="7.0" fill="#000"/><rect x="661.2" y="341.5" width="11.3" height="7.0" fill="#000"/><rect x="39.5" y="34.5" width="7.0" height="29.1" fill="#000"/><rect x="672.5" y="34.5" width="7.0" height="29.1" fill="#000"/><rect x="39.5" y="63.6" width="7.0" height="45.4" fill="#fff"/><rect x="672.5" y="63.6" width="7.0" height="45.4" fill="#fff"/><rect x="39.5" y="109.1" width="7.0" height="45.4" fill="#000"/><rect x="672.5" y="109.1" width="7.0" height="45.4" fill="#000"/><rect x="39.5" y="154.5" width="7.0" height="45.4" fill="#fff"/><rect x="672.5" y="154.5" width="7.0" height="45.4" fill="#fff"/><rect x="39.5" y="199.9" width="7.0" height="45.4" fill="#000"/><rect x="672.5" y="199.9" width="7.0" height="45.4" fill="#000"/><rect x="39.5" y="245.3" width="7.0" height="45.4" fill="#fff"/><rect x="672.5" y="245.3" width="7.0" height="45.4" fill="#fff"/><rect x="39.5" y="290.8" width="7.0" height="45.4" fill="#000"/><rect x="672.5" y="290.8" width="7.0" height="45.4" fill="#000"/><rect x="39.5" y="336.2" width="7.0" height="5.3" fill="#fff"/><rect x="672.5" y="336.2" width="7.0" height="5.3" fill="#fff"/><rect x="39.5" y="27.5" width="640.0" height="321.0" fill="none" stroke="#000" stroke-width="1"/><rect x="46.5" y="34.5" width="626.0" height="307.0" fill="none" stroke="#000" stroke-width="1"/><rect x="39.5" y="27.5" width="7" height="7" fill="#fff" stroke="#000" stroke-width="1"/><rect x="672.5" y="27.5" width="7" height="7" fill="#fff" stroke="#000" stroke-width="1"/><rect x="39.5" y="341.5" width="7" height="7" fill="#fff" stroke="#000" stroke-width="1"/><rect x="672.5" y="341.5" width="7" height="7" fill="#fff" stroke="#000" stroke-width="1"/>
<g font-size="11.3" fill="#1a1a1a"><text transform="translate(81.1,24.7) scale(1,1.1)" text-anchor="middle">-150</text><text transform="translate(125.7,24.7) scale(1,1.1)" text-anchor="middle">-125</text><text transform="translate(170.3,24.7) scale(1,1.1)" text-anchor="middle">-100</text><text transform="translate(214.9,24.7) scale(1,1.1)" text-anchor="middle">-75</text><text transform="translate(259.6,24.7) scale(1,1.1)" text-anchor="middle">-50</text><text transform="translate(304.2,24.7) scale(1,1.1)" text-anchor="middle">-25</text><text transform="translate(348.8,24.7) scale(1,1.1)" text-anchor="middle">0</text><text transform="translate(393.4,24.7) scale(1,1.1)" text-anchor="middle">25</text><text transform="translate(438.1,24.7) scale(1,1.1)" text-anchor="middle">50</text><text transform="translate(482.7,24.7) scale(1,1.1)" text-anchor="middle">75</text><text transform="translate(527.3,24.7) scale(1,1.1)" text-anchor="middle">100</text><text transform="translate(571.9,24.7) scale(1,1.1)" text-anchor="middle">125</text><text transform="translate(616.5,24.7) scale(1,1.1)" text-anchor="middle">150</text><text transform="translate(661.2,24.7) scale(1,1.1)" text-anchor="middle">175</text><text transform="translate(35.8,67.7) scale(1,1.1)" text-anchor="end" font-size="10.7">75</text><text transform="translate(35.8,113.2) scale(1,1.1)" text-anchor="end" font-size="10.7">50</text><text transform="translate(35.8,158.6) scale(1,1.1)" text-anchor="end" font-size="10.7">25</text><text transform="translate(35.8,204.0) scale(1,1.1)" text-anchor="end" font-size="10.7">0</text><text transform="translate(35.8,249.4) scale(1,1.1)" text-anchor="end" font-size="10.7">-25</text><text transform="translate(35.8,294.9) scale(1,1.1)" text-anchor="end" font-size="10.7">-50</text><text transform="translate(35.8,340.3) scale(1,1.1)" text-anchor="end" font-size="10.7">-75</text></g>
<!-- north arrow -->
<path d="M77.8,236.1 L64.7,270.5 L77.8,257.4 Z" fill="#d9d9d9"/>
<path d="M77.8,236.1 L64.7,270.5 L77.8,257.4 L90.9,270.5 Z" fill="none" stroke="#000" stroke-width="1.4" stroke-linejoin="miter"/>
<!-- scale bar -->
<rect x="71.2" y="312.8" width="40.5" height="9.8" fill="#000"/>
<rect x="111.7" y="312.8" width="40.1" height="9.8" fill="#fff" stroke="#000" stroke-width="0.8"/>
<rect x="71.2" y="312.8" width="80.6" height="9.8" fill="none" stroke="#000" stroke-width="0.8"/>
<g font-size="13.1" fill="#1a1a1a"><text transform="translate(71.7,303.5) scale(1,1.08)" text-anchor="middle">0</text><text transform="translate(111.5,303.5) scale(1,1.08)" text-anchor="middle">2,500</text><text transform="translate(135.6,303.5) scale(1,1.08)">5,000 km</text></g>
<!-- legend -->
<rect x="297" y="283" width="243" height="23" fill="#fff"/>
<circle cx="314.3" cy="294.3" r="4.9" fill="#8B3E2F" stroke="#333" stroke-width="0.6"/>
<circle cx="375.5" cy="294.3" r="4.9" fill="#CDAD00" stroke="#333" stroke-width="0.6"/>
<circle cx="452.4" cy="294.3" r="4.9" fill="#008B00" stroke="#333" stroke-width="0.6"/>
<g font-size="15" fill="#1a1a1a"><text transform="translate(331.0,300.9) scale(1,1.08)">Kelp</text><text transform="translate(391.8,300.9) scale(1,1.08)">Fucoid</text><text transform="translate(469.2,300.9) scale(1,1.08)">Seagrass</text></g>

<!-- Panel B -->
<text transform="translate(18.6,382.5) scale(1,1.1)" font-size="17.4" fill="#000">B)</text>
<rect x="61.7" y="378.6" width="280.4" height="197.8" fill="#fff"/>
<line x1="105.4" y1="378.6" x2="105.4" y2="576.4" stroke="#EBEBEB" stroke-width="0.6"/><line x1="167.8" y1="378.6" x2="167.8" y2="576.4" stroke="#EBEBEB" stroke-width="0.6"/><line x1="230.1" y1="378.6" x2="230.1" y2="576.4" stroke="#EBEBEB" stroke-width="0.6"/><line x1="292.4" y1="378.6" x2="292.4" y2="576.4" stroke="#EBEBEB" stroke-width="0.6"/><line x1="61.7" y1="558.1" x2="342.1" y2="558.1" stroke="#EBEBEB" stroke-width="0.6"/><line x1="61.7" y1="505.9" x2="342.1" y2="505.9" stroke="#EBEBEB" stroke-width="0.6"/><line x1="61.7" y1="453.6" x2="342.1" y2="453.6" stroke="#EBEBEB" stroke-width="0.6"/><line x1="61.7" y1="401.4" x2="342.1" y2="401.4" stroke="#EBEBEB" stroke-width="0.6"/><line x1="74.3" y1="378.6" x2="74.3" y2="576.4" stroke="#EBEBEB" stroke-width="1.1"/><line x1="136.6" y1="378.6" x2="136.6" y2="576.4" stroke="#EBEBEB" stroke-width="1.1"/><line x1="198.9" y1="378.6" x2="198.9" y2="576.4" stroke="#EBEBEB" stroke-width="1.1"/><line x1="261.2" y1="378.6" x2="261.2" y2="576.4" stroke="#EBEBEB" stroke-width="1.1"/><line x1="323.5" y1="378.6" x2="323.5" y2="576.4" stroke="#EBEBEB" stroke-width="1.1"/><line x1="61.7" y1="532.0" x2="342.1" y2="532.0" stroke="#EBEBEB" stroke-width="1.1"/><line x1="61.7" y1="479.8" x2="342.1" y2="479.8" stroke="#EBEBEB" stroke-width="1.1"/><line x1="61.7" y1="427.5" x2="342.1" y2="427.5" stroke="#EBEBEB" stroke-width="1.1"/>
<g clip-path="url(#pb)">
<circle cx="77.3" cy="518.8" r="5.4" fill="#8B3E2F" stroke="#000" stroke-width="0.9"/><circle cx="77.3" cy="526.8" r="5.4" fill="#8B3E2F" stroke="#000" stroke-width="0.9"/><circle cx="107.8" cy="515.4" r="5.4" fill="#8B3E2F" stroke="#000" stroke-width="0.9"/><circle cx="107.8" cy="525.8" r="5.4" fill="#8B3E2F" stroke="#000" stroke-width="0.9"/><circle cx="107.8" cy="531.8" r="5.4" fill="#8B3E2F" stroke="#000" stroke-width="0.9"/><circle cx="107.8" cy="541.4" r="5.4" fill="#8B3E2F" stroke="#000" stroke-width="0.9"/><circle cx="107.8" cy="552.7" r="5.4" fill="#8B3E2F" stroke="#000" stroke-width="0.9"/><circle cx="117.6" cy="525.5" r="5.4" fill="#8B3E2F" stroke="#000" stroke-width="0.9"/><circle cx="117.6" cy="532.3" r="5.4" fill="#8B3E2F" stroke="#000" stroke-width="0.9"/><circle cx="122.7" cy="505.7" r="5.4" fill="#008B00" stroke="#000" stroke-width="0.9"/><circle cx="130.6" cy="510.8" r="5.4" fill="#8B3E2F" stroke="#000" stroke-width="0.9"/><circle cx="136.3" cy="515.9" r="5.4" fill="#8B3E2F" stroke="#000" stroke-width="0.9"/><circle cx="135.7" cy="532.3" r="5.4" fill="#8B3E2F" stroke="#000" stroke-width="0.9"/><circle cx="147.5" cy="492.8" r="5.4" fill="#008B00" stroke="#000" stroke-width="0.9"/><circle cx="147.5" cy="505.5" r="5.4" fill="#008B00" stroke="#000" stroke-width="0.9"/><circle cx="153.6" cy="483" r="5.4" fill="#CDAD00" stroke="#000" stroke-width="0.9"/><circle cx="153.6" cy="488" r="5.4" fill="#CDAD00" stroke="#000" stroke-width="0.9"/><circle cx="153.6" cy="493" r="5.4" fill="#CDAD00" stroke="#000" stroke-width="0.9"/><circle cx="153.6" cy="500" r="5.4" fill="#CDAD00" stroke="#000" stroke-width="0.9"/><circle cx="154.3" cy="509.8" r="5.4" fill="#8B3E2F" stroke="#000" stroke-width="0.9"/><circle cx="154.3" cy="515.3" r="5.4" fill="#8B3E2F" stroke="#000" stroke-width="0.9"/><circle cx="154.3" cy="521" r="5.4" fill="#8B3E2F" stroke="#000" stroke-width="0.9"/><circle cx="154.3" cy="525.8" r="5.4" fill="#8B3E2F" stroke="#000" stroke-width="0.9"/><circle cx="154.3" cy="531.7" r="5.4" fill="#8B3E2F" stroke="#000" stroke-width="0.9"/><circle cx="154.3" cy="542.2" r="5.4" fill="#8B3E2F" stroke="#000" stroke-width="0.9"/><circle cx="154.3" cy="558" r="5.4" fill="#8B3E2F" stroke="#000" stroke-width="0.9"/><circle cx="166.6" cy="438.1" r="5.4" fill="#008B00" stroke="#000" stroke-width="0.9"/><circle cx="174.5" cy="487" r="5.4" fill="#CDAD00" stroke="#000" stroke-width="0.9"/><circle cx="166.5" cy="479.5" r="5.4" fill="#8B3E2F" stroke="#000" stroke-width="0.9"/><circle cx="172.5" cy="479.8" r="5.4" fill="#8B3E2F" stroke="#000" stroke-width="0.9"/><circle cx="166.5" cy="490" r="5.4" fill="#8B3E2F" stroke="#000" stroke-width="0.9"/><circle cx="172.5" cy="494.3" r="5.4" fill="#8B3E2F" stroke="#000" stroke-width="0.9"/><circle cx="171.3" cy="504.7" r="5.4" fill="#8B3E2F" stroke="#000" stroke-width="0.9"/><circle cx="171.5" cy="515.3" r="5.4" fill="#8B3E2F" stroke="#000" stroke-width="0.9"/><circle cx="165.6" cy="525.8" r="5.4" fill="#8B3E2F" stroke="#000" stroke-width="0.9"/><circle cx="171.5" cy="525.8" r="5.4" fill="#8B3E2F" stroke="#000" stroke-width="0.9"/><circle cx="171.5" cy="536.3" r="5.4" fill="#8B3E2F" stroke="#000" stroke-width="0.9"/><circle cx="171.5" cy="542.2" r="5.4" fill="#8B3E2F" stroke="#000" stroke-width="0.9"/><circle cx="172.2" cy="558" r="5.4" fill="#8B3E2F" stroke="#000" stroke-width="0.9"/><circle cx="184.8" cy="453.6" r="5.4" fill="#CDAD00" stroke="#000" stroke-width="0.9"/><circle cx="184.8" cy="464.3" r="5.4" fill="#CDAD00" stroke="#000" stroke-width="0.9"/><circle cx="185" cy="490" r="5.4" fill="#8B3E2F" stroke="#000" stroke-width="0.9"/><circle cx="185" cy="494.5" r="5.4" fill="#8B3E2F" stroke="#000" stroke-width="0.9"/><circle cx="185" cy="505" r="5.4" fill="#8B3E2F" stroke="#000" stroke-width="0.9"/><circle cx="185" cy="510" r="5.4" fill="#8B3E2F" stroke="#000" stroke-width="0.9"/><circle cx="185" cy="484.5" r="5.4" fill="#CDAD00" stroke="#000" stroke-width="0.9"/><circle cx="185" cy="500.3" r="5.4" fill="#CDAD00" stroke="#000" stroke-width="0.9"/><circle cx="184.7" cy="525.8" r="5.4" fill="#8B3E2F" stroke="#000" stroke-width="0.9"/><circle cx="184.7" cy="531.7" r="5.4" fill="#8B3E2F" stroke="#000" stroke-width="0.9"/><circle cx="184.7" cy="542.2" r="5.4" fill="#8B3E2F" stroke="#000" stroke-width="0.9"/><circle cx="188.6" cy="537.6" r="5.4" fill="#8B3E2F" stroke="#000" stroke-width="0.9"/><circle cx="190" cy="542.9" r="5.4" fill="#8B3E2F" stroke="#000" stroke-width="0.9"/><circle cx="192.6" cy="531" r="5.4" fill="#8B3E2F" stroke="#000" stroke-width="0.9"/><circle cx="192.6" cy="536.3" r="5.4" fill="#8B3E2F" stroke="#000" stroke-width="0.9"/><circle cx="196.5" cy="531.7" r="5.4" fill="#8B3E2F" stroke="#000" stroke-width="0.9"/><circle cx="184.7" cy="515.9" r="5.4" fill="#CDAD00" stroke="#000" stroke-width="0.9"/><circle cx="193.7" cy="479.5" r="5.4" fill="#8B3E2F" stroke="#000" stroke-width="0.9"/><circle cx="192" cy="487" r="5.4" fill="#8B3E2F" stroke="#000" stroke-width="0.9"/><circle cx="193" cy="494" r="5.4" fill="#8B3E2F" stroke="#000" stroke-width="0.9"/><circle cx="193.7" cy="510.9" r="5.4" fill="#8B3E2F" stroke="#000" stroke-width="0.9"/><circle cx="200.9" cy="442.6" r="5.4" fill="#008B00" stroke="#000" stroke-width="0.9"/><circle cx="200.9" cy="447.8" r="5.4" fill="#CDAD00" stroke="#000" stroke-width="0.9"/><circle cx="200.9" cy="459.6" r="5.4" fill="#008B00" stroke="#000" stroke-width="0.9"/><circle cx="195.5" cy="479.2" r="5.4" fill="#8B3E2F" stroke="#000" stroke-width="0.9"/><circle cx="195" cy="510.4" r="5.4" fill="#8B3E2F" stroke="#000" stroke-width="0.9"/><circle cx="203.5" cy="495.2" r="5.4" fill="#8B3E2F" stroke="#000" stroke-width="0.9"/><circle cx="203.5" cy="511" r="5.4" fill="#8B3E2F" stroke="#000" stroke-width="0.9"/><circle cx="205.7" cy="512.6" r="5.4" fill="#8B3E2F" stroke="#000" stroke-width="0.9"/><circle cx="206.3" cy="517.2" r="5.4" fill="#8B3E2F" stroke="#000" stroke-width="0.9"/><circle cx="207" cy="521.2" r="5.4" fill="#8B3E2F" stroke="#000" stroke-width="0.9"/><circle cx="206.3" cy="522.3" r="5.4" fill="#8B3E2F" stroke="#000" stroke-width="0.9"/><circle cx="198.5" cy="486.7" r="5.4" fill="#008B00" stroke="#000" stroke-width="0.9"/><circle cx="205.2" cy="485.5" r="5.4" fill="#008B00" stroke="#000" stroke-width="0.9"/><circle cx="206.3" cy="479.3" r="5.4" fill="#008B00" stroke="#000" stroke-width="0.9"/><circle cx="206.9" cy="505.9" r="5.4" fill="#008B00" stroke="#000" stroke-width="0.9"/><circle cx="215.4" cy="396.6" r="5.4" fill="#008B00" stroke="#000" stroke-width="0.9"/><circle cx="213.8" cy="402.2" r="5.4" fill="#008B00" stroke="#000" stroke-width="0.9"/><circle cx="215.4" cy="419.2" r="5.4" fill="#008B00" stroke="#000" stroke-width="0.9"/><circle cx="215.4" cy="424" r="5.4" fill="#008B00" stroke="#000" stroke-width="0.9"/><circle cx="213.8" cy="430" r="5.4" fill="#008B00" stroke="#000" stroke-width="0.9"/><circle cx="215.4" cy="443.4" r="5.4" fill="#008B00" stroke="#000" stroke-width="0.9"/><circle cx="213.8" cy="446.7" r="5.4" fill="#008B00" stroke="#000" stroke-width="0.9"/><circle cx="215.4" cy="472.8" r="5.4" fill="#8B3E2F" stroke="#000" stroke-width="0.9"/><circle cx="215.4" cy="479" r="5.4" fill="#8B3E2F" stroke="#000" stroke-width="0.9"/><circle cx="215.4" cy="489" r="5.4" fill="#8B3E2F" stroke="#000" stroke-width="0.9"/><circle cx="217" cy="496.3" r="5.4" fill="#8B3E2F" stroke="#000" stroke-width="0.9"/><circle cx="215.4" cy="502.5" r="5.4" fill="#8B3E2F" stroke="#000" stroke-width="0.9"/><circle cx="215.4" cy="511" r="5.4" fill="#8B3E2F" stroke="#000" stroke-width="0.9"/><circle cx="216" cy="516.7" r="5.4" fill="#8B3E2F" stroke="#000" stroke-width="0.9"/><circle cx="216.9" cy="517.2" r="5.4" fill="#8B3E2F" stroke="#000" stroke-width="0.9"/><circle cx="220.2" cy="531.7" r="5.4" fill="#8B3E2F" stroke="#000" stroke-width="0.9"/><circle cx="225" cy="469" r="5.4" fill="#CDAD00" stroke="#000" stroke-width="0.9"/><circle cx="226" cy="489.5" r="5.4" fill="#8B3E2F" stroke="#000" stroke-width="0.9"/><circle cx="220" cy="532.1" r="5.4" fill="#8B3E2F" stroke="#000" stroke-width="0.9"/><circle cx="237" cy="454" r="5.4" fill="#008B00" stroke="#000" stroke-width="0.9"/><circle cx="237" cy="448.5" r="5.4" fill="#008B00" stroke="#000" stroke-width="0.9"/><circle cx="237" cy="442.8" r="5.4" fill="#008B00" stroke="#000" stroke-width="0.9"/><circle cx="246" cy="464.2" r="5.4" fill="#008B00" stroke="#000" stroke-width="0.9"/><circle cx="239.5" cy="510.6" r="5.4" fill="#8B3E2F" stroke="#000" stroke-width="0.9"/><circle cx="239.3" cy="532.1" r="5.4" fill="#8B3E2F" stroke="#000" stroke-width="0.9"/><circle cx="252.1" cy="387.4" r="5.4" fill="#008B00" stroke="#000" stroke-width="0.9"/><circle cx="252.1" cy="423.7" r="5.4" fill="#008B00" stroke="#000" stroke-width="0.9"/><circle cx="252.1" cy="414.8" r="5.4" fill="#008B00" stroke="#000" stroke-width="0.9"/><circle cx="252.1" cy="436.5" r="5.4" fill="#008B00" stroke="#000" stroke-width="0.9"/><circle cx="297.8" cy="442.9" r="5.4" fill="#008B00" stroke="#000" stroke-width="0.9"/>
<path d="M77.1,546.0L80.8,544.5L84.4,542.9L88.1,541.4L91.8,539.9L95.5,538.4L99.1,537.0L102.8,535.6L106.5,534.0L110.1,532.5L113.8,531.0L117.5,529.4L121.2,527.9L124.8,526.2L128.5,524.5L132.2,522.9L135.8,521.2L139.5,519.5L143.2,517.9L146.9,516.1L150.5,514.4L154.2,512.6L157.9,510.8L161.5,509.1L165.2,507.3L168.9,505.5L172.6,503.6L176.2,501.8L179.9,499.9L183.6,498.1L187.2,496.2L190.9,494.3L194.6,492.3L198.3,490.4L201.9,488.5L205.6,486.5L209.3,484.6L213.0,482.6L216.6,480.6L220.3,478.6L224.0,476.6L227.6,474.6L231.3,472.5L235.0,470.5L238.7,468.5L242.3,466.4L246.0,464.3L249.7,462.2L253.3,460.1L257.0,458.0L260.7,455.9L264.4,453.8L268.0,451.6L271.7,449.4L275.4,447.1L279.0,444.9L282.7,442.6L286.4,440.3L290.1,437.9L293.7,435.6L297.4,433.3L297.4,456.3L293.7,457.7L290.1,459.1L286.4,460.5L282.7,461.9L279.0,463.3L275.4,464.8L271.7,466.3L268.0,467.7L264.4,469.2L260.7,470.8L257.0,472.5L253.3,474.1L249.7,475.7L246.0,477.3L242.3,479.0L238.7,480.6L235.0,482.2L231.3,484.0L227.6,485.7L224.0,487.4L220.3,489.1L216.6,490.8L213.0,492.5L209.3,494.2L205.6,496.0L201.9,497.8L198.3,499.5L194.6,501.3L190.9,503.1L187.2,504.9L183.6,506.7L179.9,508.6L176.2,510.5L172.6,512.3L168.9,514.2L165.2,516.1L161.5,518.0L157.9,520.0L154.2,521.9L150.5,523.9L146.9,525.8L143.2,527.8L139.5,529.9L135.8,531.9L132.2,534.0L128.5,536.0L124.8,538.1L121.2,540.1L117.5,542.3L113.8,544.5L110.1,546.7L106.5,548.8L102.8,551.0L99.1,553.3L95.5,555.6L91.8,557.9L88.1,560.0L84.4,562.2L80.8,564.4L77.1,566.6Z" fill="#999" fill-opacity="0.4"/>
<line x1="77.1" y1="556.3" x2="297.4" y2="444.8" stroke="#3366FF" stroke-width="2.2"/>
</g>
<rect x="61.7" y="378.6" width="280.4" height="197.8" fill="none" stroke="#333" stroke-width="1.1"/>
<line x1="74.3" y1="576.4" x2="74.3" y2="580.0" stroke="#333" stroke-width="1"/><line x1="136.6" y1="576.4" x2="136.6" y2="580.0" stroke="#333" stroke-width="1"/><line x1="198.9" y1="576.4" x2="198.9" y2="580.0" stroke="#333" stroke-width="1"/><line x1="261.2" y1="576.4" x2="261.2" y2="580.0" stroke="#333" stroke-width="1"/><line x1="323.5" y1="576.4" x2="323.5" y2="580.0" stroke="#333" stroke-width="1"/><line x1="58.1" y1="532.0" x2="61.7" y2="532.0" stroke="#333" stroke-width="1"/><line x1="58.1" y1="479.8" x2="61.7" y2="479.8" stroke="#333" stroke-width="1"/><line x1="58.1" y1="427.5" x2="61.7" y2="427.5" stroke="#333" stroke-width="1"/>
<g font-size="15" fill="#4D4D4D"><text transform="translate(74.3,596.2) scale(1,1.145)" text-anchor="middle">80</text><text transform="translate(136.6,596.2) scale(1,1.145)" text-anchor="middle">60</text><text transform="translate(198.9,596.2) scale(1,1.145)" text-anchor="middle">40</text><text transform="translate(261.2,596.2) scale(1,1.145)" text-anchor="middle">20</text><text transform="translate(323.5,596.2) scale(1,1.145)" text-anchor="middle">0</text><text transform="translate(54.3,539.0) scale(1,1.145)" text-anchor="end">20</text><text transform="translate(54.3,486.8) scale(1,1.145)" text-anchor="end">30</text><text transform="translate(54.3,434.5) scale(1,1.145)" text-anchor="end">40</text></g>
<g font-size="14.2" fill="#000"><text x="76" y="406" font-style="italic">R</text><text x="87.3" y="398.6" font-size="10.5">2</text><rect x="97.6" y="398.3" width="7.6" height="1.7"/><rect x="97.6" y="401.4" width="7.6" height="1.7"/><text x="110.2" y="406">0.30</text></g>
<text transform="translate(201.6,617.6) scale(1,1.09)" font-size="17.8" fill="#000" text-anchor="middle">Latitude</text>
<text transform="translate(25.0,481) rotate(-90)" font-size="21" fill="#000" text-anchor="middle">Tlimit (°C)</text>

<!-- Panel C -->
<text transform="translate(360.7,384.1) scale(1,1.1)" font-size="17.4" fill="#000">C)</text>
<rect x="403.5" y="378.8" width="279.4" height="197.3" fill="#fff"/>
<line x1="447.4" y1="378.8" x2="447.4" y2="576.1" stroke="#EBEBEB" stroke-width="0.6"/><line x1="510.9" y1="378.8" x2="510.9" y2="576.1" stroke="#EBEBEB" stroke-width="0.6"/><line x1="574.5" y1="378.8" x2="574.5" y2="576.1" stroke="#EBEBEB" stroke-width="0.6"/><line x1="638.0" y1="378.8" x2="638.0" y2="576.1" stroke="#EBEBEB" stroke-width="0.6"/><line x1="403.5" y1="559.8" x2="682.9" y2="559.8" stroke="#EBEBEB" stroke-width="0.6"/><line x1="403.5" y1="502.6" x2="682.9" y2="502.6" stroke="#EBEBEB" stroke-width="0.6"/><line x1="403.5" y1="445.4" x2="682.9" y2="445.4" stroke="#EBEBEB" stroke-width="0.6"/><line x1="403.5" y1="388.2" x2="682.9" y2="388.2" stroke="#EBEBEB" stroke-width="0.6"/><line x1="415.7" y1="378.8" x2="415.7" y2="576.1" stroke="#EBEBEB" stroke-width="1.1"/><line x1="479.2" y1="378.8" x2="479.2" y2="576.1" stroke="#EBEBEB" stroke-width="1.1"/><line x1="542.7" y1="378.8" x2="542.7" y2="576.1" stroke="#EBEBEB" stroke-width="1.1"/><line x1="606.2" y1="378.8" x2="606.2" y2="576.1" stroke="#EBEBEB" stroke-width="1.1"/><line x1="669.7" y1="378.8" x2="669.7" y2="576.1" stroke="#EBEBEB" stroke-width="1.1"/><line x1="403.5" y1="531.2" x2="682.9" y2="531.2" stroke="#EBEBEB" stroke-width="1.1"/><line x1="403.5" y1="474.0" x2="682.9" y2="474.0" stroke="#EBEBEB" stroke-width="1.1"/><line x1="403.5" y1="416.8" x2="682.9" y2="416.8" stroke="#EBEBEB" stroke-width="1.1"/>
<g clip-path="url(#pc)">
<circle cx="468.6" cy="395.5" r="5.4" fill="#008B00" stroke="#000" stroke-width="0.9"/><circle cx="468.6" cy="390.3" r="5.4" fill="#008B00" stroke="#000" stroke-width="0.9"/><circle cx="475.7" cy="399.9" r="5.4" fill="#008B00" stroke="#000" stroke-width="0.9"/><circle cx="503.3" cy="396.8" r="5.4" fill="#008B00" stroke="#000" stroke-width="0.9"/><circle cx="503.3" cy="386.8" r="5.4" fill="#008B00" stroke="#000" stroke-width="0.9"/><circle cx="503.3" cy="391.4" r="5.4" fill="#008B00" stroke="#000" stroke-width="0.9"/><circle cx="523.3" cy="431.7" r="5.4" fill="#008B00" stroke="#000" stroke-width="0.9"/><circle cx="523.3" cy="445.4" r="5.4" fill="#008B00" stroke="#000" stroke-width="0.9"/><circle cx="520.9" cy="474" r="5.4" fill="#008B00" stroke="#000" stroke-width="0.9"/><circle cx="465.1" cy="494.4" r="5.4" fill="#8B3E2F" stroke="#000" stroke-width="0.9"/><circle cx="465.1" cy="498.8" r="5.4" fill="#8B3E2F" stroke="#000" stroke-width="0.9"/><circle cx="480.1" cy="496.6" r="5.4" fill="#8B3E2F" stroke="#000" stroke-width="0.9"/><circle cx="480.1" cy="502.4" r="5.4" fill="#8B3E2F" stroke="#000" stroke-width="0.9"/><circle cx="478.7" cy="509" r="5.4" fill="#8B3E2F" stroke="#000" stroke-width="0.9"/><circle cx="518.7" cy="484.1" r="5.4" fill="#8B3E2F" stroke="#000" stroke-width="0.9"/><circle cx="511.9" cy="490.9" r="5.4" fill="#8B3E2F" stroke="#000" stroke-width="0.9"/><circle cx="518.7" cy="500" r="5.4" fill="#8B3E2F" stroke="#000" stroke-width="0.9"/><circle cx="525.5" cy="500.5" r="5.4" fill="#8B3E2F" stroke="#000" stroke-width="0.9"/><circle cx="529.4" cy="502.8" r="5.4" fill="#8B3E2F" stroke="#000" stroke-width="0.9"/><circle cx="536.2" cy="502.8" r="5.4" fill="#8B3E2F" stroke="#000" stroke-width="0.9"/><circle cx="545.2" cy="502.8" r="5.4" fill="#8B3E2F" stroke="#000" stroke-width="0.9"/><circle cx="521.5" cy="508.5" r="5.4" fill="#8B3E2F" stroke="#000" stroke-width="0.9"/><circle cx="517" cy="513.6" r="5.4" fill="#8B3E2F" stroke="#000" stroke-width="0.9"/><circle cx="524.3" cy="517.5" r="5.4" fill="#8B3E2F" stroke="#000" stroke-width="0.9"/><circle cx="517" cy="519.8" r="5.4" fill="#8B3E2F" stroke="#000" stroke-width="0.9"/><circle cx="523.8" cy="531.1" r="5.4" fill="#8B3E2F" stroke="#000" stroke-width="0.9"/><circle cx="539.6" cy="484.7" r="5.4" fill="#8B3E2F" stroke="#000" stroke-width="0.9"/><circle cx="539.6" cy="490.9" r="5.4" fill="#8B3E2F" stroke="#000" stroke-width="0.9"/><circle cx="553" cy="485.1" r="5.4" fill="#8B3E2F" stroke="#000" stroke-width="0.9"/><circle cx="532.9" cy="503.4" r="5.4" fill="#8B3E2F" stroke="#000" stroke-width="0.9"/><circle cx="539.4" cy="508.5" r="5.4" fill="#8B3E2F" stroke="#000" stroke-width="0.9"/><circle cx="543" cy="502" r="5.4" fill="#8B3E2F" stroke="#000" stroke-width="0.9"/><circle cx="550.3" cy="507.1" r="5.4" fill="#8B3E2F" stroke="#000" stroke-width="0.9"/><circle cx="552.5" cy="513.6" r="5.4" fill="#8B3E2F" stroke="#000" stroke-width="0.9"/><circle cx="562" cy="508.5" r="5.4" fill="#8B3E2F" stroke="#000" stroke-width="0.9"/><circle cx="562" cy="520.9" r="5.4" fill="#8B3E2F" stroke="#000" stroke-width="0.9"/><circle cx="552.5" cy="518.7" r="5.4" fill="#8B3E2F" stroke="#000" stroke-width="0.9"/><circle cx="552.5" cy="528.9" r="5.4" fill="#8B3E2F" stroke="#000" stroke-width="0.9"/><circle cx="547.6" cy="507.6" r="5.4" fill="#8B3E2F" stroke="#000" stroke-width="0.9"/><circle cx="594" cy="522.3" r="5.4" fill="#8B3E2F" stroke="#000" stroke-width="0.9"/><circle cx="594" cy="531.8" r="5.4" fill="#8B3E2F" stroke="#000" stroke-width="0.9"/><circle cx="524.3" cy="490.9" r="5.4" fill="#CDAD00" stroke="#000" stroke-width="0.9"/><circle cx="509" cy="502.8" r="5.4" fill="#008B00" stroke="#000" stroke-width="0.9"/>
<path d="M464.8,426.0L466.9,428.1L469.1,430.2L471.2,432.4L473.4,434.5L475.5,436.6L477.7,438.7L479.8,440.9L482.0,443.1L484.1,445.4L486.3,447.6L488.4,449.9L490.6,452.1L492.7,454.4L494.9,456.6L497.0,458.8L499.1,461.0L501.3,463.3L503.4,465.5L505.6,467.7L507.7,470.0L509.9,472.2L512.0,474.4L514.2,476.7L516.3,478.7L518.5,480.6L520.6,482.5L522.8,484.5L524.9,486.4L527.1,487.9L529.2,489.5L531.3,491.0L533.5,492.5L535.6,493.9L537.8,495.1L539.9,496.2L542.1,497.4L544.2,498.5L546.4,499.6L548.5,500.7L550.7,501.7L552.8,502.8L555.0,503.8L557.1,504.9L559.3,505.9L561.4,507.1L563.5,508.3L565.7,509.4L567.8,510.6L570.0,511.8L572.1,512.9L574.3,514.1L576.4,515.3L578.6,516.5L580.7,517.7L582.9,518.9L585.0,520.1L587.2,521.3L589.3,522.5L591.5,523.7L593.6,524.9L593.6,566.3L591.5,564.1L589.3,561.9L587.2,559.7L585.0,557.5L582.9,555.2L580.7,553.0L578.6,550.8L576.4,548.6L574.3,546.4L572.1,544.1L570.0,541.9L567.8,539.6L565.7,537.4L563.5,535.2L561.4,532.9L559.3,530.6L557.1,528.3L555.0,525.9L552.8,523.6L550.7,521.2L548.5,518.8L546.4,516.5L544.2,514.2L542.1,511.9L539.9,509.6L537.8,507.4L535.6,505.1L533.5,503.1L531.3,501.2L529.2,499.3L527.1,497.5L524.9,495.6L522.8,494.1L520.6,492.6L518.5,491.1L516.3,489.6L514.2,488.3L512.0,487.1L509.9,485.9L507.7,484.7L505.6,483.5L503.4,482.3L501.3,481.2L499.1,480.0L497.0,478.8L494.9,477.6L492.7,476.4L490.6,475.2L488.4,474.1L486.3,472.9L484.1,471.7L482.0,470.6L479.8,469.4L477.7,468.1L475.5,466.8L473.4,465.6L471.2,464.3L469.1,463.0L466.9,461.7L464.8,460.4Z" fill="#999" fill-opacity="0.4"/>
<line x1="464.8" y1="443.2" x2="593.6" y2="545.6" stroke="#3366FF" stroke-width="2.2"/>
</g>
<rect x="403.5" y="378.8" width="279.4" height="197.3" fill="none" stroke="#333" stroke-width="1.1"/>
<line x1="415.7" y1="576.1" x2="415.7" y2="579.7" stroke="#333" stroke-width="1"/><line x1="479.2" y1="576.1" x2="479.2" y2="579.7" stroke="#333" stroke-width="1"/><line x1="542.7" y1="576.1" x2="542.7" y2="579.7" stroke="#333" stroke-width="1"/><line x1="606.2" y1="576.1" x2="606.2" y2="579.7" stroke="#333" stroke-width="1"/><line x1="669.7" y1="576.1" x2="669.7" y2="579.7" stroke="#333" stroke-width="1"/><line x1="399.9" y1="531.2" x2="403.5" y2="531.2" stroke="#333" stroke-width="1"/><line x1="399.9" y1="474.0" x2="403.5" y2="474.0" stroke="#333" stroke-width="1"/><line x1="399.9" y1="416.8" x2="403.5" y2="416.8" stroke="#333" stroke-width="1"/>
<g font-size="15" fill="#4D4D4D"><text transform="translate(415.7,596.0) scale(1,1.145)" text-anchor="middle">0</text><text transform="translate(479.2,596.0) scale(1,1.145)" text-anchor="middle">-20</text><text transform="translate(542.7,596.0) scale(1,1.145)" text-anchor="middle">-40</text><text transform="translate(606.2,596.0) scale(1,1.145)" text-anchor="middle">-60</text><text transform="translate(669.7,596.0) scale(1,1.145)" text-anchor="middle">-80</text><text transform="translate(396.1,538.2) scale(1,1.145)" text-anchor="end">20</text><text transform="translate(396.1,481.0) scale(1,1.145)" text-anchor="end">30</text><text transform="translate(396.1,423.8) scale(1,1.145)" text-anchor="end">40</text></g>
<g font-size="14.2" fill="#000"><text x="417.1" y="425.4" font-style="italic">R</text><text x="428.4" y="418" font-size="10.5">2</text><rect x="438.7" y="417.7" width="7.6" height="1.7"/><rect x="438.7" y="420.8" width="7.6" height="1.7"/><text x="451.3" y="425.4">0.30</text></g>
<text transform="translate(543.2,617.6) scale(1,1.09)" font-size="17.8" fill="#000" text-anchor="middle">Latitude</text>
</svg>
</body></html>
